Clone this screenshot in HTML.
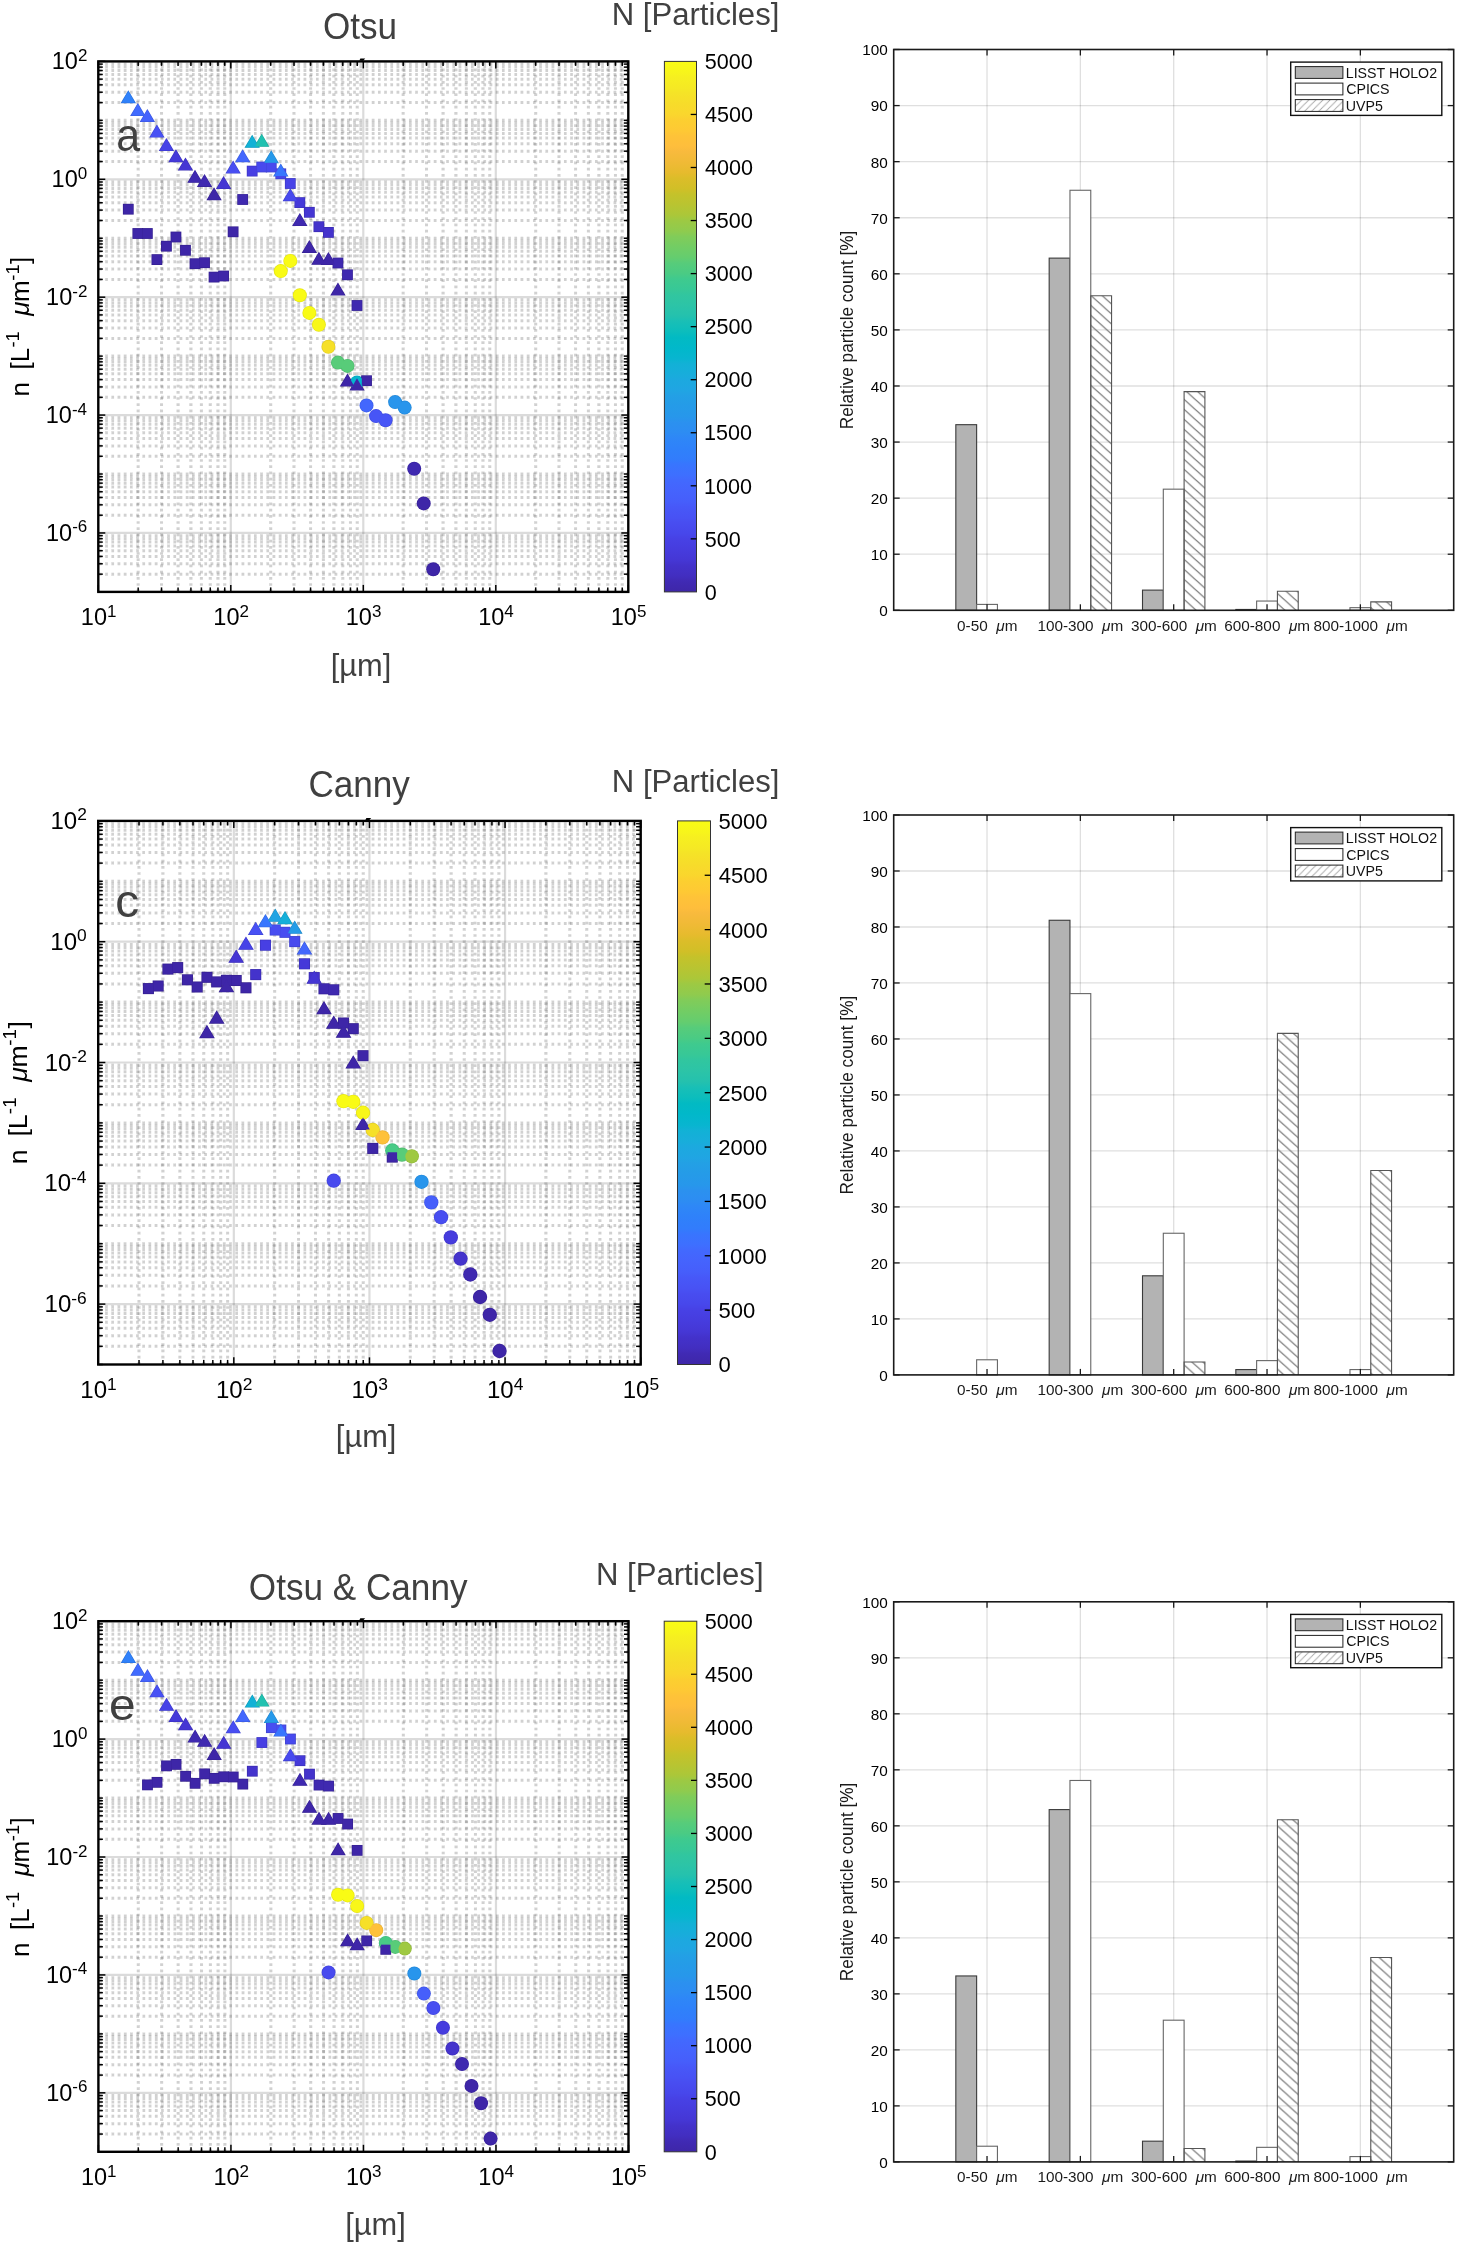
<!DOCTYPE html><html><head><meta charset="utf-8"><style>html,body{margin:0;padding:0;background:#fff}svg{display:block;will-change:transform}text{white-space:pre}</style></head><body>
<svg width="1458" height="2244" viewBox="0 0 1458 2244" font-family='"Liberation Sans", sans-serif'>
<rect width="1458" height="2244" fill="#fff"/>
<defs><filter id="gb" x="-1%" y="-1%" width="102%" height="102%"><feGaussianBlur stdDeviation="0.55"/></filter></defs>
<g stroke="#262626" stroke-opacity="0.21" stroke-width="3.0" fill="none" filter="url(#gb)">
<line x1="138.19" y1="591.9" x2="138.19" y2="61.4" stroke-dasharray="2.7 3.5" stroke-dashoffset="0.15"/>
<line x1="161.52" y1="591.9" x2="161.52" y2="61.4" stroke-dasharray="2.7 3.5" stroke-dashoffset="0.15"/>
<line x1="178.07" y1="591.9" x2="178.07" y2="61.4" stroke-dasharray="2.7 3.5" stroke-dashoffset="0.15"/>
<line x1="190.91" y1="591.9" x2="190.91" y2="61.4" stroke-dasharray="2.7 3.5" stroke-dashoffset="0.15"/>
<line x1="201.41" y1="591.9" x2="201.41" y2="61.4" stroke-dasharray="2.7 3.5" stroke-dashoffset="0.15"/>
<line x1="210.28" y1="591.9" x2="210.28" y2="61.4" stroke-dasharray="2.7 3.5" stroke-dashoffset="0.15"/>
<line x1="217.96" y1="591.9" x2="217.96" y2="61.4" stroke-dasharray="2.7 3.5" stroke-dashoffset="0.15"/>
<line x1="224.74" y1="591.9" x2="224.74" y2="61.4" stroke-dasharray="2.7 3.5" stroke-dashoffset="0.15"/>
<line x1="270.69" y1="591.9" x2="270.69" y2="61.4" stroke-dasharray="2.7 3.5" stroke-dashoffset="0.15"/>
<line x1="294.02" y1="591.9" x2="294.02" y2="61.4" stroke-dasharray="2.7 3.5" stroke-dashoffset="0.15"/>
<line x1="310.57" y1="591.9" x2="310.57" y2="61.4" stroke-dasharray="2.7 3.5" stroke-dashoffset="0.15"/>
<line x1="323.41" y1="591.9" x2="323.41" y2="61.4" stroke-dasharray="2.7 3.5" stroke-dashoffset="0.15"/>
<line x1="333.91" y1="591.9" x2="333.91" y2="61.4" stroke-dasharray="2.7 3.5" stroke-dashoffset="0.15"/>
<line x1="342.78" y1="591.9" x2="342.78" y2="61.4" stroke-dasharray="2.7 3.5" stroke-dashoffset="0.15"/>
<line x1="350.46" y1="591.9" x2="350.46" y2="61.4" stroke-dasharray="2.7 3.5" stroke-dashoffset="0.15"/>
<line x1="357.24" y1="591.9" x2="357.24" y2="61.4" stroke-dasharray="2.7 3.5" stroke-dashoffset="0.15"/>
<line x1="403.19" y1="591.9" x2="403.19" y2="61.4" stroke-dasharray="2.7 3.5" stroke-dashoffset="0.15"/>
<line x1="426.52" y1="591.9" x2="426.52" y2="61.4" stroke-dasharray="2.7 3.5" stroke-dashoffset="0.15"/>
<line x1="443.07" y1="591.9" x2="443.07" y2="61.4" stroke-dasharray="2.7 3.5" stroke-dashoffset="0.15"/>
<line x1="455.91" y1="591.9" x2="455.91" y2="61.4" stroke-dasharray="2.7 3.5" stroke-dashoffset="0.15"/>
<line x1="466.41" y1="591.9" x2="466.41" y2="61.4" stroke-dasharray="2.7 3.5" stroke-dashoffset="0.15"/>
<line x1="475.28" y1="591.9" x2="475.28" y2="61.4" stroke-dasharray="2.7 3.5" stroke-dashoffset="0.15"/>
<line x1="482.96" y1="591.9" x2="482.96" y2="61.4" stroke-dasharray="2.7 3.5" stroke-dashoffset="0.15"/>
<line x1="489.74" y1="591.9" x2="489.74" y2="61.4" stroke-dasharray="2.7 3.5" stroke-dashoffset="0.15"/>
<line x1="535.69" y1="591.9" x2="535.69" y2="61.4" stroke-dasharray="2.7 3.5" stroke-dashoffset="0.15"/>
<line x1="559.02" y1="591.9" x2="559.02" y2="61.4" stroke-dasharray="2.7 3.5" stroke-dashoffset="0.15"/>
<line x1="575.57" y1="591.9" x2="575.57" y2="61.4" stroke-dasharray="2.7 3.5" stroke-dashoffset="0.15"/>
<line x1="588.41" y1="591.9" x2="588.41" y2="61.4" stroke-dasharray="2.7 3.5" stroke-dashoffset="0.15"/>
<line x1="598.91" y1="591.9" x2="598.91" y2="61.4" stroke-dasharray="2.7 3.5" stroke-dashoffset="0.15"/>
<line x1="607.78" y1="591.9" x2="607.78" y2="61.4" stroke-dasharray="2.7 3.5" stroke-dashoffset="0.15"/>
<line x1="615.46" y1="591.9" x2="615.46" y2="61.4" stroke-dasharray="2.7 3.5" stroke-dashoffset="0.15"/>
<line x1="622.24" y1="591.9" x2="622.24" y2="61.4" stroke-dasharray="2.7 3.5" stroke-dashoffset="0.15"/>
<line x1="98.3" y1="574.16" x2="628.3" y2="574.16" stroke-dasharray="2.7 3.5" stroke-dashoffset="-0.68"/>
<line x1="98.3" y1="563.78" x2="628.3" y2="563.78" stroke-dasharray="2.7 3.5" stroke-dashoffset="-0.68"/>
<line x1="98.3" y1="556.41" x2="628.3" y2="556.41" stroke-dasharray="2.7 3.5" stroke-dashoffset="-0.68"/>
<line x1="98.3" y1="550.7" x2="628.3" y2="550.7" stroke-dasharray="2.7 3.5" stroke-dashoffset="-0.68"/>
<line x1="98.3" y1="546.03" x2="628.3" y2="546.03" stroke-dasharray="2.7 3.5" stroke-dashoffset="-0.68"/>
<line x1="98.3" y1="542.09" x2="628.3" y2="542.09" stroke-dasharray="2.7 3.5" stroke-dashoffset="-0.68"/>
<line x1="98.3" y1="538.67" x2="628.3" y2="538.67" stroke-dasharray="2.7 3.5" stroke-dashoffset="-0.68"/>
<line x1="98.3" y1="535.65" x2="628.3" y2="535.65" stroke-dasharray="2.7 3.5" stroke-dashoffset="-0.68"/>
<line x1="98.3" y1="515.21" x2="628.3" y2="515.21" stroke-dasharray="2.7 3.5" stroke-dashoffset="-0.68"/>
<line x1="98.3" y1="504.83" x2="628.3" y2="504.83" stroke-dasharray="2.7 3.5" stroke-dashoffset="-0.68"/>
<line x1="98.3" y1="497.47" x2="628.3" y2="497.47" stroke-dasharray="2.7 3.5" stroke-dashoffset="-0.68"/>
<line x1="98.3" y1="491.76" x2="628.3" y2="491.76" stroke-dasharray="2.7 3.5" stroke-dashoffset="-0.68"/>
<line x1="98.3" y1="487.09" x2="628.3" y2="487.09" stroke-dasharray="2.7 3.5" stroke-dashoffset="-0.68"/>
<line x1="98.3" y1="483.14" x2="628.3" y2="483.14" stroke-dasharray="2.7 3.5" stroke-dashoffset="-0.68"/>
<line x1="98.3" y1="479.72" x2="628.3" y2="479.72" stroke-dasharray="2.7 3.5" stroke-dashoffset="-0.68"/>
<line x1="98.3" y1="476.71" x2="628.3" y2="476.71" stroke-dasharray="2.7 3.5" stroke-dashoffset="-0.68"/>
<line x1="98.3" y1="474.01" x2="628.3" y2="474.01" stroke-dasharray="2.7 3.5" stroke-dashoffset="-0.68"/>
<line x1="98.3" y1="456.27" x2="628.3" y2="456.27" stroke-dasharray="2.7 3.5" stroke-dashoffset="-0.68"/>
<line x1="98.3" y1="445.89" x2="628.3" y2="445.89" stroke-dasharray="2.7 3.5" stroke-dashoffset="-0.68"/>
<line x1="98.3" y1="438.52" x2="628.3" y2="438.52" stroke-dasharray="2.7 3.5" stroke-dashoffset="-0.68"/>
<line x1="98.3" y1="432.81" x2="628.3" y2="432.81" stroke-dasharray="2.7 3.5" stroke-dashoffset="-0.68"/>
<line x1="98.3" y1="428.14" x2="628.3" y2="428.14" stroke-dasharray="2.7 3.5" stroke-dashoffset="-0.68"/>
<line x1="98.3" y1="424.2" x2="628.3" y2="424.2" stroke-dasharray="2.7 3.5" stroke-dashoffset="-0.68"/>
<line x1="98.3" y1="420.78" x2="628.3" y2="420.78" stroke-dasharray="2.7 3.5" stroke-dashoffset="-0.68"/>
<line x1="98.3" y1="417.76" x2="628.3" y2="417.76" stroke-dasharray="2.7 3.5" stroke-dashoffset="-0.68"/>
<line x1="98.3" y1="397.32" x2="628.3" y2="397.32" stroke-dasharray="2.7 3.5" stroke-dashoffset="-0.68"/>
<line x1="98.3" y1="386.94" x2="628.3" y2="386.94" stroke-dasharray="2.7 3.5" stroke-dashoffset="-0.68"/>
<line x1="98.3" y1="379.58" x2="628.3" y2="379.58" stroke-dasharray="2.7 3.5" stroke-dashoffset="-0.68"/>
<line x1="98.3" y1="373.87" x2="628.3" y2="373.87" stroke-dasharray="2.7 3.5" stroke-dashoffset="-0.68"/>
<line x1="98.3" y1="369.2" x2="628.3" y2="369.2" stroke-dasharray="2.7 3.5" stroke-dashoffset="-0.68"/>
<line x1="98.3" y1="365.25" x2="628.3" y2="365.25" stroke-dasharray="2.7 3.5" stroke-dashoffset="-0.68"/>
<line x1="98.3" y1="361.83" x2="628.3" y2="361.83" stroke-dasharray="2.7 3.5" stroke-dashoffset="-0.68"/>
<line x1="98.3" y1="358.82" x2="628.3" y2="358.82" stroke-dasharray="2.7 3.5" stroke-dashoffset="-0.68"/>
<line x1="98.3" y1="356.12" x2="628.3" y2="356.12" stroke-dasharray="2.7 3.5" stroke-dashoffset="-0.68"/>
<line x1="98.3" y1="338.38" x2="628.3" y2="338.38" stroke-dasharray="2.7 3.5" stroke-dashoffset="-0.68"/>
<line x1="98.3" y1="328" x2="628.3" y2="328" stroke-dasharray="2.7 3.5" stroke-dashoffset="-0.68"/>
<line x1="98.3" y1="320.63" x2="628.3" y2="320.63" stroke-dasharray="2.7 3.5" stroke-dashoffset="-0.68"/>
<line x1="98.3" y1="314.92" x2="628.3" y2="314.92" stroke-dasharray="2.7 3.5" stroke-dashoffset="-0.68"/>
<line x1="98.3" y1="310.25" x2="628.3" y2="310.25" stroke-dasharray="2.7 3.5" stroke-dashoffset="-0.68"/>
<line x1="98.3" y1="306.31" x2="628.3" y2="306.31" stroke-dasharray="2.7 3.5" stroke-dashoffset="-0.68"/>
<line x1="98.3" y1="302.89" x2="628.3" y2="302.89" stroke-dasharray="2.7 3.5" stroke-dashoffset="-0.68"/>
<line x1="98.3" y1="299.87" x2="628.3" y2="299.87" stroke-dasharray="2.7 3.5" stroke-dashoffset="-0.68"/>
<line x1="98.3" y1="279.43" x2="628.3" y2="279.43" stroke-dasharray="2.7 3.5" stroke-dashoffset="-0.68"/>
<line x1="98.3" y1="269.05" x2="628.3" y2="269.05" stroke-dasharray="2.7 3.5" stroke-dashoffset="-0.68"/>
<line x1="98.3" y1="261.69" x2="628.3" y2="261.69" stroke-dasharray="2.7 3.5" stroke-dashoffset="-0.68"/>
<line x1="98.3" y1="255.98" x2="628.3" y2="255.98" stroke-dasharray="2.7 3.5" stroke-dashoffset="-0.68"/>
<line x1="98.3" y1="251.31" x2="628.3" y2="251.31" stroke-dasharray="2.7 3.5" stroke-dashoffset="-0.68"/>
<line x1="98.3" y1="247.36" x2="628.3" y2="247.36" stroke-dasharray="2.7 3.5" stroke-dashoffset="-0.68"/>
<line x1="98.3" y1="243.95" x2="628.3" y2="243.95" stroke-dasharray="2.7 3.5" stroke-dashoffset="-0.68"/>
<line x1="98.3" y1="240.93" x2="628.3" y2="240.93" stroke-dasharray="2.7 3.5" stroke-dashoffset="-0.68"/>
<line x1="98.3" y1="238.23" x2="628.3" y2="238.23" stroke-dasharray="2.7 3.5" stroke-dashoffset="-0.68"/>
<line x1="98.3" y1="220.49" x2="628.3" y2="220.49" stroke-dasharray="2.7 3.5" stroke-dashoffset="-0.68"/>
<line x1="98.3" y1="210.11" x2="628.3" y2="210.11" stroke-dasharray="2.7 3.5" stroke-dashoffset="-0.68"/>
<line x1="98.3" y1="202.75" x2="628.3" y2="202.75" stroke-dasharray="2.7 3.5" stroke-dashoffset="-0.68"/>
<line x1="98.3" y1="197.03" x2="628.3" y2="197.03" stroke-dasharray="2.7 3.5" stroke-dashoffset="-0.68"/>
<line x1="98.3" y1="192.37" x2="628.3" y2="192.37" stroke-dasharray="2.7 3.5" stroke-dashoffset="-0.68"/>
<line x1="98.3" y1="188.42" x2="628.3" y2="188.42" stroke-dasharray="2.7 3.5" stroke-dashoffset="-0.68"/>
<line x1="98.3" y1="185" x2="628.3" y2="185" stroke-dasharray="2.7 3.5" stroke-dashoffset="-0.68"/>
<line x1="98.3" y1="181.99" x2="628.3" y2="181.99" stroke-dasharray="2.7 3.5" stroke-dashoffset="-0.68"/>
<line x1="98.3" y1="161.54" x2="628.3" y2="161.54" stroke-dasharray="2.7 3.5" stroke-dashoffset="-0.68"/>
<line x1="98.3" y1="151.17" x2="628.3" y2="151.17" stroke-dasharray="2.7 3.5" stroke-dashoffset="-0.68"/>
<line x1="98.3" y1="143.8" x2="628.3" y2="143.8" stroke-dasharray="2.7 3.5" stroke-dashoffset="-0.68"/>
<line x1="98.3" y1="138.09" x2="628.3" y2="138.09" stroke-dasharray="2.7 3.5" stroke-dashoffset="-0.68"/>
<line x1="98.3" y1="133.42" x2="628.3" y2="133.42" stroke-dasharray="2.7 3.5" stroke-dashoffset="-0.68"/>
<line x1="98.3" y1="129.48" x2="628.3" y2="129.48" stroke-dasharray="2.7 3.5" stroke-dashoffset="-0.68"/>
<line x1="98.3" y1="126.06" x2="628.3" y2="126.06" stroke-dasharray="2.7 3.5" stroke-dashoffset="-0.68"/>
<line x1="98.3" y1="123.04" x2="628.3" y2="123.04" stroke-dasharray="2.7 3.5" stroke-dashoffset="-0.68"/>
<line x1="98.3" y1="120.34" x2="628.3" y2="120.34" stroke-dasharray="2.7 3.5" stroke-dashoffset="-0.68"/>
<line x1="98.3" y1="102.6" x2="628.3" y2="102.6" stroke-dasharray="2.7 3.5" stroke-dashoffset="-0.68"/>
<line x1="98.3" y1="92.22" x2="628.3" y2="92.22" stroke-dasharray="2.7 3.5" stroke-dashoffset="-0.68"/>
<line x1="98.3" y1="84.86" x2="628.3" y2="84.86" stroke-dasharray="2.7 3.5" stroke-dashoffset="-0.68"/>
<line x1="98.3" y1="79.14" x2="628.3" y2="79.14" stroke-dasharray="2.7 3.5" stroke-dashoffset="-0.68"/>
<line x1="98.3" y1="74.48" x2="628.3" y2="74.48" stroke-dasharray="2.7 3.5" stroke-dashoffset="-0.68"/>
<line x1="98.3" y1="70.53" x2="628.3" y2="70.53" stroke-dasharray="2.7 3.5" stroke-dashoffset="-0.68"/>
<line x1="98.3" y1="67.11" x2="628.3" y2="67.11" stroke-dasharray="2.7 3.5" stroke-dashoffset="-0.68"/>
<line x1="98.3" y1="64.1" x2="628.3" y2="64.1" stroke-dasharray="2.7 3.5" stroke-dashoffset="-0.68"/>
</g>
<g stroke="#262626" stroke-opacity="0.165" stroke-width="2.2" fill="none">
<line x1="230.8" y1="61.4" x2="230.8" y2="591.9"/>
<line x1="363.3" y1="61.4" x2="363.3" y2="591.9"/>
<line x1="495.8" y1="61.4" x2="495.8" y2="591.9"/>
<line x1="98.3" y1="532.96" x2="628.3" y2="532.96"/>
<line x1="98.3" y1="415.07" x2="628.3" y2="415.07"/>
<line x1="98.3" y1="297.18" x2="628.3" y2="297.18"/>
<line x1="98.3" y1="179.29" x2="628.3" y2="179.29"/>
</g>
<circle cx="280.77" cy="271.1" r="7" fill="#e5e613"/>
<circle cx="290.3" cy="260.9" r="7" fill="#e5e613"/>
<circle cx="299.83" cy="295.3" r="7" fill="#e5e613"/>
<circle cx="309.36" cy="312.9" r="7" fill="#e5e613"/>
<circle cx="318.89" cy="324.8" r="7" fill="#e4e317"/>
<circle cx="328.42" cy="346.7" r="7" fill="#e2ce24"/>
<circle cx="337.94" cy="362.6" r="7" fill="#50bb6f"/>
<circle cx="347.47" cy="365.9" r="7" fill="#50bb6f"/>
<circle cx="357" cy="382.5" r="7" fill="#04a7bd"/>
<circle cx="366.53" cy="405.4" r="7" fill="#3d5ee8"/>
<circle cx="376.06" cy="416.1" r="7" fill="#414ee2"/>
<circle cx="385.59" cy="420.2" r="7" fill="#414ee2"/>
<circle cx="395.12" cy="402.1" r="7" fill="#2489d9"/>
<circle cx="404.65" cy="407.6" r="7" fill="#2489d9"/>
<circle cx="414.18" cy="468.8" r="7" fill="#3925a1"/>
<circle cx="423.71" cy="503.4" r="7" fill="#39229a"/>
<circle cx="433.24" cy="569.2" r="7" fill="#39229a"/>
<rect x="122.9" y="203.8" width="10.8" height="10.8" fill="#352090"/>
<rect x="132.43" y="228.1" width="10.8" height="10.8" fill="#352090"/>
<rect x="141.96" y="228.1" width="10.8" height="10.8" fill="#352090"/>
<rect x="151.49" y="254.2" width="10.8" height="10.8" fill="#352090"/>
<rect x="161.02" y="240.8" width="10.8" height="10.8" fill="#352090"/>
<rect x="170.54" y="231.6" width="10.8" height="10.8" fill="#352090"/>
<rect x="180.07" y="244.9" width="10.8" height="10.8" fill="#352090"/>
<rect x="189.6" y="258.3" width="10.8" height="10.8" fill="#352090"/>
<rect x="199.13" y="257.3" width="10.8" height="10.8" fill="#352090"/>
<rect x="208.66" y="271.7" width="10.8" height="10.8" fill="#352090"/>
<rect x="218.19" y="270.6" width="10.8" height="10.8" fill="#352090"/>
<rect x="227.72" y="226.4" width="10.8" height="10.8" fill="#352090"/>
<rect x="237.25" y="194.1" width="10.8" height="10.8" fill="#362397"/>
<rect x="246.78" y="165.7" width="10.8" height="10.8" fill="#3d36c3"/>
<rect x="256.31" y="161.6" width="10.8" height="10.8" fill="#3d3fcc"/>
<rect x="265.84" y="161.6" width="10.8" height="10.8" fill="#3d3fcc"/>
<rect x="275.37" y="168.4" width="10.8" height="10.8" fill="#3d3dca"/>
<rect x="284.9" y="178.1" width="10.8" height="10.8" fill="#3d39c6"/>
<rect x="294.43" y="197.2" width="10.8" height="10.8" fill="#3b31ba"/>
<rect x="303.96" y="206.9" width="10.8" height="10.8" fill="#3b2eb5"/>
<rect x="313.49" y="221.3" width="10.8" height="10.8" fill="#3a2baf"/>
<rect x="323.02" y="227" width="10.8" height="10.8" fill="#3a2baf"/>
<rect x="332.54" y="257.6" width="10.8" height="10.8" fill="#362397"/>
<rect x="342.07" y="269.4" width="10.8" height="10.8" fill="#362397"/>
<rect x="351.6" y="300.1" width="10.8" height="10.8" fill="#362397"/>
<rect x="361.13" y="375.3" width="10.8" height="10.8" fill="#352090"/>
<path d="M128.3 90.3L136 103.3L120.6 103.3Z" fill="#286ed7"/>
<path d="M137.83 102.9L145.53 115.9L130.13 115.9Z" fill="#375cda"/>
<path d="M147.36 109.1L155.06 122.1L139.66 122.1Z" fill="#3b55d9"/>
<path d="M156.89 124.5L164.59 137.5L149.19 137.5Z" fill="#3d45d1"/>
<path d="M166.42 137.9L174.12 150.9L158.72 150.9Z" fill="#3d39c6"/>
<path d="M175.94 149.2L183.64 162.2L168.25 162.2Z" fill="#3b31ba"/>
<path d="M185.47 157.4L193.17 170.4L177.77 170.4Z" fill="#3b2eb5"/>
<path d="M195 169.8L202.7 182.8L187.3 182.8Z" fill="#362397"/>
<path d="M204.53 173.9L212.23 186.9L196.83 186.9Z" fill="#362397"/>
<path d="M214.06 187.2L221.76 200.2L206.36 200.2Z" fill="#352090"/>
<path d="M223.59 175.9L231.29 188.9L215.89 188.9Z" fill="#3b2eb5"/>
<path d="M233.12 160.5L240.82 173.5L225.42 173.5Z" fill="#3d43cf"/>
<path d="M242.65 149.2L250.35 162.2L234.95 162.2Z" fill="#3958d9"/>
<path d="M252.18 134.8L259.88 147.8L244.48 147.8Z" fill="#0e98b8"/>
<path d="M261.71 133.7L269.41 146.7L254.01 146.7Z" fill="#1ca597"/>
<path d="M271.24 150.2L278.94 163.2L263.54 163.2Z" fill="#2083c9"/>
<path d="M280.77 163.6L288.47 176.6L273.07 176.6Z" fill="#3065da"/>
<path d="M290.3 188.3L298 201.3L282.6 201.3Z" fill="#3d3fcc"/>
<path d="M299.83 213L307.53 226L292.13 226Z" fill="#362397"/>
<path d="M309.36 239.9L317.06 252.9L301.66 252.9Z" fill="#352090"/>
<path d="M318.89 251.8L326.59 264.8L311.19 264.8Z" fill="#352090"/>
<path d="M328.42 251.9L336.12 264.9L320.72 264.9Z" fill="#352090"/>
<path d="M337.94 282.4L345.64 295.4L330.24 295.4Z" fill="#352090"/>
<path d="M347.47 373.4L355.17 386.4L339.77 386.4Z" fill="#352090"/>
<path d="M357 377.5L364.7 390.5L349.3 390.5Z" fill="#352090"/>
<circle cx="280.77" cy="271.1" r="6.3" fill="#f9fb15"/>
<circle cx="290.3" cy="260.9" r="6.3" fill="#f9fb15"/>
<circle cx="299.83" cy="295.3" r="6.3" fill="#f9fb15"/>
<circle cx="309.36" cy="312.9" r="6.3" fill="#f9fb15"/>
<circle cx="318.89" cy="324.8" r="6.3" fill="#f8f719"/>
<circle cx="328.42" cy="346.7" r="6.3" fill="#f6e028"/>
<circle cx="337.94" cy="362.6" r="6.3" fill="#58cc79"/>
<circle cx="347.47" cy="365.9" r="6.3" fill="#58cc79"/>
<circle cx="357" cy="382.5" r="6.3" fill="#05b6ce"/>
<circle cx="366.53" cy="405.4" r="6.3" fill="#4367fd"/>
<circle cx="376.06" cy="416.1" r="6.3" fill="#4755f6"/>
<circle cx="385.59" cy="420.2" r="6.3" fill="#4755f6"/>
<circle cx="395.12" cy="402.1" r="6.3" fill="#2895ec"/>
<circle cx="404.65" cy="407.6" r="6.3" fill="#2895ec"/>
<circle cx="414.18" cy="468.8" r="6.3" fill="#3f29b0"/>
<circle cx="423.71" cy="503.4" r="6.3" fill="#3e26a8"/>
<circle cx="433.24" cy="569.2" r="6.3" fill="#3e26a8"/>
<rect x="123.6" y="204.5" width="9.4" height="9.4" fill="#3e26a8"/>
<rect x="133.13" y="228.8" width="9.4" height="9.4" fill="#3e26a8"/>
<rect x="142.66" y="228.8" width="9.4" height="9.4" fill="#3e26a8"/>
<rect x="152.19" y="254.9" width="9.4" height="9.4" fill="#3e26a8"/>
<rect x="161.72" y="241.5" width="9.4" height="9.4" fill="#3e26a8"/>
<rect x="171.25" y="232.3" width="9.4" height="9.4" fill="#3e26a8"/>
<rect x="180.77" y="245.6" width="9.4" height="9.4" fill="#3e26a8"/>
<rect x="190.3" y="259" width="9.4" height="9.4" fill="#3e26a8"/>
<rect x="199.83" y="258" width="9.4" height="9.4" fill="#3e26a8"/>
<rect x="209.36" y="272.4" width="9.4" height="9.4" fill="#3e26a8"/>
<rect x="218.89" y="271.3" width="9.4" height="9.4" fill="#3e26a8"/>
<rect x="228.42" y="227.1" width="9.4" height="9.4" fill="#3e26a8"/>
<rect x="237.95" y="194.8" width="9.4" height="9.4" fill="#3f29b0"/>
<rect x="247.48" y="166.4" width="9.4" height="9.4" fill="#473fe3"/>
<rect x="257.01" y="162.3" width="9.4" height="9.4" fill="#484aee"/>
<rect x="266.54" y="162.3" width="9.4" height="9.4" fill="#484aee"/>
<rect x="276.07" y="169.1" width="9.4" height="9.4" fill="#4747eb"/>
<rect x="285.6" y="178.8" width="9.4" height="9.4" fill="#4743e7"/>
<rect x="295.13" y="197.9" width="9.4" height="9.4" fill="#4539d9"/>
<rect x="304.66" y="207.6" width="9.4" height="9.4" fill="#4536d3"/>
<rect x="314.19" y="222" width="9.4" height="9.4" fill="#4433cc"/>
<rect x="323.72" y="227.7" width="9.4" height="9.4" fill="#4433cc"/>
<rect x="333.24" y="258.3" width="9.4" height="9.4" fill="#3f29b0"/>
<rect x="342.77" y="270.1" width="9.4" height="9.4" fill="#3f29b0"/>
<rect x="352.3" y="300.8" width="9.4" height="9.4" fill="#3f29b0"/>
<rect x="361.83" y="376" width="9.4" height="9.4" fill="#3e26a8"/>
<path d="M128.3 91.03L134.95 102.78L121.65 102.78Z" fill="#2f81fa"/>
<path d="M137.83 103.64L144.48 115.38L131.18 115.38Z" fill="#416bfe"/>
<path d="M147.36 109.83L154.01 121.58L140.71 121.58Z" fill="#4563fd"/>
<path d="M156.89 125.23L163.54 136.97L150.24 136.97Z" fill="#4851f4"/>
<path d="M166.42 138.63L173.07 150.38L159.77 150.38Z" fill="#4743e7"/>
<path d="M175.94 149.93L182.59 161.67L169.29 161.67Z" fill="#4539d9"/>
<path d="M185.47 158.13L192.12 169.88L178.82 169.88Z" fill="#4536d3"/>
<path d="M195 170.53L201.65 182.28L188.35 182.28Z" fill="#3f29b0"/>
<path d="M204.53 174.63L211.18 186.37L197.88 186.37Z" fill="#3f29b0"/>
<path d="M214.06 187.93L220.71 199.67L207.41 199.67Z" fill="#3e26a8"/>
<path d="M223.59 176.63L230.24 188.38L216.94 188.38Z" fill="#4536d3"/>
<path d="M233.12 161.23L239.77 172.97L226.47 172.97Z" fill="#484ef1"/>
<path d="M242.65 149.93L249.3 161.67L236 161.67Z" fill="#4367fd"/>
<path d="M252.18 135.53L258.83 147.28L245.53 147.28Z" fill="#11b1d6"/>
<path d="M261.71 134.43L268.36 146.17L255.06 146.17Z" fill="#21c1b0"/>
<path d="M271.24 150.93L277.89 162.67L264.59 162.67Z" fill="#2699ea"/>
<path d="M280.77 164.33L287.42 176.07L274.12 176.07Z" fill="#3876fe"/>
<path d="M290.3 189.03L296.95 200.78L283.65 200.78Z" fill="#484aee"/>
<path d="M299.83 213.73L306.48 225.47L293.18 225.47Z" fill="#3f29b0"/>
<path d="M309.36 240.63L316.01 252.38L302.71 252.38Z" fill="#3e26a8"/>
<path d="M318.89 252.53L325.54 264.28L312.24 264.28Z" fill="#3e26a8"/>
<path d="M328.42 252.63L335.07 264.38L321.77 264.38Z" fill="#3e26a8"/>
<path d="M337.94 283.13L344.59 294.88L331.29 294.88Z" fill="#3e26a8"/>
<path d="M347.47 374.13L354.12 385.88L340.82 385.88Z" fill="#3e26a8"/>
<path d="M357 378.24L363.65 389.98L350.35 389.98Z" fill="#3e26a8"/>
<g stroke="#000" stroke-width="1.5" fill="none">
<line x1="98.3" y1="591.9" x2="98.3" y2="584.9"/>
<line x1="98.3" y1="61.4" x2="98.3" y2="68.4"/>
<line x1="138.19" y1="591.9" x2="138.19" y2="587.4"/>
<line x1="138.19" y1="61.4" x2="138.19" y2="65.9"/>
<line x1="161.52" y1="591.9" x2="161.52" y2="587.4"/>
<line x1="161.52" y1="61.4" x2="161.52" y2="65.9"/>
<line x1="178.07" y1="591.9" x2="178.07" y2="587.4"/>
<line x1="178.07" y1="61.4" x2="178.07" y2="65.9"/>
<line x1="190.91" y1="591.9" x2="190.91" y2="587.4"/>
<line x1="190.91" y1="61.4" x2="190.91" y2="65.9"/>
<line x1="201.41" y1="591.9" x2="201.41" y2="587.4"/>
<line x1="201.41" y1="61.4" x2="201.41" y2="65.9"/>
<line x1="210.28" y1="591.9" x2="210.28" y2="587.4"/>
<line x1="210.28" y1="61.4" x2="210.28" y2="65.9"/>
<line x1="217.96" y1="591.9" x2="217.96" y2="587.4"/>
<line x1="217.96" y1="61.4" x2="217.96" y2="65.9"/>
<line x1="224.74" y1="591.9" x2="224.74" y2="587.4"/>
<line x1="224.74" y1="61.4" x2="224.74" y2="65.9"/>
<line x1="230.8" y1="591.9" x2="230.8" y2="584.9"/>
<line x1="230.8" y1="61.4" x2="230.8" y2="68.4"/>
<line x1="270.69" y1="591.9" x2="270.69" y2="587.4"/>
<line x1="270.69" y1="61.4" x2="270.69" y2="65.9"/>
<line x1="294.02" y1="591.9" x2="294.02" y2="587.4"/>
<line x1="294.02" y1="61.4" x2="294.02" y2="65.9"/>
<line x1="310.57" y1="591.9" x2="310.57" y2="587.4"/>
<line x1="310.57" y1="61.4" x2="310.57" y2="65.9"/>
<line x1="323.41" y1="591.9" x2="323.41" y2="587.4"/>
<line x1="323.41" y1="61.4" x2="323.41" y2="65.9"/>
<line x1="333.91" y1="591.9" x2="333.91" y2="587.4"/>
<line x1="333.91" y1="61.4" x2="333.91" y2="65.9"/>
<line x1="342.78" y1="591.9" x2="342.78" y2="587.4"/>
<line x1="342.78" y1="61.4" x2="342.78" y2="65.9"/>
<line x1="350.46" y1="591.9" x2="350.46" y2="587.4"/>
<line x1="350.46" y1="61.4" x2="350.46" y2="65.9"/>
<line x1="357.24" y1="591.9" x2="357.24" y2="587.4"/>
<line x1="357.24" y1="61.4" x2="357.24" y2="65.9"/>
<line x1="363.3" y1="591.9" x2="363.3" y2="584.9"/>
<line x1="363.3" y1="61.4" x2="363.3" y2="68.4"/>
<line x1="403.19" y1="591.9" x2="403.19" y2="587.4"/>
<line x1="403.19" y1="61.4" x2="403.19" y2="65.9"/>
<line x1="426.52" y1="591.9" x2="426.52" y2="587.4"/>
<line x1="426.52" y1="61.4" x2="426.52" y2="65.9"/>
<line x1="443.07" y1="591.9" x2="443.07" y2="587.4"/>
<line x1="443.07" y1="61.4" x2="443.07" y2="65.9"/>
<line x1="455.91" y1="591.9" x2="455.91" y2="587.4"/>
<line x1="455.91" y1="61.4" x2="455.91" y2="65.9"/>
<line x1="466.41" y1="591.9" x2="466.41" y2="587.4"/>
<line x1="466.41" y1="61.4" x2="466.41" y2="65.9"/>
<line x1="475.28" y1="591.9" x2="475.28" y2="587.4"/>
<line x1="475.28" y1="61.4" x2="475.28" y2="65.9"/>
<line x1="482.96" y1="591.9" x2="482.96" y2="587.4"/>
<line x1="482.96" y1="61.4" x2="482.96" y2="65.9"/>
<line x1="489.74" y1="591.9" x2="489.74" y2="587.4"/>
<line x1="489.74" y1="61.4" x2="489.74" y2="65.9"/>
<line x1="495.8" y1="591.9" x2="495.8" y2="584.9"/>
<line x1="495.8" y1="61.4" x2="495.8" y2="68.4"/>
<line x1="535.69" y1="591.9" x2="535.69" y2="587.4"/>
<line x1="535.69" y1="61.4" x2="535.69" y2="65.9"/>
<line x1="559.02" y1="591.9" x2="559.02" y2="587.4"/>
<line x1="559.02" y1="61.4" x2="559.02" y2="65.9"/>
<line x1="575.57" y1="591.9" x2="575.57" y2="587.4"/>
<line x1="575.57" y1="61.4" x2="575.57" y2="65.9"/>
<line x1="588.41" y1="591.9" x2="588.41" y2="587.4"/>
<line x1="588.41" y1="61.4" x2="588.41" y2="65.9"/>
<line x1="598.91" y1="591.9" x2="598.91" y2="587.4"/>
<line x1="598.91" y1="61.4" x2="598.91" y2="65.9"/>
<line x1="607.78" y1="591.9" x2="607.78" y2="587.4"/>
<line x1="607.78" y1="61.4" x2="607.78" y2="65.9"/>
<line x1="615.46" y1="591.9" x2="615.46" y2="587.4"/>
<line x1="615.46" y1="61.4" x2="615.46" y2="65.9"/>
<line x1="622.24" y1="591.9" x2="622.24" y2="587.4"/>
<line x1="622.24" y1="61.4" x2="622.24" y2="65.9"/>
<line x1="628.3" y1="591.9" x2="628.3" y2="584.9"/>
<line x1="628.3" y1="61.4" x2="628.3" y2="68.4"/>
<line x1="98.3" y1="591.9" x2="102.8" y2="591.9"/>
<line x1="628.3" y1="591.9" x2="623.8" y2="591.9"/>
<line x1="98.3" y1="574.16" x2="102.8" y2="574.16"/>
<line x1="628.3" y1="574.16" x2="623.8" y2="574.16"/>
<line x1="98.3" y1="563.78" x2="102.8" y2="563.78"/>
<line x1="628.3" y1="563.78" x2="623.8" y2="563.78"/>
<line x1="98.3" y1="556.41" x2="102.8" y2="556.41"/>
<line x1="628.3" y1="556.41" x2="623.8" y2="556.41"/>
<line x1="98.3" y1="550.7" x2="102.8" y2="550.7"/>
<line x1="628.3" y1="550.7" x2="623.8" y2="550.7"/>
<line x1="98.3" y1="546.03" x2="102.8" y2="546.03"/>
<line x1="628.3" y1="546.03" x2="623.8" y2="546.03"/>
<line x1="98.3" y1="542.09" x2="102.8" y2="542.09"/>
<line x1="628.3" y1="542.09" x2="623.8" y2="542.09"/>
<line x1="98.3" y1="538.67" x2="102.8" y2="538.67"/>
<line x1="628.3" y1="538.67" x2="623.8" y2="538.67"/>
<line x1="98.3" y1="535.65" x2="102.8" y2="535.65"/>
<line x1="628.3" y1="535.65" x2="623.8" y2="535.65"/>
<line x1="98.3" y1="532.96" x2="105.3" y2="532.96"/>
<line x1="628.3" y1="532.96" x2="621.3" y2="532.96"/>
<line x1="98.3" y1="515.21" x2="102.8" y2="515.21"/>
<line x1="628.3" y1="515.21" x2="623.8" y2="515.21"/>
<line x1="98.3" y1="504.83" x2="102.8" y2="504.83"/>
<line x1="628.3" y1="504.83" x2="623.8" y2="504.83"/>
<line x1="98.3" y1="497.47" x2="102.8" y2="497.47"/>
<line x1="628.3" y1="497.47" x2="623.8" y2="497.47"/>
<line x1="98.3" y1="491.76" x2="102.8" y2="491.76"/>
<line x1="628.3" y1="491.76" x2="623.8" y2="491.76"/>
<line x1="98.3" y1="487.09" x2="102.8" y2="487.09"/>
<line x1="628.3" y1="487.09" x2="623.8" y2="487.09"/>
<line x1="98.3" y1="483.14" x2="102.8" y2="483.14"/>
<line x1="628.3" y1="483.14" x2="623.8" y2="483.14"/>
<line x1="98.3" y1="479.72" x2="102.8" y2="479.72"/>
<line x1="628.3" y1="479.72" x2="623.8" y2="479.72"/>
<line x1="98.3" y1="476.71" x2="102.8" y2="476.71"/>
<line x1="628.3" y1="476.71" x2="623.8" y2="476.71"/>
<line x1="98.3" y1="474.01" x2="102.8" y2="474.01"/>
<line x1="628.3" y1="474.01" x2="623.8" y2="474.01"/>
<line x1="98.3" y1="456.27" x2="102.8" y2="456.27"/>
<line x1="628.3" y1="456.27" x2="623.8" y2="456.27"/>
<line x1="98.3" y1="445.89" x2="102.8" y2="445.89"/>
<line x1="628.3" y1="445.89" x2="623.8" y2="445.89"/>
<line x1="98.3" y1="438.52" x2="102.8" y2="438.52"/>
<line x1="628.3" y1="438.52" x2="623.8" y2="438.52"/>
<line x1="98.3" y1="432.81" x2="102.8" y2="432.81"/>
<line x1="628.3" y1="432.81" x2="623.8" y2="432.81"/>
<line x1="98.3" y1="428.14" x2="102.8" y2="428.14"/>
<line x1="628.3" y1="428.14" x2="623.8" y2="428.14"/>
<line x1="98.3" y1="424.2" x2="102.8" y2="424.2"/>
<line x1="628.3" y1="424.2" x2="623.8" y2="424.2"/>
<line x1="98.3" y1="420.78" x2="102.8" y2="420.78"/>
<line x1="628.3" y1="420.78" x2="623.8" y2="420.78"/>
<line x1="98.3" y1="417.76" x2="102.8" y2="417.76"/>
<line x1="628.3" y1="417.76" x2="623.8" y2="417.76"/>
<line x1="98.3" y1="415.07" x2="105.3" y2="415.07"/>
<line x1="628.3" y1="415.07" x2="621.3" y2="415.07"/>
<line x1="98.3" y1="397.32" x2="102.8" y2="397.32"/>
<line x1="628.3" y1="397.32" x2="623.8" y2="397.32"/>
<line x1="98.3" y1="386.94" x2="102.8" y2="386.94"/>
<line x1="628.3" y1="386.94" x2="623.8" y2="386.94"/>
<line x1="98.3" y1="379.58" x2="102.8" y2="379.58"/>
<line x1="628.3" y1="379.58" x2="623.8" y2="379.58"/>
<line x1="98.3" y1="373.87" x2="102.8" y2="373.87"/>
<line x1="628.3" y1="373.87" x2="623.8" y2="373.87"/>
<line x1="98.3" y1="369.2" x2="102.8" y2="369.2"/>
<line x1="628.3" y1="369.2" x2="623.8" y2="369.2"/>
<line x1="98.3" y1="365.25" x2="102.8" y2="365.25"/>
<line x1="628.3" y1="365.25" x2="623.8" y2="365.25"/>
<line x1="98.3" y1="361.83" x2="102.8" y2="361.83"/>
<line x1="628.3" y1="361.83" x2="623.8" y2="361.83"/>
<line x1="98.3" y1="358.82" x2="102.8" y2="358.82"/>
<line x1="628.3" y1="358.82" x2="623.8" y2="358.82"/>
<line x1="98.3" y1="356.12" x2="102.8" y2="356.12"/>
<line x1="628.3" y1="356.12" x2="623.8" y2="356.12"/>
<line x1="98.3" y1="338.38" x2="102.8" y2="338.38"/>
<line x1="628.3" y1="338.38" x2="623.8" y2="338.38"/>
<line x1="98.3" y1="328" x2="102.8" y2="328"/>
<line x1="628.3" y1="328" x2="623.8" y2="328"/>
<line x1="98.3" y1="320.63" x2="102.8" y2="320.63"/>
<line x1="628.3" y1="320.63" x2="623.8" y2="320.63"/>
<line x1="98.3" y1="314.92" x2="102.8" y2="314.92"/>
<line x1="628.3" y1="314.92" x2="623.8" y2="314.92"/>
<line x1="98.3" y1="310.25" x2="102.8" y2="310.25"/>
<line x1="628.3" y1="310.25" x2="623.8" y2="310.25"/>
<line x1="98.3" y1="306.31" x2="102.8" y2="306.31"/>
<line x1="628.3" y1="306.31" x2="623.8" y2="306.31"/>
<line x1="98.3" y1="302.89" x2="102.8" y2="302.89"/>
<line x1="628.3" y1="302.89" x2="623.8" y2="302.89"/>
<line x1="98.3" y1="299.87" x2="102.8" y2="299.87"/>
<line x1="628.3" y1="299.87" x2="623.8" y2="299.87"/>
<line x1="98.3" y1="297.18" x2="105.3" y2="297.18"/>
<line x1="628.3" y1="297.18" x2="621.3" y2="297.18"/>
<line x1="98.3" y1="279.43" x2="102.8" y2="279.43"/>
<line x1="628.3" y1="279.43" x2="623.8" y2="279.43"/>
<line x1="98.3" y1="269.05" x2="102.8" y2="269.05"/>
<line x1="628.3" y1="269.05" x2="623.8" y2="269.05"/>
<line x1="98.3" y1="261.69" x2="102.8" y2="261.69"/>
<line x1="628.3" y1="261.69" x2="623.8" y2="261.69"/>
<line x1="98.3" y1="255.98" x2="102.8" y2="255.98"/>
<line x1="628.3" y1="255.98" x2="623.8" y2="255.98"/>
<line x1="98.3" y1="251.31" x2="102.8" y2="251.31"/>
<line x1="628.3" y1="251.31" x2="623.8" y2="251.31"/>
<line x1="98.3" y1="247.36" x2="102.8" y2="247.36"/>
<line x1="628.3" y1="247.36" x2="623.8" y2="247.36"/>
<line x1="98.3" y1="243.95" x2="102.8" y2="243.95"/>
<line x1="628.3" y1="243.95" x2="623.8" y2="243.95"/>
<line x1="98.3" y1="240.93" x2="102.8" y2="240.93"/>
<line x1="628.3" y1="240.93" x2="623.8" y2="240.93"/>
<line x1="98.3" y1="238.23" x2="102.8" y2="238.23"/>
<line x1="628.3" y1="238.23" x2="623.8" y2="238.23"/>
<line x1="98.3" y1="220.49" x2="102.8" y2="220.49"/>
<line x1="628.3" y1="220.49" x2="623.8" y2="220.49"/>
<line x1="98.3" y1="210.11" x2="102.8" y2="210.11"/>
<line x1="628.3" y1="210.11" x2="623.8" y2="210.11"/>
<line x1="98.3" y1="202.75" x2="102.8" y2="202.75"/>
<line x1="628.3" y1="202.75" x2="623.8" y2="202.75"/>
<line x1="98.3" y1="197.03" x2="102.8" y2="197.03"/>
<line x1="628.3" y1="197.03" x2="623.8" y2="197.03"/>
<line x1="98.3" y1="192.37" x2="102.8" y2="192.37"/>
<line x1="628.3" y1="192.37" x2="623.8" y2="192.37"/>
<line x1="98.3" y1="188.42" x2="102.8" y2="188.42"/>
<line x1="628.3" y1="188.42" x2="623.8" y2="188.42"/>
<line x1="98.3" y1="185" x2="102.8" y2="185"/>
<line x1="628.3" y1="185" x2="623.8" y2="185"/>
<line x1="98.3" y1="181.99" x2="102.8" y2="181.99"/>
<line x1="628.3" y1="181.99" x2="623.8" y2="181.99"/>
<line x1="98.3" y1="179.29" x2="105.3" y2="179.29"/>
<line x1="628.3" y1="179.29" x2="621.3" y2="179.29"/>
<line x1="98.3" y1="161.54" x2="102.8" y2="161.54"/>
<line x1="628.3" y1="161.54" x2="623.8" y2="161.54"/>
<line x1="98.3" y1="151.17" x2="102.8" y2="151.17"/>
<line x1="628.3" y1="151.17" x2="623.8" y2="151.17"/>
<line x1="98.3" y1="143.8" x2="102.8" y2="143.8"/>
<line x1="628.3" y1="143.8" x2="623.8" y2="143.8"/>
<line x1="98.3" y1="138.09" x2="102.8" y2="138.09"/>
<line x1="628.3" y1="138.09" x2="623.8" y2="138.09"/>
<line x1="98.3" y1="133.42" x2="102.8" y2="133.42"/>
<line x1="628.3" y1="133.42" x2="623.8" y2="133.42"/>
<line x1="98.3" y1="129.48" x2="102.8" y2="129.48"/>
<line x1="628.3" y1="129.48" x2="623.8" y2="129.48"/>
<line x1="98.3" y1="126.06" x2="102.8" y2="126.06"/>
<line x1="628.3" y1="126.06" x2="623.8" y2="126.06"/>
<line x1="98.3" y1="123.04" x2="102.8" y2="123.04"/>
<line x1="628.3" y1="123.04" x2="623.8" y2="123.04"/>
<line x1="98.3" y1="120.34" x2="102.8" y2="120.34"/>
<line x1="628.3" y1="120.34" x2="623.8" y2="120.34"/>
<line x1="98.3" y1="102.6" x2="102.8" y2="102.6"/>
<line x1="628.3" y1="102.6" x2="623.8" y2="102.6"/>
<line x1="98.3" y1="92.22" x2="102.8" y2="92.22"/>
<line x1="628.3" y1="92.22" x2="623.8" y2="92.22"/>
<line x1="98.3" y1="84.86" x2="102.8" y2="84.86"/>
<line x1="628.3" y1="84.86" x2="623.8" y2="84.86"/>
<line x1="98.3" y1="79.14" x2="102.8" y2="79.14"/>
<line x1="628.3" y1="79.14" x2="623.8" y2="79.14"/>
<line x1="98.3" y1="74.48" x2="102.8" y2="74.48"/>
<line x1="628.3" y1="74.48" x2="623.8" y2="74.48"/>
<line x1="98.3" y1="70.53" x2="102.8" y2="70.53"/>
<line x1="628.3" y1="70.53" x2="623.8" y2="70.53"/>
<line x1="98.3" y1="67.11" x2="102.8" y2="67.11"/>
<line x1="628.3" y1="67.11" x2="623.8" y2="67.11"/>
<line x1="98.3" y1="64.1" x2="102.8" y2="64.1"/>
<line x1="628.3" y1="64.1" x2="623.8" y2="64.1"/>
<line x1="98.3" y1="61.4" x2="105.3" y2="61.4"/>
<line x1="628.3" y1="61.4" x2="621.3" y2="61.4"/>
</g>
<rect x="98.3" y="61.4" width="530" height="530.5" fill="none" stroke="#000" stroke-width="2.4"/>
<path d="M359.4 60.4L360.4 58.5L365.2 58.4L363.2 60.8Z" fill="#000"/>
<g font-family='"Liberation Sans", sans-serif' fill="#000">
<text x="80.82" y="624.9" font-size="23.5">10<tspan font-size="17" dy="-8.2">1</tspan></text>
<text x="213.34" y="624.9" font-size="23.5">10<tspan font-size="17" dy="-8.2">2</tspan></text>
<text x="345.78" y="624.9" font-size="23.5">10<tspan font-size="17" dy="-8.2">3</tspan></text>
<text x="478.16" y="624.9" font-size="23.5">10<tspan font-size="17" dy="-8.2">4</tspan></text>
<text x="610.77" y="624.9" font-size="23.5">10<tspan font-size="17" dy="-8.2">5</tspan></text>
<text x="45.99" y="540.96" font-size="23.5">10<tspan font-size="17" dy="-8.5">-6</tspan></text>
<text x="45.74" y="423.07" font-size="23.5">10<tspan font-size="17" dy="-8.5">-4</tspan></text>
<text x="46.1" y="305.18" font-size="23.5">10<tspan font-size="17" dy="-8.5">-2</tspan></text>
<text x="51.57" y="187.29" font-size="23.5">10<tspan font-size="17" dy="-8.5">0</tspan></text>
<text x="51.76" y="69.4" font-size="23.5">10<tspan font-size="17" dy="-8.5">2</tspan></text>
<text transform="translate(322.94 38.7) scale(0.96 1)" font-size="36.6" fill="#404040">Otsu</text>
<text transform="translate(116.18 151.4) scale(0.92 1)" font-size="46.7" fill="#404040">a</text>
<text transform="translate(28.7 396.43) rotate(-90)" font-size="26" fill="#000">n</text>
<text transform="translate(28.7 369.45) rotate(-90)" font-size="26" fill="#000">[L</text>
<text transform="translate(18.5 347.52) rotate(-90)" font-size="18.4" fill="#000">-1</text>
<text transform="translate(28.7 315.75) rotate(-90)" font-size="26" fill="#000" font-style="italic">μ</text>
<text transform="translate(28.7 302.03) rotate(-90)" font-size="26" fill="#000">m</text>
<text transform="translate(18.5 280.72) rotate(-90)" font-size="18.4" fill="#000">-1</text>
<text transform="translate(28.7 263.9) rotate(-90)" font-size="26" fill="#000">]</text>
<text transform="translate(330.74 675.7)" font-size="30.8" fill="#404040">[µm]</text>
</g>
<defs><linearGradient id="pg61" x1="0" y1="1" x2="0" y2="0">
<stop offset="0" stop-color="#3e26a8"/>
<stop offset="0.02" stop-color="#402ab4"/>
<stop offset="0.03" stop-color="#422ec0"/>
<stop offset="0.05" stop-color="#4332cb"/>
<stop offset="0.06" stop-color="#4537d5"/>
<stop offset="0.08" stop-color="#463cde"/>
<stop offset="0.1" stop-color="#4741e5"/>
<stop offset="0.11" stop-color="#4747eb"/>
<stop offset="0.13" stop-color="#484df0"/>
<stop offset="0.14" stop-color="#4852f4"/>
<stop offset="0.16" stop-color="#4758f8"/>
<stop offset="0.17" stop-color="#465efb"/>
<stop offset="0.19" stop-color="#4563fd"/>
<stop offset="0.21" stop-color="#4269fe"/>
<stop offset="0.22" stop-color="#3e6fff"/>
<stop offset="0.24" stop-color="#3875fe"/>
<stop offset="0.25" stop-color="#327cfc"/>
<stop offset="0.27" stop-color="#2f81fa"/>
<stop offset="0.29" stop-color="#2e87f7"/>
<stop offset="0.3" stop-color="#2d8cf3"/>
<stop offset="0.32" stop-color="#2b91ef"/>
<stop offset="0.33" stop-color="#2797eb"/>
<stop offset="0.35" stop-color="#259be8"/>
<stop offset="0.37" stop-color="#23a0e5"/>
<stop offset="0.38" stop-color="#20a5e3"/>
<stop offset="0.4" stop-color="#1ca9df"/>
<stop offset="0.41" stop-color="#18addb"/>
<stop offset="0.43" stop-color="#12b1d6"/>
<stop offset="0.44" stop-color="#08b5d0"/>
<stop offset="0.46" stop-color="#01b8ca"/>
<stop offset="0.48" stop-color="#02bac3"/>
<stop offset="0.49" stop-color="#0bbdbd"/>
<stop offset="0.51" stop-color="#19bfb6"/>
<stop offset="0.52" stop-color="#24c1ae"/>
<stop offset="0.54" stop-color="#2cc4a7"/>
<stop offset="0.56" stop-color="#31c69f"/>
<stop offset="0.57" stop-color="#37c897"/>
<stop offset="0.59" stop-color="#3fca8e"/>
<stop offset="0.6" stop-color="#4acb84"/>
<stop offset="0.62" stop-color="#57cc7a"/>
<stop offset="0.63" stop-color="#64cd6f"/>
<stop offset="0.65" stop-color="#72cd64"/>
<stop offset="0.67" stop-color="#81cc59"/>
<stop offset="0.68" stop-color="#8fcb4e"/>
<stop offset="0.7" stop-color="#9dc943"/>
<stop offset="0.71" stop-color="#abc739"/>
<stop offset="0.73" stop-color="#b9c431"/>
<stop offset="0.75" stop-color="#c5c22a"/>
<stop offset="0.76" stop-color="#d1bf27"/>
<stop offset="0.78" stop-color="#dcbd29"/>
<stop offset="0.79" stop-color="#e6bb2d"/>
<stop offset="0.81" stop-color="#f0ba36"/>
<stop offset="0.83" stop-color="#f8ba3d"/>
<stop offset="0.84" stop-color="#febe3c"/>
<stop offset="0.86" stop-color="#fec338"/>
<stop offset="0.87" stop-color="#fec934"/>
<stop offset="0.89" stop-color="#fccf30"/>
<stop offset="0.9" stop-color="#fad62d"/>
<stop offset="0.92" stop-color="#f7dc2a"/>
<stop offset="0.94" stop-color="#f5e327"/>
<stop offset="0.95" stop-color="#f5e924"/>
<stop offset="0.97" stop-color="#f6ef20"/>
<stop offset="0.98" stop-color="#f7f51b"/>
<stop offset="1" stop-color="#f9fb15"/>
</linearGradient></defs>
<rect x="664.4" y="61.4" width="32.1" height="530.5" fill="url(#pg61)" stroke="#333" stroke-width="1"/>
<g stroke="#000" stroke-width="1.3">
<line x1="690.7" y1="538.85" x2="696.5" y2="538.85"/>
<line x1="690.7" y1="485.8" x2="696.5" y2="485.8"/>
<line x1="690.7" y1="432.75" x2="696.5" y2="432.75"/>
<line x1="690.7" y1="379.7" x2="696.5" y2="379.7"/>
<line x1="690.7" y1="326.65" x2="696.5" y2="326.65"/>
<line x1="690.7" y1="273.6" x2="696.5" y2="273.6"/>
<line x1="690.7" y1="220.55" x2="696.5" y2="220.55"/>
<line x1="690.7" y1="167.5" x2="696.5" y2="167.5"/>
<line x1="690.7" y1="114.45" x2="696.5" y2="114.45"/>
</g>
<g font-family='"Liberation Sans", sans-serif'>
<text transform="translate(704.76 599.6) scale(0.98 1)" font-size="22" fill="#000">0</text>
<text transform="translate(704.74 546.55) scale(0.98 1)" font-size="22" fill="#000">500</text>
<text transform="translate(703.96 493.5) scale(0.98 1)" font-size="22" fill="#000">1000</text>
<text transform="translate(703.96 440.45) scale(0.98 1)" font-size="22" fill="#000">1500</text>
<text transform="translate(704.52 387.4) scale(0.98 1)" font-size="22" fill="#000">2000</text>
<text transform="translate(704.52 334.35) scale(0.98 1)" font-size="22" fill="#000">2500</text>
<text transform="translate(704.78 281.3) scale(0.98 1)" font-size="22" fill="#000">3000</text>
<text transform="translate(704.78 228.25) scale(0.98 1)" font-size="22" fill="#000">3500</text>
<text transform="translate(705.11 175.2) scale(0.98 1)" font-size="22" fill="#000">4000</text>
<text transform="translate(705.11 122.15) scale(0.98 1)" font-size="22" fill="#000">4500</text>
<text transform="translate(704.74 69.1) scale(0.98 1)" font-size="22" fill="#000">5000</text>
<text transform="translate(611.75 24.5) scale(1.01 1)" font-size="30.8" fill="#404040">N [Particles]</text>
</g>
<g stroke="#262626" stroke-opacity="0.21" stroke-width="3.0" fill="none" filter="url(#gb)">
<line x1="139.03" y1="1364.5" x2="139.03" y2="820.9" stroke-dasharray="2.7 3.5" stroke-dashoffset="0.15"/>
<line x1="162.91" y1="1364.5" x2="162.91" y2="820.9" stroke-dasharray="2.7 3.5" stroke-dashoffset="0.15"/>
<line x1="179.85" y1="1364.5" x2="179.85" y2="820.9" stroke-dasharray="2.7 3.5" stroke-dashoffset="0.15"/>
<line x1="193" y1="1364.5" x2="193" y2="820.9" stroke-dasharray="2.7 3.5" stroke-dashoffset="0.15"/>
<line x1="203.74" y1="1364.5" x2="203.74" y2="820.9" stroke-dasharray="2.7 3.5" stroke-dashoffset="0.15"/>
<line x1="212.82" y1="1364.5" x2="212.82" y2="820.9" stroke-dasharray="2.7 3.5" stroke-dashoffset="0.15"/>
<line x1="220.68" y1="1364.5" x2="220.68" y2="820.9" stroke-dasharray="2.7 3.5" stroke-dashoffset="0.15"/>
<line x1="227.62" y1="1364.5" x2="227.62" y2="820.9" stroke-dasharray="2.7 3.5" stroke-dashoffset="0.15"/>
<line x1="274.65" y1="1364.5" x2="274.65" y2="820.9" stroke-dasharray="2.7 3.5" stroke-dashoffset="0.15"/>
<line x1="298.53" y1="1364.5" x2="298.53" y2="820.9" stroke-dasharray="2.7 3.5" stroke-dashoffset="0.15"/>
<line x1="315.48" y1="1364.5" x2="315.48" y2="820.9" stroke-dasharray="2.7 3.5" stroke-dashoffset="0.15"/>
<line x1="328.62" y1="1364.5" x2="328.62" y2="820.9" stroke-dasharray="2.7 3.5" stroke-dashoffset="0.15"/>
<line x1="339.36" y1="1364.5" x2="339.36" y2="820.9" stroke-dasharray="2.7 3.5" stroke-dashoffset="0.15"/>
<line x1="348.44" y1="1364.5" x2="348.44" y2="820.9" stroke-dasharray="2.7 3.5" stroke-dashoffset="0.15"/>
<line x1="356.31" y1="1364.5" x2="356.31" y2="820.9" stroke-dasharray="2.7 3.5" stroke-dashoffset="0.15"/>
<line x1="363.24" y1="1364.5" x2="363.24" y2="820.9" stroke-dasharray="2.7 3.5" stroke-dashoffset="0.15"/>
<line x1="410.28" y1="1364.5" x2="410.28" y2="820.9" stroke-dasharray="2.7 3.5" stroke-dashoffset="0.15"/>
<line x1="434.16" y1="1364.5" x2="434.16" y2="820.9" stroke-dasharray="2.7 3.5" stroke-dashoffset="0.15"/>
<line x1="451.1" y1="1364.5" x2="451.1" y2="820.9" stroke-dasharray="2.7 3.5" stroke-dashoffset="0.15"/>
<line x1="464.25" y1="1364.5" x2="464.25" y2="820.9" stroke-dasharray="2.7 3.5" stroke-dashoffset="0.15"/>
<line x1="474.99" y1="1364.5" x2="474.99" y2="820.9" stroke-dasharray="2.7 3.5" stroke-dashoffset="0.15"/>
<line x1="484.07" y1="1364.5" x2="484.07" y2="820.9" stroke-dasharray="2.7 3.5" stroke-dashoffset="0.15"/>
<line x1="491.93" y1="1364.5" x2="491.93" y2="820.9" stroke-dasharray="2.7 3.5" stroke-dashoffset="0.15"/>
<line x1="498.87" y1="1364.5" x2="498.87" y2="820.9" stroke-dasharray="2.7 3.5" stroke-dashoffset="0.15"/>
<line x1="545.9" y1="1364.5" x2="545.9" y2="820.9" stroke-dasharray="2.7 3.5" stroke-dashoffset="0.15"/>
<line x1="569.78" y1="1364.5" x2="569.78" y2="820.9" stroke-dasharray="2.7 3.5" stroke-dashoffset="0.15"/>
<line x1="586.73" y1="1364.5" x2="586.73" y2="820.9" stroke-dasharray="2.7 3.5" stroke-dashoffset="0.15"/>
<line x1="599.87" y1="1364.5" x2="599.87" y2="820.9" stroke-dasharray="2.7 3.5" stroke-dashoffset="0.15"/>
<line x1="610.61" y1="1364.5" x2="610.61" y2="820.9" stroke-dasharray="2.7 3.5" stroke-dashoffset="0.15"/>
<line x1="619.69" y1="1364.5" x2="619.69" y2="820.9" stroke-dasharray="2.7 3.5" stroke-dashoffset="0.15"/>
<line x1="627.56" y1="1364.5" x2="627.56" y2="820.9" stroke-dasharray="2.7 3.5" stroke-dashoffset="0.15"/>
<line x1="634.49" y1="1364.5" x2="634.49" y2="820.9" stroke-dasharray="2.7 3.5" stroke-dashoffset="0.15"/>
<line x1="98.2" y1="1346.32" x2="640.7" y2="1346.32" stroke-dasharray="2.7 3.5" stroke-dashoffset="-0.68"/>
<line x1="98.2" y1="1335.68" x2="640.7" y2="1335.68" stroke-dasharray="2.7 3.5" stroke-dashoffset="-0.68"/>
<line x1="98.2" y1="1328.14" x2="640.7" y2="1328.14" stroke-dasharray="2.7 3.5" stroke-dashoffset="-0.68"/>
<line x1="98.2" y1="1322.28" x2="640.7" y2="1322.28" stroke-dasharray="2.7 3.5" stroke-dashoffset="-0.68"/>
<line x1="98.2" y1="1317.5" x2="640.7" y2="1317.5" stroke-dasharray="2.7 3.5" stroke-dashoffset="-0.68"/>
<line x1="98.2" y1="1313.46" x2="640.7" y2="1313.46" stroke-dasharray="2.7 3.5" stroke-dashoffset="-0.68"/>
<line x1="98.2" y1="1309.95" x2="640.7" y2="1309.95" stroke-dasharray="2.7 3.5" stroke-dashoffset="-0.68"/>
<line x1="98.2" y1="1306.86" x2="640.7" y2="1306.86" stroke-dasharray="2.7 3.5" stroke-dashoffset="-0.68"/>
<line x1="98.2" y1="1285.92" x2="640.7" y2="1285.92" stroke-dasharray="2.7 3.5" stroke-dashoffset="-0.68"/>
<line x1="98.2" y1="1275.28" x2="640.7" y2="1275.28" stroke-dasharray="2.7 3.5" stroke-dashoffset="-0.68"/>
<line x1="98.2" y1="1267.74" x2="640.7" y2="1267.74" stroke-dasharray="2.7 3.5" stroke-dashoffset="-0.68"/>
<line x1="98.2" y1="1261.88" x2="640.7" y2="1261.88" stroke-dasharray="2.7 3.5" stroke-dashoffset="-0.68"/>
<line x1="98.2" y1="1257.1" x2="640.7" y2="1257.1" stroke-dasharray="2.7 3.5" stroke-dashoffset="-0.68"/>
<line x1="98.2" y1="1253.06" x2="640.7" y2="1253.06" stroke-dasharray="2.7 3.5" stroke-dashoffset="-0.68"/>
<line x1="98.2" y1="1249.55" x2="640.7" y2="1249.55" stroke-dasharray="2.7 3.5" stroke-dashoffset="-0.68"/>
<line x1="98.2" y1="1246.46" x2="640.7" y2="1246.46" stroke-dasharray="2.7 3.5" stroke-dashoffset="-0.68"/>
<line x1="98.2" y1="1243.7" x2="640.7" y2="1243.7" stroke-dasharray="2.7 3.5" stroke-dashoffset="-0.68"/>
<line x1="98.2" y1="1225.52" x2="640.7" y2="1225.52" stroke-dasharray="2.7 3.5" stroke-dashoffset="-0.68"/>
<line x1="98.2" y1="1214.88" x2="640.7" y2="1214.88" stroke-dasharray="2.7 3.5" stroke-dashoffset="-0.68"/>
<line x1="98.2" y1="1207.34" x2="640.7" y2="1207.34" stroke-dasharray="2.7 3.5" stroke-dashoffset="-0.68"/>
<line x1="98.2" y1="1201.48" x2="640.7" y2="1201.48" stroke-dasharray="2.7 3.5" stroke-dashoffset="-0.68"/>
<line x1="98.2" y1="1196.7" x2="640.7" y2="1196.7" stroke-dasharray="2.7 3.5" stroke-dashoffset="-0.68"/>
<line x1="98.2" y1="1192.66" x2="640.7" y2="1192.66" stroke-dasharray="2.7 3.5" stroke-dashoffset="-0.68"/>
<line x1="98.2" y1="1189.15" x2="640.7" y2="1189.15" stroke-dasharray="2.7 3.5" stroke-dashoffset="-0.68"/>
<line x1="98.2" y1="1186.06" x2="640.7" y2="1186.06" stroke-dasharray="2.7 3.5" stroke-dashoffset="-0.68"/>
<line x1="98.2" y1="1165.12" x2="640.7" y2="1165.12" stroke-dasharray="2.7 3.5" stroke-dashoffset="-0.68"/>
<line x1="98.2" y1="1154.48" x2="640.7" y2="1154.48" stroke-dasharray="2.7 3.5" stroke-dashoffset="-0.68"/>
<line x1="98.2" y1="1146.94" x2="640.7" y2="1146.94" stroke-dasharray="2.7 3.5" stroke-dashoffset="-0.68"/>
<line x1="98.2" y1="1141.08" x2="640.7" y2="1141.08" stroke-dasharray="2.7 3.5" stroke-dashoffset="-0.68"/>
<line x1="98.2" y1="1136.3" x2="640.7" y2="1136.3" stroke-dasharray="2.7 3.5" stroke-dashoffset="-0.68"/>
<line x1="98.2" y1="1132.26" x2="640.7" y2="1132.26" stroke-dasharray="2.7 3.5" stroke-dashoffset="-0.68"/>
<line x1="98.2" y1="1128.75" x2="640.7" y2="1128.75" stroke-dasharray="2.7 3.5" stroke-dashoffset="-0.68"/>
<line x1="98.2" y1="1125.66" x2="640.7" y2="1125.66" stroke-dasharray="2.7 3.5" stroke-dashoffset="-0.68"/>
<line x1="98.2" y1="1122.9" x2="640.7" y2="1122.9" stroke-dasharray="2.7 3.5" stroke-dashoffset="-0.68"/>
<line x1="98.2" y1="1104.72" x2="640.7" y2="1104.72" stroke-dasharray="2.7 3.5" stroke-dashoffset="-0.68"/>
<line x1="98.2" y1="1094.08" x2="640.7" y2="1094.08" stroke-dasharray="2.7 3.5" stroke-dashoffset="-0.68"/>
<line x1="98.2" y1="1086.54" x2="640.7" y2="1086.54" stroke-dasharray="2.7 3.5" stroke-dashoffset="-0.68"/>
<line x1="98.2" y1="1080.68" x2="640.7" y2="1080.68" stroke-dasharray="2.7 3.5" stroke-dashoffset="-0.68"/>
<line x1="98.2" y1="1075.9" x2="640.7" y2="1075.9" stroke-dasharray="2.7 3.5" stroke-dashoffset="-0.68"/>
<line x1="98.2" y1="1071.86" x2="640.7" y2="1071.86" stroke-dasharray="2.7 3.5" stroke-dashoffset="-0.68"/>
<line x1="98.2" y1="1068.35" x2="640.7" y2="1068.35" stroke-dasharray="2.7 3.5" stroke-dashoffset="-0.68"/>
<line x1="98.2" y1="1065.26" x2="640.7" y2="1065.26" stroke-dasharray="2.7 3.5" stroke-dashoffset="-0.68"/>
<line x1="98.2" y1="1044.32" x2="640.7" y2="1044.32" stroke-dasharray="2.7 3.5" stroke-dashoffset="-0.68"/>
<line x1="98.2" y1="1033.68" x2="640.7" y2="1033.68" stroke-dasharray="2.7 3.5" stroke-dashoffset="-0.68"/>
<line x1="98.2" y1="1026.14" x2="640.7" y2="1026.14" stroke-dasharray="2.7 3.5" stroke-dashoffset="-0.68"/>
<line x1="98.2" y1="1020.28" x2="640.7" y2="1020.28" stroke-dasharray="2.7 3.5" stroke-dashoffset="-0.68"/>
<line x1="98.2" y1="1015.5" x2="640.7" y2="1015.5" stroke-dasharray="2.7 3.5" stroke-dashoffset="-0.68"/>
<line x1="98.2" y1="1011.46" x2="640.7" y2="1011.46" stroke-dasharray="2.7 3.5" stroke-dashoffset="-0.68"/>
<line x1="98.2" y1="1007.95" x2="640.7" y2="1007.95" stroke-dasharray="2.7 3.5" stroke-dashoffset="-0.68"/>
<line x1="98.2" y1="1004.86" x2="640.7" y2="1004.86" stroke-dasharray="2.7 3.5" stroke-dashoffset="-0.68"/>
<line x1="98.2" y1="1002.1" x2="640.7" y2="1002.1" stroke-dasharray="2.7 3.5" stroke-dashoffset="-0.68"/>
<line x1="98.2" y1="983.92" x2="640.7" y2="983.92" stroke-dasharray="2.7 3.5" stroke-dashoffset="-0.68"/>
<line x1="98.2" y1="973.28" x2="640.7" y2="973.28" stroke-dasharray="2.7 3.5" stroke-dashoffset="-0.68"/>
<line x1="98.2" y1="965.74" x2="640.7" y2="965.74" stroke-dasharray="2.7 3.5" stroke-dashoffset="-0.68"/>
<line x1="98.2" y1="959.88" x2="640.7" y2="959.88" stroke-dasharray="2.7 3.5" stroke-dashoffset="-0.68"/>
<line x1="98.2" y1="955.1" x2="640.7" y2="955.1" stroke-dasharray="2.7 3.5" stroke-dashoffset="-0.68"/>
<line x1="98.2" y1="951.06" x2="640.7" y2="951.06" stroke-dasharray="2.7 3.5" stroke-dashoffset="-0.68"/>
<line x1="98.2" y1="947.55" x2="640.7" y2="947.55" stroke-dasharray="2.7 3.5" stroke-dashoffset="-0.68"/>
<line x1="98.2" y1="944.46" x2="640.7" y2="944.46" stroke-dasharray="2.7 3.5" stroke-dashoffset="-0.68"/>
<line x1="98.2" y1="923.52" x2="640.7" y2="923.52" stroke-dasharray="2.7 3.5" stroke-dashoffset="-0.68"/>
<line x1="98.2" y1="912.88" x2="640.7" y2="912.88" stroke-dasharray="2.7 3.5" stroke-dashoffset="-0.68"/>
<line x1="98.2" y1="905.34" x2="640.7" y2="905.34" stroke-dasharray="2.7 3.5" stroke-dashoffset="-0.68"/>
<line x1="98.2" y1="899.48" x2="640.7" y2="899.48" stroke-dasharray="2.7 3.5" stroke-dashoffset="-0.68"/>
<line x1="98.2" y1="894.7" x2="640.7" y2="894.7" stroke-dasharray="2.7 3.5" stroke-dashoffset="-0.68"/>
<line x1="98.2" y1="890.66" x2="640.7" y2="890.66" stroke-dasharray="2.7 3.5" stroke-dashoffset="-0.68"/>
<line x1="98.2" y1="887.15" x2="640.7" y2="887.15" stroke-dasharray="2.7 3.5" stroke-dashoffset="-0.68"/>
<line x1="98.2" y1="884.06" x2="640.7" y2="884.06" stroke-dasharray="2.7 3.5" stroke-dashoffset="-0.68"/>
<line x1="98.2" y1="881.3" x2="640.7" y2="881.3" stroke-dasharray="2.7 3.5" stroke-dashoffset="-0.68"/>
<line x1="98.2" y1="863.12" x2="640.7" y2="863.12" stroke-dasharray="2.7 3.5" stroke-dashoffset="-0.68"/>
<line x1="98.2" y1="852.48" x2="640.7" y2="852.48" stroke-dasharray="2.7 3.5" stroke-dashoffset="-0.68"/>
<line x1="98.2" y1="844.94" x2="640.7" y2="844.94" stroke-dasharray="2.7 3.5" stroke-dashoffset="-0.68"/>
<line x1="98.2" y1="839.08" x2="640.7" y2="839.08" stroke-dasharray="2.7 3.5" stroke-dashoffset="-0.68"/>
<line x1="98.2" y1="834.3" x2="640.7" y2="834.3" stroke-dasharray="2.7 3.5" stroke-dashoffset="-0.68"/>
<line x1="98.2" y1="830.26" x2="640.7" y2="830.26" stroke-dasharray="2.7 3.5" stroke-dashoffset="-0.68"/>
<line x1="98.2" y1="826.75" x2="640.7" y2="826.75" stroke-dasharray="2.7 3.5" stroke-dashoffset="-0.68"/>
<line x1="98.2" y1="823.66" x2="640.7" y2="823.66" stroke-dasharray="2.7 3.5" stroke-dashoffset="-0.68"/>
</g>
<g stroke="#262626" stroke-opacity="0.165" stroke-width="2.2" fill="none">
<line x1="233.82" y1="820.9" x2="233.82" y2="1364.5"/>
<line x1="369.45" y1="820.9" x2="369.45" y2="1364.5"/>
<line x1="505.07" y1="820.9" x2="505.07" y2="1364.5"/>
<line x1="98.2" y1="1304.1" x2="640.7" y2="1304.1"/>
<line x1="98.2" y1="1183.3" x2="640.7" y2="1183.3"/>
<line x1="98.2" y1="1062.5" x2="640.7" y2="1062.5"/>
<line x1="98.2" y1="941.7" x2="640.7" y2="941.7"/>
</g>
<circle cx="333.74" cy="1180.7" r="7.16" fill="#4244da"/>
<circle cx="343.5" cy="1101.2" r="7.16" fill="#e5e613"/>
<circle cx="353.25" cy="1101.8" r="7.16" fill="#e5e613"/>
<circle cx="363.01" cy="1112.7" r="7.16" fill="#e4e317"/>
<circle cx="372.76" cy="1130" r="7.16" fill="#e2ce24"/>
<circle cx="382.51" cy="1137.4" r="7.16" fill="#e9b135"/>
<circle cx="392.27" cy="1150.5" r="7.16" fill="#42ba7b"/>
<circle cx="402.02" cy="1154.6" r="7.16" fill="#50bb6f"/>
<circle cx="411.78" cy="1156.3" r="7.16" fill="#92b83c"/>
<circle cx="421.53" cy="1181.8" r="7.16" fill="#2489d9"/>
<circle cx="431.28" cy="1202.4" r="7.16" fill="#4057e6"/>
<circle cx="441.04" cy="1217.2" r="7.16" fill="#4247dd"/>
<circle cx="450.79" cy="1237.4" r="7.16" fill="#4037cc"/>
<circle cx="460.55" cy="1258.7" r="7.16" fill="#3e2ebb"/>
<circle cx="470.3" cy="1274.5" r="7.16" fill="#3925a1"/>
<circle cx="480.05" cy="1297" r="7.16" fill="#39229a"/>
<circle cx="489.81" cy="1314.8" r="7.16" fill="#39229a"/>
<circle cx="499.56" cy="1351" r="7.16" fill="#39229a"/>
<rect x="142.89" y="983.08" width="11.05" height="11.05" fill="#352090"/>
<rect x="152.64" y="980.48" width="11.05" height="11.05" fill="#352090"/>
<rect x="162.4" y="963.58" width="11.05" height="11.05" fill="#352090"/>
<rect x="172.15" y="962.08" width="11.05" height="11.05" fill="#352090"/>
<rect x="181.91" y="974.28" width="11.05" height="11.05" fill="#352090"/>
<rect x="191.66" y="981.48" width="11.05" height="11.05" fill="#352090"/>
<rect x="201.41" y="971.78" width="11.05" height="11.05" fill="#352090"/>
<rect x="211.17" y="976.38" width="11.05" height="11.05" fill="#352090"/>
<rect x="220.92" y="974.78" width="11.05" height="11.05" fill="#352090"/>
<rect x="230.68" y="974.98" width="11.05" height="11.05" fill="#352090"/>
<rect x="240.43" y="982.28" width="11.05" height="11.05" fill="#352090"/>
<rect x="250.19" y="969.08" width="11.05" height="11.05" fill="#3a2baf"/>
<rect x="259.94" y="939.68" width="11.05" height="11.05" fill="#3d36c3"/>
<rect x="269.69" y="924.48" width="11.05" height="11.05" fill="#3d43cf"/>
<rect x="279.45" y="926.78" width="11.05" height="11.05" fill="#3d43cf"/>
<rect x="289.2" y="936.08" width="11.05" height="11.05" fill="#3d3fcc"/>
<rect x="298.96" y="958.28" width="11.05" height="11.05" fill="#3b31ba"/>
<rect x="308.71" y="972.08" width="11.05" height="11.05" fill="#3a2baf"/>
<rect x="318.46" y="983.28" width="11.05" height="11.05" fill="#362397"/>
<rect x="328.22" y="984.28" width="11.05" height="11.05" fill="#362397"/>
<rect x="337.97" y="1017.48" width="11.05" height="11.05" fill="#352090"/>
<rect x="347.73" y="1023.18" width="11.05" height="11.05" fill="#352090"/>
<rect x="357.48" y="1050.18" width="11.05" height="11.05" fill="#352090"/>
<rect x="367.24" y="1142.88" width="11.05" height="11.05" fill="#352090"/>
<rect x="386.74" y="1151.58" width="11.05" height="11.05" fill="#352090"/>
<path d="M206.94 1024.85L214.82 1038.15L199.06 1038.15Z" fill="#352090"/>
<path d="M216.69 1010.35L224.57 1023.65L208.82 1023.65Z" fill="#352090"/>
<path d="M226.45 978.95L234.32 992.25L218.57 992.25Z" fill="#352090"/>
<path d="M236.2 949.55L244.08 962.85L228.32 962.85Z" fill="#3b2eb5"/>
<path d="M245.96 936.55L253.83 949.85L238.08 949.85Z" fill="#3d39c6"/>
<path d="M255.71 921.75L263.59 935.05L247.83 935.05Z" fill="#3d45d1"/>
<path d="M265.46 913.95L273.34 927.25L257.59 927.25Z" fill="#3065da"/>
<path d="M275.22 908.45L283.09 921.75L267.34 921.75Z" fill="#1b8dc3"/>
<path d="M284.97 910.95L292.85 924.25L277.09 924.25Z" fill="#1296ba"/>
<path d="M294.73 920.55L302.6 933.85L286.85 933.85Z" fill="#1f86c6"/>
<path d="M304.48 941.15L312.36 954.45L296.6 954.45Z" fill="#3958d9"/>
<path d="M314.23 970.45L322.11 983.75L306.36 983.75Z" fill="#3b2eb5"/>
<path d="M323.99 1000.95L331.87 1014.25L316.11 1014.25Z" fill="#352090"/>
<path d="M333.74 1015.45L341.62 1028.75L325.87 1028.75Z" fill="#352090"/>
<path d="M343.5 1024.55L351.37 1037.85L335.62 1037.85Z" fill="#352090"/>
<path d="M353.25 1055.15L361.13 1068.45L345.37 1068.45Z" fill="#352090"/>
<path d="M363.01 1116.75L370.88 1130.05L355.13 1130.05Z" fill="#352090"/>
<circle cx="333.74" cy="1180.7" r="6.46" fill="#484aee"/>
<circle cx="343.5" cy="1101.2" r="6.46" fill="#f9fb15"/>
<circle cx="353.25" cy="1101.8" r="6.46" fill="#f9fb15"/>
<circle cx="363.01" cy="1112.7" r="6.46" fill="#f8f719"/>
<circle cx="372.76" cy="1130" r="6.46" fill="#f6e028"/>
<circle cx="382.51" cy="1137.4" r="6.46" fill="#fec13a"/>
<circle cx="392.27" cy="1150.5" r="6.46" fill="#48cb86"/>
<circle cx="402.02" cy="1154.6" r="6.46" fill="#58cc79"/>
<circle cx="411.78" cy="1156.3" r="6.46" fill="#9fc942"/>
<circle cx="421.53" cy="1181.8" r="6.46" fill="#2895ec"/>
<circle cx="431.28" cy="1202.4" r="6.46" fill="#465ffb"/>
<circle cx="441.04" cy="1217.2" r="6.46" fill="#484ef1"/>
<circle cx="450.79" cy="1237.4" r="6.46" fill="#463cde"/>
<circle cx="460.55" cy="1258.7" r="6.46" fill="#4433cc"/>
<circle cx="470.3" cy="1274.5" r="6.46" fill="#3f29b0"/>
<circle cx="480.05" cy="1297" r="6.46" fill="#3e26a8"/>
<circle cx="489.81" cy="1314.8" r="6.46" fill="#3e26a8"/>
<circle cx="499.56" cy="1351" r="6.46" fill="#3e26a8"/>
<rect x="143.59" y="983.78" width="9.65" height="9.65" fill="#3e26a8"/>
<rect x="153.34" y="981.18" width="9.65" height="9.65" fill="#3e26a8"/>
<rect x="163.1" y="964.28" width="9.65" height="9.65" fill="#3e26a8"/>
<rect x="172.85" y="962.78" width="9.65" height="9.65" fill="#3e26a8"/>
<rect x="182.61" y="974.98" width="9.65" height="9.65" fill="#3e26a8"/>
<rect x="192.36" y="982.18" width="9.65" height="9.65" fill="#3e26a8"/>
<rect x="202.11" y="972.48" width="9.65" height="9.65" fill="#3e26a8"/>
<rect x="211.87" y="977.08" width="9.65" height="9.65" fill="#3e26a8"/>
<rect x="221.62" y="975.48" width="9.65" height="9.65" fill="#3e26a8"/>
<rect x="231.38" y="975.68" width="9.65" height="9.65" fill="#3e26a8"/>
<rect x="241.13" y="982.98" width="9.65" height="9.65" fill="#3e26a8"/>
<rect x="250.89" y="969.78" width="9.65" height="9.65" fill="#4433cc"/>
<rect x="260.64" y="940.38" width="9.65" height="9.65" fill="#473fe3"/>
<rect x="270.39" y="925.18" width="9.65" height="9.65" fill="#484ef1"/>
<rect x="280.15" y="927.48" width="9.65" height="9.65" fill="#484ef1"/>
<rect x="289.9" y="936.78" width="9.65" height="9.65" fill="#484aee"/>
<rect x="299.66" y="958.98" width="9.65" height="9.65" fill="#4539d9"/>
<rect x="309.41" y="972.78" width="9.65" height="9.65" fill="#4433cc"/>
<rect x="319.16" y="983.98" width="9.65" height="9.65" fill="#3f29b0"/>
<rect x="328.92" y="984.98" width="9.65" height="9.65" fill="#3f29b0"/>
<rect x="338.67" y="1018.18" width="9.65" height="9.65" fill="#3e26a8"/>
<rect x="348.43" y="1023.88" width="9.65" height="9.65" fill="#3e26a8"/>
<rect x="358.18" y="1050.88" width="9.65" height="9.65" fill="#3e26a8"/>
<rect x="367.94" y="1143.58" width="9.65" height="9.65" fill="#3e26a8"/>
<rect x="387.44" y="1152.28" width="9.65" height="9.65" fill="#3e26a8"/>
<path d="M206.94 1025.59L213.77 1037.62L200.11 1037.62Z" fill="#3e26a8"/>
<path d="M216.69 1011.09L223.52 1023.12L209.87 1023.12Z" fill="#3e26a8"/>
<path d="M226.45 979.69L233.27 991.72L219.62 991.72Z" fill="#3e26a8"/>
<path d="M236.2 950.29L243.03 962.32L229.37 962.32Z" fill="#4536d3"/>
<path d="M245.96 937.29L252.78 949.32L239.13 949.32Z" fill="#4743e7"/>
<path d="M255.71 922.49L262.54 934.52L248.88 934.52Z" fill="#4851f4"/>
<path d="M265.46 914.69L272.29 926.72L258.64 926.72Z" fill="#3876fe"/>
<path d="M275.22 909.19L282.04 921.22L268.39 921.22Z" fill="#20a4e3"/>
<path d="M284.97 911.69L291.8 923.72L278.14 923.72Z" fill="#15afd9"/>
<path d="M294.73 921.29L301.55 933.32L287.9 933.32Z" fill="#259ce7"/>
<path d="M304.48 941.89L311.31 953.92L297.65 953.92Z" fill="#4367fd"/>
<path d="M314.23 971.19L321.06 983.22L307.41 983.22Z" fill="#4536d3"/>
<path d="M323.99 1001.69L330.82 1013.72L317.16 1013.72Z" fill="#3e26a8"/>
<path d="M333.74 1016.19L340.57 1028.22L326.92 1028.22Z" fill="#3e26a8"/>
<path d="M343.5 1025.29L350.32 1037.32L336.67 1037.32Z" fill="#3e26a8"/>
<path d="M353.25 1055.89L360.08 1067.92L346.42 1067.92Z" fill="#3e26a8"/>
<path d="M363.01 1117.49L369.83 1129.52L356.18 1129.52Z" fill="#3e26a8"/>
<g stroke="#000" stroke-width="1.5" fill="none">
<line x1="98.2" y1="1364.5" x2="98.2" y2="1357.34"/>
<line x1="98.2" y1="820.9" x2="98.2" y2="828.06"/>
<line x1="139.03" y1="1364.5" x2="139.03" y2="1359.9"/>
<line x1="139.03" y1="820.9" x2="139.03" y2="825.5"/>
<line x1="162.91" y1="1364.5" x2="162.91" y2="1359.9"/>
<line x1="162.91" y1="820.9" x2="162.91" y2="825.5"/>
<line x1="179.85" y1="1364.5" x2="179.85" y2="1359.9"/>
<line x1="179.85" y1="820.9" x2="179.85" y2="825.5"/>
<line x1="193" y1="1364.5" x2="193" y2="1359.9"/>
<line x1="193" y1="820.9" x2="193" y2="825.5"/>
<line x1="203.74" y1="1364.5" x2="203.74" y2="1359.9"/>
<line x1="203.74" y1="820.9" x2="203.74" y2="825.5"/>
<line x1="212.82" y1="1364.5" x2="212.82" y2="1359.9"/>
<line x1="212.82" y1="820.9" x2="212.82" y2="825.5"/>
<line x1="220.68" y1="1364.5" x2="220.68" y2="1359.9"/>
<line x1="220.68" y1="820.9" x2="220.68" y2="825.5"/>
<line x1="227.62" y1="1364.5" x2="227.62" y2="1359.9"/>
<line x1="227.62" y1="820.9" x2="227.62" y2="825.5"/>
<line x1="233.82" y1="1364.5" x2="233.82" y2="1357.34"/>
<line x1="233.82" y1="820.9" x2="233.82" y2="828.06"/>
<line x1="274.65" y1="1364.5" x2="274.65" y2="1359.9"/>
<line x1="274.65" y1="820.9" x2="274.65" y2="825.5"/>
<line x1="298.53" y1="1364.5" x2="298.53" y2="1359.9"/>
<line x1="298.53" y1="820.9" x2="298.53" y2="825.5"/>
<line x1="315.48" y1="1364.5" x2="315.48" y2="1359.9"/>
<line x1="315.48" y1="820.9" x2="315.48" y2="825.5"/>
<line x1="328.62" y1="1364.5" x2="328.62" y2="1359.9"/>
<line x1="328.62" y1="820.9" x2="328.62" y2="825.5"/>
<line x1="339.36" y1="1364.5" x2="339.36" y2="1359.9"/>
<line x1="339.36" y1="820.9" x2="339.36" y2="825.5"/>
<line x1="348.44" y1="1364.5" x2="348.44" y2="1359.9"/>
<line x1="348.44" y1="820.9" x2="348.44" y2="825.5"/>
<line x1="356.31" y1="1364.5" x2="356.31" y2="1359.9"/>
<line x1="356.31" y1="820.9" x2="356.31" y2="825.5"/>
<line x1="363.24" y1="1364.5" x2="363.24" y2="1359.9"/>
<line x1="363.24" y1="820.9" x2="363.24" y2="825.5"/>
<line x1="369.45" y1="1364.5" x2="369.45" y2="1357.34"/>
<line x1="369.45" y1="820.9" x2="369.45" y2="828.06"/>
<line x1="410.28" y1="1364.5" x2="410.28" y2="1359.9"/>
<line x1="410.28" y1="820.9" x2="410.28" y2="825.5"/>
<line x1="434.16" y1="1364.5" x2="434.16" y2="1359.9"/>
<line x1="434.16" y1="820.9" x2="434.16" y2="825.5"/>
<line x1="451.1" y1="1364.5" x2="451.1" y2="1359.9"/>
<line x1="451.1" y1="820.9" x2="451.1" y2="825.5"/>
<line x1="464.25" y1="1364.5" x2="464.25" y2="1359.9"/>
<line x1="464.25" y1="820.9" x2="464.25" y2="825.5"/>
<line x1="474.99" y1="1364.5" x2="474.99" y2="1359.9"/>
<line x1="474.99" y1="820.9" x2="474.99" y2="825.5"/>
<line x1="484.07" y1="1364.5" x2="484.07" y2="1359.9"/>
<line x1="484.07" y1="820.9" x2="484.07" y2="825.5"/>
<line x1="491.93" y1="1364.5" x2="491.93" y2="1359.9"/>
<line x1="491.93" y1="820.9" x2="491.93" y2="825.5"/>
<line x1="498.87" y1="1364.5" x2="498.87" y2="1359.9"/>
<line x1="498.87" y1="820.9" x2="498.87" y2="825.5"/>
<line x1="505.07" y1="1364.5" x2="505.07" y2="1357.34"/>
<line x1="505.07" y1="820.9" x2="505.07" y2="828.06"/>
<line x1="545.9" y1="1364.5" x2="545.9" y2="1359.9"/>
<line x1="545.9" y1="820.9" x2="545.9" y2="825.5"/>
<line x1="569.78" y1="1364.5" x2="569.78" y2="1359.9"/>
<line x1="569.78" y1="820.9" x2="569.78" y2="825.5"/>
<line x1="586.73" y1="1364.5" x2="586.73" y2="1359.9"/>
<line x1="586.73" y1="820.9" x2="586.73" y2="825.5"/>
<line x1="599.87" y1="1364.5" x2="599.87" y2="1359.9"/>
<line x1="599.87" y1="820.9" x2="599.87" y2="825.5"/>
<line x1="610.61" y1="1364.5" x2="610.61" y2="1359.9"/>
<line x1="610.61" y1="820.9" x2="610.61" y2="825.5"/>
<line x1="619.69" y1="1364.5" x2="619.69" y2="1359.9"/>
<line x1="619.69" y1="820.9" x2="619.69" y2="825.5"/>
<line x1="627.56" y1="1364.5" x2="627.56" y2="1359.9"/>
<line x1="627.56" y1="820.9" x2="627.56" y2="825.5"/>
<line x1="634.49" y1="1364.5" x2="634.49" y2="1359.9"/>
<line x1="634.49" y1="820.9" x2="634.49" y2="825.5"/>
<line x1="640.7" y1="1364.5" x2="640.7" y2="1357.34"/>
<line x1="640.7" y1="820.9" x2="640.7" y2="828.06"/>
<line x1="98.2" y1="1364.5" x2="102.8" y2="1364.5"/>
<line x1="640.7" y1="1364.5" x2="636.1" y2="1364.5"/>
<line x1="98.2" y1="1346.32" x2="102.8" y2="1346.32"/>
<line x1="640.7" y1="1346.32" x2="636.1" y2="1346.32"/>
<line x1="98.2" y1="1335.68" x2="102.8" y2="1335.68"/>
<line x1="640.7" y1="1335.68" x2="636.1" y2="1335.68"/>
<line x1="98.2" y1="1328.14" x2="102.8" y2="1328.14"/>
<line x1="640.7" y1="1328.14" x2="636.1" y2="1328.14"/>
<line x1="98.2" y1="1322.28" x2="102.8" y2="1322.28"/>
<line x1="640.7" y1="1322.28" x2="636.1" y2="1322.28"/>
<line x1="98.2" y1="1317.5" x2="102.8" y2="1317.5"/>
<line x1="640.7" y1="1317.5" x2="636.1" y2="1317.5"/>
<line x1="98.2" y1="1313.46" x2="102.8" y2="1313.46"/>
<line x1="640.7" y1="1313.46" x2="636.1" y2="1313.46"/>
<line x1="98.2" y1="1309.95" x2="102.8" y2="1309.95"/>
<line x1="640.7" y1="1309.95" x2="636.1" y2="1309.95"/>
<line x1="98.2" y1="1306.86" x2="102.8" y2="1306.86"/>
<line x1="640.7" y1="1306.86" x2="636.1" y2="1306.86"/>
<line x1="98.2" y1="1304.1" x2="105.36" y2="1304.1"/>
<line x1="640.7" y1="1304.1" x2="633.54" y2="1304.1"/>
<line x1="98.2" y1="1285.92" x2="102.8" y2="1285.92"/>
<line x1="640.7" y1="1285.92" x2="636.1" y2="1285.92"/>
<line x1="98.2" y1="1275.28" x2="102.8" y2="1275.28"/>
<line x1="640.7" y1="1275.28" x2="636.1" y2="1275.28"/>
<line x1="98.2" y1="1267.74" x2="102.8" y2="1267.74"/>
<line x1="640.7" y1="1267.74" x2="636.1" y2="1267.74"/>
<line x1="98.2" y1="1261.88" x2="102.8" y2="1261.88"/>
<line x1="640.7" y1="1261.88" x2="636.1" y2="1261.88"/>
<line x1="98.2" y1="1257.1" x2="102.8" y2="1257.1"/>
<line x1="640.7" y1="1257.1" x2="636.1" y2="1257.1"/>
<line x1="98.2" y1="1253.06" x2="102.8" y2="1253.06"/>
<line x1="640.7" y1="1253.06" x2="636.1" y2="1253.06"/>
<line x1="98.2" y1="1249.55" x2="102.8" y2="1249.55"/>
<line x1="640.7" y1="1249.55" x2="636.1" y2="1249.55"/>
<line x1="98.2" y1="1246.46" x2="102.8" y2="1246.46"/>
<line x1="640.7" y1="1246.46" x2="636.1" y2="1246.46"/>
<line x1="98.2" y1="1243.7" x2="102.8" y2="1243.7"/>
<line x1="640.7" y1="1243.7" x2="636.1" y2="1243.7"/>
<line x1="98.2" y1="1225.52" x2="102.8" y2="1225.52"/>
<line x1="640.7" y1="1225.52" x2="636.1" y2="1225.52"/>
<line x1="98.2" y1="1214.88" x2="102.8" y2="1214.88"/>
<line x1="640.7" y1="1214.88" x2="636.1" y2="1214.88"/>
<line x1="98.2" y1="1207.34" x2="102.8" y2="1207.34"/>
<line x1="640.7" y1="1207.34" x2="636.1" y2="1207.34"/>
<line x1="98.2" y1="1201.48" x2="102.8" y2="1201.48"/>
<line x1="640.7" y1="1201.48" x2="636.1" y2="1201.48"/>
<line x1="98.2" y1="1196.7" x2="102.8" y2="1196.7"/>
<line x1="640.7" y1="1196.7" x2="636.1" y2="1196.7"/>
<line x1="98.2" y1="1192.66" x2="102.8" y2="1192.66"/>
<line x1="640.7" y1="1192.66" x2="636.1" y2="1192.66"/>
<line x1="98.2" y1="1189.15" x2="102.8" y2="1189.15"/>
<line x1="640.7" y1="1189.15" x2="636.1" y2="1189.15"/>
<line x1="98.2" y1="1186.06" x2="102.8" y2="1186.06"/>
<line x1="640.7" y1="1186.06" x2="636.1" y2="1186.06"/>
<line x1="98.2" y1="1183.3" x2="105.36" y2="1183.3"/>
<line x1="640.7" y1="1183.3" x2="633.54" y2="1183.3"/>
<line x1="98.2" y1="1165.12" x2="102.8" y2="1165.12"/>
<line x1="640.7" y1="1165.12" x2="636.1" y2="1165.12"/>
<line x1="98.2" y1="1154.48" x2="102.8" y2="1154.48"/>
<line x1="640.7" y1="1154.48" x2="636.1" y2="1154.48"/>
<line x1="98.2" y1="1146.94" x2="102.8" y2="1146.94"/>
<line x1="640.7" y1="1146.94" x2="636.1" y2="1146.94"/>
<line x1="98.2" y1="1141.08" x2="102.8" y2="1141.08"/>
<line x1="640.7" y1="1141.08" x2="636.1" y2="1141.08"/>
<line x1="98.2" y1="1136.3" x2="102.8" y2="1136.3"/>
<line x1="640.7" y1="1136.3" x2="636.1" y2="1136.3"/>
<line x1="98.2" y1="1132.26" x2="102.8" y2="1132.26"/>
<line x1="640.7" y1="1132.26" x2="636.1" y2="1132.26"/>
<line x1="98.2" y1="1128.75" x2="102.8" y2="1128.75"/>
<line x1="640.7" y1="1128.75" x2="636.1" y2="1128.75"/>
<line x1="98.2" y1="1125.66" x2="102.8" y2="1125.66"/>
<line x1="640.7" y1="1125.66" x2="636.1" y2="1125.66"/>
<line x1="98.2" y1="1122.9" x2="102.8" y2="1122.9"/>
<line x1="640.7" y1="1122.9" x2="636.1" y2="1122.9"/>
<line x1="98.2" y1="1104.72" x2="102.8" y2="1104.72"/>
<line x1="640.7" y1="1104.72" x2="636.1" y2="1104.72"/>
<line x1="98.2" y1="1094.08" x2="102.8" y2="1094.08"/>
<line x1="640.7" y1="1094.08" x2="636.1" y2="1094.08"/>
<line x1="98.2" y1="1086.54" x2="102.8" y2="1086.54"/>
<line x1="640.7" y1="1086.54" x2="636.1" y2="1086.54"/>
<line x1="98.2" y1="1080.68" x2="102.8" y2="1080.68"/>
<line x1="640.7" y1="1080.68" x2="636.1" y2="1080.68"/>
<line x1="98.2" y1="1075.9" x2="102.8" y2="1075.9"/>
<line x1="640.7" y1="1075.9" x2="636.1" y2="1075.9"/>
<line x1="98.2" y1="1071.86" x2="102.8" y2="1071.86"/>
<line x1="640.7" y1="1071.86" x2="636.1" y2="1071.86"/>
<line x1="98.2" y1="1068.35" x2="102.8" y2="1068.35"/>
<line x1="640.7" y1="1068.35" x2="636.1" y2="1068.35"/>
<line x1="98.2" y1="1065.26" x2="102.8" y2="1065.26"/>
<line x1="640.7" y1="1065.26" x2="636.1" y2="1065.26"/>
<line x1="98.2" y1="1062.5" x2="105.36" y2="1062.5"/>
<line x1="640.7" y1="1062.5" x2="633.54" y2="1062.5"/>
<line x1="98.2" y1="1044.32" x2="102.8" y2="1044.32"/>
<line x1="640.7" y1="1044.32" x2="636.1" y2="1044.32"/>
<line x1="98.2" y1="1033.68" x2="102.8" y2="1033.68"/>
<line x1="640.7" y1="1033.68" x2="636.1" y2="1033.68"/>
<line x1="98.2" y1="1026.14" x2="102.8" y2="1026.14"/>
<line x1="640.7" y1="1026.14" x2="636.1" y2="1026.14"/>
<line x1="98.2" y1="1020.28" x2="102.8" y2="1020.28"/>
<line x1="640.7" y1="1020.28" x2="636.1" y2="1020.28"/>
<line x1="98.2" y1="1015.5" x2="102.8" y2="1015.5"/>
<line x1="640.7" y1="1015.5" x2="636.1" y2="1015.5"/>
<line x1="98.2" y1="1011.46" x2="102.8" y2="1011.46"/>
<line x1="640.7" y1="1011.46" x2="636.1" y2="1011.46"/>
<line x1="98.2" y1="1007.95" x2="102.8" y2="1007.95"/>
<line x1="640.7" y1="1007.95" x2="636.1" y2="1007.95"/>
<line x1="98.2" y1="1004.86" x2="102.8" y2="1004.86"/>
<line x1="640.7" y1="1004.86" x2="636.1" y2="1004.86"/>
<line x1="98.2" y1="1002.1" x2="102.8" y2="1002.1"/>
<line x1="640.7" y1="1002.1" x2="636.1" y2="1002.1"/>
<line x1="98.2" y1="983.92" x2="102.8" y2="983.92"/>
<line x1="640.7" y1="983.92" x2="636.1" y2="983.92"/>
<line x1="98.2" y1="973.28" x2="102.8" y2="973.28"/>
<line x1="640.7" y1="973.28" x2="636.1" y2="973.28"/>
<line x1="98.2" y1="965.74" x2="102.8" y2="965.74"/>
<line x1="640.7" y1="965.74" x2="636.1" y2="965.74"/>
<line x1="98.2" y1="959.88" x2="102.8" y2="959.88"/>
<line x1="640.7" y1="959.88" x2="636.1" y2="959.88"/>
<line x1="98.2" y1="955.1" x2="102.8" y2="955.1"/>
<line x1="640.7" y1="955.1" x2="636.1" y2="955.1"/>
<line x1="98.2" y1="951.06" x2="102.8" y2="951.06"/>
<line x1="640.7" y1="951.06" x2="636.1" y2="951.06"/>
<line x1="98.2" y1="947.55" x2="102.8" y2="947.55"/>
<line x1="640.7" y1="947.55" x2="636.1" y2="947.55"/>
<line x1="98.2" y1="944.46" x2="102.8" y2="944.46"/>
<line x1="640.7" y1="944.46" x2="636.1" y2="944.46"/>
<line x1="98.2" y1="941.7" x2="105.36" y2="941.7"/>
<line x1="640.7" y1="941.7" x2="633.54" y2="941.7"/>
<line x1="98.2" y1="923.52" x2="102.8" y2="923.52"/>
<line x1="640.7" y1="923.52" x2="636.1" y2="923.52"/>
<line x1="98.2" y1="912.88" x2="102.8" y2="912.88"/>
<line x1="640.7" y1="912.88" x2="636.1" y2="912.88"/>
<line x1="98.2" y1="905.34" x2="102.8" y2="905.34"/>
<line x1="640.7" y1="905.34" x2="636.1" y2="905.34"/>
<line x1="98.2" y1="899.48" x2="102.8" y2="899.48"/>
<line x1="640.7" y1="899.48" x2="636.1" y2="899.48"/>
<line x1="98.2" y1="894.7" x2="102.8" y2="894.7"/>
<line x1="640.7" y1="894.7" x2="636.1" y2="894.7"/>
<line x1="98.2" y1="890.66" x2="102.8" y2="890.66"/>
<line x1="640.7" y1="890.66" x2="636.1" y2="890.66"/>
<line x1="98.2" y1="887.15" x2="102.8" y2="887.15"/>
<line x1="640.7" y1="887.15" x2="636.1" y2="887.15"/>
<line x1="98.2" y1="884.06" x2="102.8" y2="884.06"/>
<line x1="640.7" y1="884.06" x2="636.1" y2="884.06"/>
<line x1="98.2" y1="881.3" x2="102.8" y2="881.3"/>
<line x1="640.7" y1="881.3" x2="636.1" y2="881.3"/>
<line x1="98.2" y1="863.12" x2="102.8" y2="863.12"/>
<line x1="640.7" y1="863.12" x2="636.1" y2="863.12"/>
<line x1="98.2" y1="852.48" x2="102.8" y2="852.48"/>
<line x1="640.7" y1="852.48" x2="636.1" y2="852.48"/>
<line x1="98.2" y1="844.94" x2="102.8" y2="844.94"/>
<line x1="640.7" y1="844.94" x2="636.1" y2="844.94"/>
<line x1="98.2" y1="839.08" x2="102.8" y2="839.08"/>
<line x1="640.7" y1="839.08" x2="636.1" y2="839.08"/>
<line x1="98.2" y1="834.3" x2="102.8" y2="834.3"/>
<line x1="640.7" y1="834.3" x2="636.1" y2="834.3"/>
<line x1="98.2" y1="830.26" x2="102.8" y2="830.26"/>
<line x1="640.7" y1="830.26" x2="636.1" y2="830.26"/>
<line x1="98.2" y1="826.75" x2="102.8" y2="826.75"/>
<line x1="640.7" y1="826.75" x2="636.1" y2="826.75"/>
<line x1="98.2" y1="823.66" x2="102.8" y2="823.66"/>
<line x1="640.7" y1="823.66" x2="636.1" y2="823.66"/>
<line x1="98.2" y1="820.9" x2="105.36" y2="820.9"/>
<line x1="640.7" y1="820.9" x2="633.54" y2="820.9"/>
</g>
<rect x="98.2" y="820.9" width="542.5" height="543.6" fill="none" stroke="#000" stroke-width="2.4"/>
<path d="M365.4 819.9L366.4 818L371.2 817.9L369.2 820.3Z" fill="#000"/>
<g font-family='"Liberation Sans", sans-serif' fill="#000">
<text x="80.3" y="1398.26" font-size="24.04">10<tspan font-size="17.39" dy="-8.39">1</tspan></text>
<text x="215.94" y="1398.26" font-size="24.04">10<tspan font-size="17.39" dy="-8.39">2</tspan></text>
<text x="351.51" y="1398.26" font-size="24.04">10<tspan font-size="17.39" dy="-8.39">3</tspan></text>
<text x="487.01" y="1398.26" font-size="24.04">10<tspan font-size="17.39" dy="-8.39">4</tspan></text>
<text x="622.74" y="1398.26" font-size="24.04">10<tspan font-size="17.39" dy="-8.39">5</tspan></text>
<text x="44.56" y="1312.28" font-size="24.04">10<tspan font-size="17.39" dy="-8.7">-6</tspan></text>
<text x="44.31" y="1191.48" font-size="24.04">10<tspan font-size="17.39" dy="-8.7">-4</tspan></text>
<text x="44.67" y="1070.68" font-size="24.04">10<tspan font-size="17.39" dy="-8.7">-2</tspan></text>
<text x="50.27" y="949.88" font-size="24.04">10<tspan font-size="17.39" dy="-8.7">0</tspan></text>
<text x="50.46" y="829.08" font-size="24.04">10<tspan font-size="17.39" dy="-8.7">2</tspan></text>
<text transform="translate(308.39 797) scale(0.96 1)" font-size="36.6" fill="#404040">Canny</text>
<text transform="translate(115.17 917) scale(1.04 1)" font-size="46" fill="#404040">c</text>
<text transform="translate(26.5 1164.17) rotate(-90)" font-size="26.6" fill="#000">n</text>
<text transform="translate(26.5 1136.57) rotate(-90)" font-size="26.6" fill="#000">[L</text>
<text transform="translate(16.07 1114.13) rotate(-90)" font-size="18.82" fill="#000">-1</text>
<text transform="translate(26.5 1081.64) rotate(-90)" font-size="26.6" fill="#000" font-style="italic">μ</text>
<text transform="translate(26.5 1067.6) rotate(-90)" font-size="26.6" fill="#000">m</text>
<text transform="translate(16.07 1045.8) rotate(-90)" font-size="18.82" fill="#000">-1</text>
<text transform="translate(26.5 1028.59) rotate(-90)" font-size="26.6" fill="#000">]</text>
<text transform="translate(335.84 1446.8)" font-size="30.8" fill="#404040">[µm]</text>
</g>
<defs><linearGradient id="pg820" x1="0" y1="1" x2="0" y2="0">
<stop offset="0" stop-color="#3e26a8"/>
<stop offset="0.02" stop-color="#402ab4"/>
<stop offset="0.03" stop-color="#422ec0"/>
<stop offset="0.05" stop-color="#4332cb"/>
<stop offset="0.06" stop-color="#4537d5"/>
<stop offset="0.08" stop-color="#463cde"/>
<stop offset="0.1" stop-color="#4741e5"/>
<stop offset="0.11" stop-color="#4747eb"/>
<stop offset="0.13" stop-color="#484df0"/>
<stop offset="0.14" stop-color="#4852f4"/>
<stop offset="0.16" stop-color="#4758f8"/>
<stop offset="0.17" stop-color="#465efb"/>
<stop offset="0.19" stop-color="#4563fd"/>
<stop offset="0.21" stop-color="#4269fe"/>
<stop offset="0.22" stop-color="#3e6fff"/>
<stop offset="0.24" stop-color="#3875fe"/>
<stop offset="0.25" stop-color="#327cfc"/>
<stop offset="0.27" stop-color="#2f81fa"/>
<stop offset="0.29" stop-color="#2e87f7"/>
<stop offset="0.3" stop-color="#2d8cf3"/>
<stop offset="0.32" stop-color="#2b91ef"/>
<stop offset="0.33" stop-color="#2797eb"/>
<stop offset="0.35" stop-color="#259be8"/>
<stop offset="0.37" stop-color="#23a0e5"/>
<stop offset="0.38" stop-color="#20a5e3"/>
<stop offset="0.4" stop-color="#1ca9df"/>
<stop offset="0.41" stop-color="#18addb"/>
<stop offset="0.43" stop-color="#12b1d6"/>
<stop offset="0.44" stop-color="#08b5d0"/>
<stop offset="0.46" stop-color="#01b8ca"/>
<stop offset="0.48" stop-color="#02bac3"/>
<stop offset="0.49" stop-color="#0bbdbd"/>
<stop offset="0.51" stop-color="#19bfb6"/>
<stop offset="0.52" stop-color="#24c1ae"/>
<stop offset="0.54" stop-color="#2cc4a7"/>
<stop offset="0.56" stop-color="#31c69f"/>
<stop offset="0.57" stop-color="#37c897"/>
<stop offset="0.59" stop-color="#3fca8e"/>
<stop offset="0.6" stop-color="#4acb84"/>
<stop offset="0.62" stop-color="#57cc7a"/>
<stop offset="0.63" stop-color="#64cd6f"/>
<stop offset="0.65" stop-color="#72cd64"/>
<stop offset="0.67" stop-color="#81cc59"/>
<stop offset="0.68" stop-color="#8fcb4e"/>
<stop offset="0.7" stop-color="#9dc943"/>
<stop offset="0.71" stop-color="#abc739"/>
<stop offset="0.73" stop-color="#b9c431"/>
<stop offset="0.75" stop-color="#c5c22a"/>
<stop offset="0.76" stop-color="#d1bf27"/>
<stop offset="0.78" stop-color="#dcbd29"/>
<stop offset="0.79" stop-color="#e6bb2d"/>
<stop offset="0.81" stop-color="#f0ba36"/>
<stop offset="0.83" stop-color="#f8ba3d"/>
<stop offset="0.84" stop-color="#febe3c"/>
<stop offset="0.86" stop-color="#fec338"/>
<stop offset="0.87" stop-color="#fec934"/>
<stop offset="0.89" stop-color="#fccf30"/>
<stop offset="0.9" stop-color="#fad62d"/>
<stop offset="0.92" stop-color="#f7dc2a"/>
<stop offset="0.94" stop-color="#f5e327"/>
<stop offset="0.95" stop-color="#f5e924"/>
<stop offset="0.97" stop-color="#f6ef20"/>
<stop offset="0.98" stop-color="#f7f51b"/>
<stop offset="1" stop-color="#f9fb15"/>
</linearGradient></defs>
<rect x="677.5" y="820.9" width="33" height="543.6" fill="url(#pg820)" stroke="#333" stroke-width="1"/>
<g stroke="#000" stroke-width="1.3">
<line x1="704.7" y1="1310.14" x2="710.5" y2="1310.14"/>
<line x1="704.7" y1="1255.78" x2="710.5" y2="1255.78"/>
<line x1="704.7" y1="1201.42" x2="710.5" y2="1201.42"/>
<line x1="704.7" y1="1147.06" x2="710.5" y2="1147.06"/>
<line x1="704.7" y1="1092.7" x2="710.5" y2="1092.7"/>
<line x1="704.7" y1="1038.34" x2="710.5" y2="1038.34"/>
<line x1="704.7" y1="983.98" x2="710.5" y2="983.98"/>
<line x1="704.7" y1="929.62" x2="710.5" y2="929.62"/>
<line x1="704.7" y1="875.26" x2="710.5" y2="875.26"/>
</g>
<g font-family='"Liberation Sans", sans-serif'>
<text transform="translate(718.44 1372.38) scale(0.98 1)" font-size="22.51" fill="#000">0</text>
<text transform="translate(718.42 1318.02) scale(0.98 1)" font-size="22.51" fill="#000">500</text>
<text transform="translate(717.62 1263.66) scale(0.98 1)" font-size="22.51" fill="#000">1000</text>
<text transform="translate(717.62 1209.3) scale(0.98 1)" font-size="22.51" fill="#000">1500</text>
<text transform="translate(718.19 1154.94) scale(0.98 1)" font-size="22.51" fill="#000">2000</text>
<text transform="translate(718.19 1100.58) scale(0.98 1)" font-size="22.51" fill="#000">2500</text>
<text transform="translate(718.46 1046.22) scale(0.98 1)" font-size="22.51" fill="#000">3000</text>
<text transform="translate(718.46 991.86) scale(0.98 1)" font-size="22.51" fill="#000">3500</text>
<text transform="translate(718.79 937.5) scale(0.98 1)" font-size="22.51" fill="#000">4000</text>
<text transform="translate(718.79 883.14) scale(0.98 1)" font-size="22.51" fill="#000">4500</text>
<text transform="translate(718.42 828.78) scale(0.98 1)" font-size="22.51" fill="#000">5000</text>
<text transform="translate(611.85 791.5) scale(1.01 1)" font-size="30.8" fill="#404040">N [Particles]</text>
</g>
<g stroke="#262626" stroke-opacity="0.21" stroke-width="3.0" fill="none" filter="url(#gb)">
<line x1="138.29" y1="2151.8" x2="138.29" y2="1621.2" stroke-dasharray="2.7 3.5" stroke-dashoffset="0.15"/>
<line x1="161.63" y1="2151.8" x2="161.63" y2="1621.2" stroke-dasharray="2.7 3.5" stroke-dashoffset="0.15"/>
<line x1="178.19" y1="2151.8" x2="178.19" y2="1621.2" stroke-dasharray="2.7 3.5" stroke-dashoffset="0.15"/>
<line x1="191.03" y1="2151.8" x2="191.03" y2="1621.2" stroke-dasharray="2.7 3.5" stroke-dashoffset="0.15"/>
<line x1="201.52" y1="2151.8" x2="201.52" y2="1621.2" stroke-dasharray="2.7 3.5" stroke-dashoffset="0.15"/>
<line x1="210.4" y1="2151.8" x2="210.4" y2="1621.2" stroke-dasharray="2.7 3.5" stroke-dashoffset="0.15"/>
<line x1="218.08" y1="2151.8" x2="218.08" y2="1621.2" stroke-dasharray="2.7 3.5" stroke-dashoffset="0.15"/>
<line x1="224.86" y1="2151.8" x2="224.86" y2="1621.2" stroke-dasharray="2.7 3.5" stroke-dashoffset="0.15"/>
<line x1="270.82" y1="2151.8" x2="270.82" y2="1621.2" stroke-dasharray="2.7 3.5" stroke-dashoffset="0.15"/>
<line x1="294.16" y1="2151.8" x2="294.16" y2="1621.2" stroke-dasharray="2.7 3.5" stroke-dashoffset="0.15"/>
<line x1="310.71" y1="2151.8" x2="310.71" y2="1621.2" stroke-dasharray="2.7 3.5" stroke-dashoffset="0.15"/>
<line x1="323.56" y1="2151.8" x2="323.56" y2="1621.2" stroke-dasharray="2.7 3.5" stroke-dashoffset="0.15"/>
<line x1="334.05" y1="2151.8" x2="334.05" y2="1621.2" stroke-dasharray="2.7 3.5" stroke-dashoffset="0.15"/>
<line x1="342.92" y1="2151.8" x2="342.92" y2="1621.2" stroke-dasharray="2.7 3.5" stroke-dashoffset="0.15"/>
<line x1="350.61" y1="2151.8" x2="350.61" y2="1621.2" stroke-dasharray="2.7 3.5" stroke-dashoffset="0.15"/>
<line x1="357.39" y1="2151.8" x2="357.39" y2="1621.2" stroke-dasharray="2.7 3.5" stroke-dashoffset="0.15"/>
<line x1="403.34" y1="2151.8" x2="403.34" y2="1621.2" stroke-dasharray="2.7 3.5" stroke-dashoffset="0.15"/>
<line x1="426.68" y1="2151.8" x2="426.68" y2="1621.2" stroke-dasharray="2.7 3.5" stroke-dashoffset="0.15"/>
<line x1="443.24" y1="2151.8" x2="443.24" y2="1621.2" stroke-dasharray="2.7 3.5" stroke-dashoffset="0.15"/>
<line x1="456.08" y1="2151.8" x2="456.08" y2="1621.2" stroke-dasharray="2.7 3.5" stroke-dashoffset="0.15"/>
<line x1="466.57" y1="2151.8" x2="466.57" y2="1621.2" stroke-dasharray="2.7 3.5" stroke-dashoffset="0.15"/>
<line x1="475.45" y1="2151.8" x2="475.45" y2="1621.2" stroke-dasharray="2.7 3.5" stroke-dashoffset="0.15"/>
<line x1="483.13" y1="2151.8" x2="483.13" y2="1621.2" stroke-dasharray="2.7 3.5" stroke-dashoffset="0.15"/>
<line x1="489.91" y1="2151.8" x2="489.91" y2="1621.2" stroke-dasharray="2.7 3.5" stroke-dashoffset="0.15"/>
<line x1="535.87" y1="2151.8" x2="535.87" y2="1621.2" stroke-dasharray="2.7 3.5" stroke-dashoffset="0.15"/>
<line x1="559.21" y1="2151.8" x2="559.21" y2="1621.2" stroke-dasharray="2.7 3.5" stroke-dashoffset="0.15"/>
<line x1="575.76" y1="2151.8" x2="575.76" y2="1621.2" stroke-dasharray="2.7 3.5" stroke-dashoffset="0.15"/>
<line x1="588.61" y1="2151.8" x2="588.61" y2="1621.2" stroke-dasharray="2.7 3.5" stroke-dashoffset="0.15"/>
<line x1="599.1" y1="2151.8" x2="599.1" y2="1621.2" stroke-dasharray="2.7 3.5" stroke-dashoffset="0.15"/>
<line x1="607.97" y1="2151.8" x2="607.97" y2="1621.2" stroke-dasharray="2.7 3.5" stroke-dashoffset="0.15"/>
<line x1="615.66" y1="2151.8" x2="615.66" y2="1621.2" stroke-dasharray="2.7 3.5" stroke-dashoffset="0.15"/>
<line x1="622.44" y1="2151.8" x2="622.44" y2="1621.2" stroke-dasharray="2.7 3.5" stroke-dashoffset="0.15"/>
<line x1="98.4" y1="2134.05" x2="628.5" y2="2134.05" stroke-dasharray="2.7 3.5" stroke-dashoffset="-0.68"/>
<line x1="98.4" y1="2123.67" x2="628.5" y2="2123.67" stroke-dasharray="2.7 3.5" stroke-dashoffset="-0.68"/>
<line x1="98.4" y1="2116.31" x2="628.5" y2="2116.31" stroke-dasharray="2.7 3.5" stroke-dashoffset="-0.68"/>
<line x1="98.4" y1="2110.59" x2="628.5" y2="2110.59" stroke-dasharray="2.7 3.5" stroke-dashoffset="-0.68"/>
<line x1="98.4" y1="2105.92" x2="628.5" y2="2105.92" stroke-dasharray="2.7 3.5" stroke-dashoffset="-0.68"/>
<line x1="98.4" y1="2101.98" x2="628.5" y2="2101.98" stroke-dasharray="2.7 3.5" stroke-dashoffset="-0.68"/>
<line x1="98.4" y1="2098.56" x2="628.5" y2="2098.56" stroke-dasharray="2.7 3.5" stroke-dashoffset="-0.68"/>
<line x1="98.4" y1="2095.54" x2="628.5" y2="2095.54" stroke-dasharray="2.7 3.5" stroke-dashoffset="-0.68"/>
<line x1="98.4" y1="2075.1" x2="628.5" y2="2075.1" stroke-dasharray="2.7 3.5" stroke-dashoffset="-0.68"/>
<line x1="98.4" y1="2064.72" x2="628.5" y2="2064.72" stroke-dasharray="2.7 3.5" stroke-dashoffset="-0.68"/>
<line x1="98.4" y1="2057.35" x2="628.5" y2="2057.35" stroke-dasharray="2.7 3.5" stroke-dashoffset="-0.68"/>
<line x1="98.4" y1="2051.64" x2="628.5" y2="2051.64" stroke-dasharray="2.7 3.5" stroke-dashoffset="-0.68"/>
<line x1="98.4" y1="2046.97" x2="628.5" y2="2046.97" stroke-dasharray="2.7 3.5" stroke-dashoffset="-0.68"/>
<line x1="98.4" y1="2043.02" x2="628.5" y2="2043.02" stroke-dasharray="2.7 3.5" stroke-dashoffset="-0.68"/>
<line x1="98.4" y1="2039.6" x2="628.5" y2="2039.6" stroke-dasharray="2.7 3.5" stroke-dashoffset="-0.68"/>
<line x1="98.4" y1="2036.59" x2="628.5" y2="2036.59" stroke-dasharray="2.7 3.5" stroke-dashoffset="-0.68"/>
<line x1="98.4" y1="2033.89" x2="628.5" y2="2033.89" stroke-dasharray="2.7 3.5" stroke-dashoffset="-0.68"/>
<line x1="98.4" y1="2016.14" x2="628.5" y2="2016.14" stroke-dasharray="2.7 3.5" stroke-dashoffset="-0.68"/>
<line x1="98.4" y1="2005.76" x2="628.5" y2="2005.76" stroke-dasharray="2.7 3.5" stroke-dashoffset="-0.68"/>
<line x1="98.4" y1="1998.39" x2="628.5" y2="1998.39" stroke-dasharray="2.7 3.5" stroke-dashoffset="-0.68"/>
<line x1="98.4" y1="1992.68" x2="628.5" y2="1992.68" stroke-dasharray="2.7 3.5" stroke-dashoffset="-0.68"/>
<line x1="98.4" y1="1988.01" x2="628.5" y2="1988.01" stroke-dasharray="2.7 3.5" stroke-dashoffset="-0.68"/>
<line x1="98.4" y1="1984.07" x2="628.5" y2="1984.07" stroke-dasharray="2.7 3.5" stroke-dashoffset="-0.68"/>
<line x1="98.4" y1="1980.65" x2="628.5" y2="1980.65" stroke-dasharray="2.7 3.5" stroke-dashoffset="-0.68"/>
<line x1="98.4" y1="1977.63" x2="628.5" y2="1977.63" stroke-dasharray="2.7 3.5" stroke-dashoffset="-0.68"/>
<line x1="98.4" y1="1957.19" x2="628.5" y2="1957.19" stroke-dasharray="2.7 3.5" stroke-dashoffset="-0.68"/>
<line x1="98.4" y1="1946.8" x2="628.5" y2="1946.8" stroke-dasharray="2.7 3.5" stroke-dashoffset="-0.68"/>
<line x1="98.4" y1="1939.44" x2="628.5" y2="1939.44" stroke-dasharray="2.7 3.5" stroke-dashoffset="-0.68"/>
<line x1="98.4" y1="1933.73" x2="628.5" y2="1933.73" stroke-dasharray="2.7 3.5" stroke-dashoffset="-0.68"/>
<line x1="98.4" y1="1929.06" x2="628.5" y2="1929.06" stroke-dasharray="2.7 3.5" stroke-dashoffset="-0.68"/>
<line x1="98.4" y1="1925.11" x2="628.5" y2="1925.11" stroke-dasharray="2.7 3.5" stroke-dashoffset="-0.68"/>
<line x1="98.4" y1="1921.69" x2="628.5" y2="1921.69" stroke-dasharray="2.7 3.5" stroke-dashoffset="-0.68"/>
<line x1="98.4" y1="1918.68" x2="628.5" y2="1918.68" stroke-dasharray="2.7 3.5" stroke-dashoffset="-0.68"/>
<line x1="98.4" y1="1915.98" x2="628.5" y2="1915.98" stroke-dasharray="2.7 3.5" stroke-dashoffset="-0.68"/>
<line x1="98.4" y1="1898.23" x2="628.5" y2="1898.23" stroke-dasharray="2.7 3.5" stroke-dashoffset="-0.68"/>
<line x1="98.4" y1="1887.85" x2="628.5" y2="1887.85" stroke-dasharray="2.7 3.5" stroke-dashoffset="-0.68"/>
<line x1="98.4" y1="1880.48" x2="628.5" y2="1880.48" stroke-dasharray="2.7 3.5" stroke-dashoffset="-0.68"/>
<line x1="98.4" y1="1874.77" x2="628.5" y2="1874.77" stroke-dasharray="2.7 3.5" stroke-dashoffset="-0.68"/>
<line x1="98.4" y1="1870.1" x2="628.5" y2="1870.1" stroke-dasharray="2.7 3.5" stroke-dashoffset="-0.68"/>
<line x1="98.4" y1="1866.15" x2="628.5" y2="1866.15" stroke-dasharray="2.7 3.5" stroke-dashoffset="-0.68"/>
<line x1="98.4" y1="1862.74" x2="628.5" y2="1862.74" stroke-dasharray="2.7 3.5" stroke-dashoffset="-0.68"/>
<line x1="98.4" y1="1859.72" x2="628.5" y2="1859.72" stroke-dasharray="2.7 3.5" stroke-dashoffset="-0.68"/>
<line x1="98.4" y1="1839.27" x2="628.5" y2="1839.27" stroke-dasharray="2.7 3.5" stroke-dashoffset="-0.68"/>
<line x1="98.4" y1="1828.89" x2="628.5" y2="1828.89" stroke-dasharray="2.7 3.5" stroke-dashoffset="-0.68"/>
<line x1="98.4" y1="1821.53" x2="628.5" y2="1821.53" stroke-dasharray="2.7 3.5" stroke-dashoffset="-0.68"/>
<line x1="98.4" y1="1815.81" x2="628.5" y2="1815.81" stroke-dasharray="2.7 3.5" stroke-dashoffset="-0.68"/>
<line x1="98.4" y1="1811.15" x2="628.5" y2="1811.15" stroke-dasharray="2.7 3.5" stroke-dashoffset="-0.68"/>
<line x1="98.4" y1="1807.2" x2="628.5" y2="1807.2" stroke-dasharray="2.7 3.5" stroke-dashoffset="-0.68"/>
<line x1="98.4" y1="1803.78" x2="628.5" y2="1803.78" stroke-dasharray="2.7 3.5" stroke-dashoffset="-0.68"/>
<line x1="98.4" y1="1800.76" x2="628.5" y2="1800.76" stroke-dasharray="2.7 3.5" stroke-dashoffset="-0.68"/>
<line x1="98.4" y1="1798.07" x2="628.5" y2="1798.07" stroke-dasharray="2.7 3.5" stroke-dashoffset="-0.68"/>
<line x1="98.4" y1="1780.32" x2="628.5" y2="1780.32" stroke-dasharray="2.7 3.5" stroke-dashoffset="-0.68"/>
<line x1="98.4" y1="1769.94" x2="628.5" y2="1769.94" stroke-dasharray="2.7 3.5" stroke-dashoffset="-0.68"/>
<line x1="98.4" y1="1762.57" x2="628.5" y2="1762.57" stroke-dasharray="2.7 3.5" stroke-dashoffset="-0.68"/>
<line x1="98.4" y1="1756.86" x2="628.5" y2="1756.86" stroke-dasharray="2.7 3.5" stroke-dashoffset="-0.68"/>
<line x1="98.4" y1="1752.19" x2="628.5" y2="1752.19" stroke-dasharray="2.7 3.5" stroke-dashoffset="-0.68"/>
<line x1="98.4" y1="1748.24" x2="628.5" y2="1748.24" stroke-dasharray="2.7 3.5" stroke-dashoffset="-0.68"/>
<line x1="98.4" y1="1744.82" x2="628.5" y2="1744.82" stroke-dasharray="2.7 3.5" stroke-dashoffset="-0.68"/>
<line x1="98.4" y1="1741.81" x2="628.5" y2="1741.81" stroke-dasharray="2.7 3.5" stroke-dashoffset="-0.68"/>
<line x1="98.4" y1="1721.36" x2="628.5" y2="1721.36" stroke-dasharray="2.7 3.5" stroke-dashoffset="-0.68"/>
<line x1="98.4" y1="1710.98" x2="628.5" y2="1710.98" stroke-dasharray="2.7 3.5" stroke-dashoffset="-0.68"/>
<line x1="98.4" y1="1703.62" x2="628.5" y2="1703.62" stroke-dasharray="2.7 3.5" stroke-dashoffset="-0.68"/>
<line x1="98.4" y1="1697.9" x2="628.5" y2="1697.9" stroke-dasharray="2.7 3.5" stroke-dashoffset="-0.68"/>
<line x1="98.4" y1="1693.23" x2="628.5" y2="1693.23" stroke-dasharray="2.7 3.5" stroke-dashoffset="-0.68"/>
<line x1="98.4" y1="1689.29" x2="628.5" y2="1689.29" stroke-dasharray="2.7 3.5" stroke-dashoffset="-0.68"/>
<line x1="98.4" y1="1685.87" x2="628.5" y2="1685.87" stroke-dasharray="2.7 3.5" stroke-dashoffset="-0.68"/>
<line x1="98.4" y1="1682.85" x2="628.5" y2="1682.85" stroke-dasharray="2.7 3.5" stroke-dashoffset="-0.68"/>
<line x1="98.4" y1="1680.16" x2="628.5" y2="1680.16" stroke-dasharray="2.7 3.5" stroke-dashoffset="-0.68"/>
<line x1="98.4" y1="1662.41" x2="628.5" y2="1662.41" stroke-dasharray="2.7 3.5" stroke-dashoffset="-0.68"/>
<line x1="98.4" y1="1652.03" x2="628.5" y2="1652.03" stroke-dasharray="2.7 3.5" stroke-dashoffset="-0.68"/>
<line x1="98.4" y1="1644.66" x2="628.5" y2="1644.66" stroke-dasharray="2.7 3.5" stroke-dashoffset="-0.68"/>
<line x1="98.4" y1="1638.95" x2="628.5" y2="1638.95" stroke-dasharray="2.7 3.5" stroke-dashoffset="-0.68"/>
<line x1="98.4" y1="1634.28" x2="628.5" y2="1634.28" stroke-dasharray="2.7 3.5" stroke-dashoffset="-0.68"/>
<line x1="98.4" y1="1630.33" x2="628.5" y2="1630.33" stroke-dasharray="2.7 3.5" stroke-dashoffset="-0.68"/>
<line x1="98.4" y1="1626.91" x2="628.5" y2="1626.91" stroke-dasharray="2.7 3.5" stroke-dashoffset="-0.68"/>
<line x1="98.4" y1="1623.9" x2="628.5" y2="1623.9" stroke-dasharray="2.7 3.5" stroke-dashoffset="-0.68"/>
</g>
<g stroke="#262626" stroke-opacity="0.165" stroke-width="2.2" fill="none">
<line x1="230.93" y1="1621.2" x2="230.93" y2="2151.8"/>
<line x1="363.45" y1="1621.2" x2="363.45" y2="2151.8"/>
<line x1="495.98" y1="1621.2" x2="495.98" y2="2151.8"/>
<line x1="98.4" y1="2092.84" x2="628.5" y2="2092.84"/>
<line x1="98.4" y1="1974.93" x2="628.5" y2="1974.93"/>
<line x1="98.4" y1="1857.02" x2="628.5" y2="1857.02"/>
<line x1="98.4" y1="1739.11" x2="628.5" y2="1739.11"/>
</g>
<circle cx="328.56" cy="1972.4" r="7" fill="#4244da"/>
<circle cx="338.09" cy="1894.8" r="7" fill="#e5e613"/>
<circle cx="347.62" cy="1895.38" r="7" fill="#e5e613"/>
<circle cx="357.15" cy="1906.02" r="7" fill="#e4e317"/>
<circle cx="366.68" cy="1922.91" r="7" fill="#e2ce24"/>
<circle cx="376.21" cy="1930.13" r="7" fill="#e9b135"/>
<circle cx="385.75" cy="1942.92" r="7" fill="#42ba7b"/>
<circle cx="395.28" cy="1946.92" r="7" fill="#50bb6f"/>
<circle cx="404.81" cy="1948.58" r="7" fill="#92b83c"/>
<circle cx="414.34" cy="1973.47" r="7" fill="#2489d9"/>
<circle cx="423.87" cy="1993.58" r="7" fill="#4057e6"/>
<circle cx="433.4" cy="2008.02" r="7" fill="#4247dd"/>
<circle cx="442.93" cy="2027.74" r="7" fill="#4037cc"/>
<circle cx="452.46" cy="2048.53" r="7" fill="#3e2ebb"/>
<circle cx="462" cy="2063.95" r="7" fill="#3925a1"/>
<circle cx="471.53" cy="2085.91" r="7" fill="#39229a"/>
<circle cx="481.06" cy="2103.29" r="7" fill="#39229a"/>
<circle cx="490.59" cy="2138.62" r="7" fill="#39229a"/>
<rect x="142.07" y="1779.49" width="10.8" height="10.8" fill="#352090"/>
<rect x="151.6" y="1776.95" width="10.8" height="10.8" fill="#352090"/>
<rect x="161.13" y="1760.46" width="10.8" height="10.8" fill="#352090"/>
<rect x="170.66" y="1758.99" width="10.8" height="10.8" fill="#352090"/>
<rect x="180.19" y="1770.9" width="10.8" height="10.8" fill="#352090"/>
<rect x="189.72" y="1777.93" width="10.8" height="10.8" fill="#352090"/>
<rect x="199.25" y="1768.46" width="10.8" height="10.8" fill="#352090"/>
<rect x="208.78" y="1772.95" width="10.8" height="10.8" fill="#352090"/>
<rect x="218.32" y="1771.39" width="10.8" height="10.8" fill="#352090"/>
<rect x="227.85" y="1771.58" width="10.8" height="10.8" fill="#352090"/>
<rect x="237.38" y="1778.71" width="10.8" height="10.8" fill="#352090"/>
<rect x="246.91" y="1765.82" width="10.8" height="10.8" fill="#3a2baf"/>
<rect x="256.44" y="1737.13" width="10.8" height="10.8" fill="#3d36c3"/>
<rect x="265.97" y="1722.29" width="10.8" height="10.8" fill="#3d43cf"/>
<rect x="275.5" y="1724.54" width="10.8" height="10.8" fill="#3d43cf"/>
<rect x="285.03" y="1733.61" width="10.8" height="10.8" fill="#3d3fcc"/>
<rect x="294.57" y="1755.28" width="10.8" height="10.8" fill="#3b31ba"/>
<rect x="304.1" y="1768.75" width="10.8" height="10.8" fill="#3a2baf"/>
<rect x="313.63" y="1779.68" width="10.8" height="10.8" fill="#362397"/>
<rect x="323.16" y="1780.66" width="10.8" height="10.8" fill="#362397"/>
<rect x="332.69" y="1813.07" width="10.8" height="10.8" fill="#352090"/>
<rect x="342.22" y="1818.63" width="10.8" height="10.8" fill="#352090"/>
<rect x="351.75" y="1844.98" width="10.8" height="10.8" fill="#352090"/>
<rect x="361.28" y="1935.47" width="10.8" height="10.8" fill="#352090"/>
<rect x="380.35" y="1943.96" width="10.8" height="10.8" fill="#352090"/>
<path d="M128.4 1650.11L136.1 1663.11L120.7 1663.11Z" fill="#286ed7"/>
<path d="M137.93 1662.71L145.63 1675.71L130.23 1675.71Z" fill="#375cda"/>
<path d="M147.47 1668.91L155.17 1681.91L139.77 1681.91Z" fill="#3b55d9"/>
<path d="M157 1684.31L164.7 1697.31L149.3 1697.31Z" fill="#3d45d1"/>
<path d="M166.53 1697.72L174.23 1710.72L158.83 1710.72Z" fill="#3d39c6"/>
<path d="M176.06 1709.02L183.76 1722.02L168.36 1722.02Z" fill="#3b31ba"/>
<path d="M185.59 1717.22L193.29 1730.22L177.89 1730.22Z" fill="#3b2eb5"/>
<path d="M195.12 1729.62L202.82 1742.62L187.42 1742.62Z" fill="#362397"/>
<path d="M204.65 1733.72L212.35 1746.72L196.95 1746.72Z" fill="#362397"/>
<path d="M214.18 1747.02L221.88 1760.02L206.48 1760.02Z" fill="#352090"/>
<path d="M223.72 1735.72L231.42 1748.72L216.02 1748.72Z" fill="#3b2eb5"/>
<path d="M233.25 1720.32L240.95 1733.32L225.55 1733.32Z" fill="#3d43cf"/>
<path d="M242.78 1709.02L250.48 1722.02L235.08 1722.02Z" fill="#3958d9"/>
<path d="M252.31 1694.62L260.01 1707.62L244.61 1707.62Z" fill="#0e98b8"/>
<path d="M261.84 1693.51L269.54 1706.51L254.14 1706.51Z" fill="#1ca597"/>
<path d="M271.37 1710.02L279.07 1723.02L263.67 1723.02Z" fill="#2083c9"/>
<path d="M280.9 1723.42L288.6 1736.42L273.2 1736.42Z" fill="#3065da"/>
<path d="M290.43 1748.13L298.13 1761.13L282.73 1761.13Z" fill="#3d3fcc"/>
<path d="M299.97 1772.83L307.67 1785.83L292.27 1785.83Z" fill="#362397"/>
<path d="M309.5 1799.73L317.2 1812.73L301.8 1812.73Z" fill="#352090"/>
<path d="M319.03 1811.64L326.73 1824.64L311.33 1824.64Z" fill="#352090"/>
<path d="M328.56 1811.74L336.26 1824.74L320.86 1824.74Z" fill="#352090"/>
<path d="M338.09 1842.24L345.79 1855.24L330.39 1855.24Z" fill="#352090"/>
<path d="M347.62 1933.26L355.32 1946.26L339.92 1946.26Z" fill="#352090"/>
<path d="M357.15 1937.36L364.85 1950.36L349.45 1950.36Z" fill="#352090"/>
<circle cx="328.56" cy="1972.4" r="6.3" fill="#484aee"/>
<circle cx="338.09" cy="1894.8" r="6.3" fill="#f9fb15"/>
<circle cx="347.62" cy="1895.38" r="6.3" fill="#f9fb15"/>
<circle cx="357.15" cy="1906.02" r="6.3" fill="#f8f719"/>
<circle cx="366.68" cy="1922.91" r="6.3" fill="#f6e028"/>
<circle cx="376.21" cy="1930.13" r="6.3" fill="#fec13a"/>
<circle cx="385.75" cy="1942.92" r="6.3" fill="#48cb86"/>
<circle cx="395.28" cy="1946.92" r="6.3" fill="#58cc79"/>
<circle cx="404.81" cy="1948.58" r="6.3" fill="#9fc942"/>
<circle cx="414.34" cy="1973.47" r="6.3" fill="#2895ec"/>
<circle cx="423.87" cy="1993.58" r="6.3" fill="#465ffb"/>
<circle cx="433.4" cy="2008.02" r="6.3" fill="#484ef1"/>
<circle cx="442.93" cy="2027.74" r="6.3" fill="#463cde"/>
<circle cx="452.46" cy="2048.53" r="6.3" fill="#4433cc"/>
<circle cx="462" cy="2063.95" r="6.3" fill="#3f29b0"/>
<circle cx="471.53" cy="2085.91" r="6.3" fill="#3e26a8"/>
<circle cx="481.06" cy="2103.29" r="6.3" fill="#3e26a8"/>
<circle cx="490.59" cy="2138.62" r="6.3" fill="#3e26a8"/>
<rect x="142.77" y="1780.19" width="9.4" height="9.4" fill="#3e26a8"/>
<rect x="152.3" y="1777.65" width="9.4" height="9.4" fill="#3e26a8"/>
<rect x="161.83" y="1761.16" width="9.4" height="9.4" fill="#3e26a8"/>
<rect x="171.36" y="1759.69" width="9.4" height="9.4" fill="#3e26a8"/>
<rect x="180.89" y="1771.6" width="9.4" height="9.4" fill="#3e26a8"/>
<rect x="190.42" y="1778.63" width="9.4" height="9.4" fill="#3e26a8"/>
<rect x="199.95" y="1769.16" width="9.4" height="9.4" fill="#3e26a8"/>
<rect x="209.48" y="1773.65" width="9.4" height="9.4" fill="#3e26a8"/>
<rect x="219.02" y="1772.09" width="9.4" height="9.4" fill="#3e26a8"/>
<rect x="228.55" y="1772.28" width="9.4" height="9.4" fill="#3e26a8"/>
<rect x="238.08" y="1779.41" width="9.4" height="9.4" fill="#3e26a8"/>
<rect x="247.61" y="1766.52" width="9.4" height="9.4" fill="#4433cc"/>
<rect x="257.14" y="1737.83" width="9.4" height="9.4" fill="#473fe3"/>
<rect x="266.67" y="1722.99" width="9.4" height="9.4" fill="#484ef1"/>
<rect x="276.2" y="1725.24" width="9.4" height="9.4" fill="#484ef1"/>
<rect x="285.73" y="1734.31" width="9.4" height="9.4" fill="#484aee"/>
<rect x="295.27" y="1755.98" width="9.4" height="9.4" fill="#4539d9"/>
<rect x="304.8" y="1769.45" width="9.4" height="9.4" fill="#4433cc"/>
<rect x="314.33" y="1780.38" width="9.4" height="9.4" fill="#3f29b0"/>
<rect x="323.86" y="1781.36" width="9.4" height="9.4" fill="#3f29b0"/>
<rect x="333.39" y="1813.77" width="9.4" height="9.4" fill="#3e26a8"/>
<rect x="342.92" y="1819.33" width="9.4" height="9.4" fill="#3e26a8"/>
<rect x="352.45" y="1845.68" width="9.4" height="9.4" fill="#3e26a8"/>
<rect x="361.98" y="1936.17" width="9.4" height="9.4" fill="#3e26a8"/>
<rect x="381.05" y="1944.66" width="9.4" height="9.4" fill="#3e26a8"/>
<path d="M128.4 1650.84L135.05 1662.58L121.75 1662.58Z" fill="#2f81fa"/>
<path d="M137.93 1663.44L144.58 1675.18L131.28 1675.18Z" fill="#416bfe"/>
<path d="M147.47 1669.65L154.12 1681.39L140.82 1681.39Z" fill="#4563fd"/>
<path d="M157 1685.05L163.65 1696.79L150.35 1696.79Z" fill="#4851f4"/>
<path d="M166.53 1698.45L173.18 1710.19L159.88 1710.19Z" fill="#4743e7"/>
<path d="M176.06 1709.75L182.71 1721.49L169.41 1721.49Z" fill="#4539d9"/>
<path d="M185.59 1717.95L192.24 1729.69L178.94 1729.69Z" fill="#4536d3"/>
<path d="M195.12 1730.36L201.77 1742.1L188.47 1742.1Z" fill="#3f29b0"/>
<path d="M204.65 1734.46L211.3 1746.2L198 1746.2Z" fill="#3f29b0"/>
<path d="M214.18 1747.76L220.83 1759.5L207.53 1759.5Z" fill="#3e26a8"/>
<path d="M223.72 1736.46L230.37 1748.2L217.07 1748.2Z" fill="#4536d3"/>
<path d="M233.25 1721.05L239.9 1732.79L226.6 1732.79Z" fill="#484ef1"/>
<path d="M242.78 1709.75L249.43 1721.49L236.13 1721.49Z" fill="#4367fd"/>
<path d="M252.31 1695.35L258.96 1707.09L245.66 1707.09Z" fill="#11b1d6"/>
<path d="M261.84 1694.25L268.49 1705.99L255.19 1705.99Z" fill="#21c1b0"/>
<path d="M271.37 1710.75L278.02 1722.49L264.72 1722.49Z" fill="#2699ea"/>
<path d="M280.9 1724.16L287.55 1735.9L274.25 1735.9Z" fill="#3876fe"/>
<path d="M290.43 1748.86L297.08 1760.6L283.78 1760.6Z" fill="#484aee"/>
<path d="M299.97 1773.56L306.62 1785.3L293.32 1785.3Z" fill="#3f29b0"/>
<path d="M309.5 1800.47L316.15 1812.21L302.85 1812.21Z" fill="#3e26a8"/>
<path d="M319.03 1812.37L325.68 1824.11L312.38 1824.11Z" fill="#3e26a8"/>
<path d="M328.56 1812.47L335.21 1824.21L321.91 1824.21Z" fill="#3e26a8"/>
<path d="M338.09 1842.98L344.74 1854.72L331.44 1854.72Z" fill="#3e26a8"/>
<path d="M347.62 1934L354.27 1945.74L340.97 1945.74Z" fill="#3e26a8"/>
<path d="M357.15 1938.1L363.8 1949.84L350.5 1949.84Z" fill="#3e26a8"/>
<g stroke="#000" stroke-width="1.5" fill="none">
<line x1="98.4" y1="2151.8" x2="98.4" y2="2144.8"/>
<line x1="98.4" y1="1621.2" x2="98.4" y2="1628.2"/>
<line x1="138.29" y1="2151.8" x2="138.29" y2="2147.3"/>
<line x1="138.29" y1="1621.2" x2="138.29" y2="1625.7"/>
<line x1="161.63" y1="2151.8" x2="161.63" y2="2147.3"/>
<line x1="161.63" y1="1621.2" x2="161.63" y2="1625.7"/>
<line x1="178.19" y1="2151.8" x2="178.19" y2="2147.3"/>
<line x1="178.19" y1="1621.2" x2="178.19" y2="1625.7"/>
<line x1="191.03" y1="2151.8" x2="191.03" y2="2147.3"/>
<line x1="191.03" y1="1621.2" x2="191.03" y2="1625.7"/>
<line x1="201.52" y1="2151.8" x2="201.52" y2="2147.3"/>
<line x1="201.52" y1="1621.2" x2="201.52" y2="1625.7"/>
<line x1="210.4" y1="2151.8" x2="210.4" y2="2147.3"/>
<line x1="210.4" y1="1621.2" x2="210.4" y2="1625.7"/>
<line x1="218.08" y1="2151.8" x2="218.08" y2="2147.3"/>
<line x1="218.08" y1="1621.2" x2="218.08" y2="1625.7"/>
<line x1="224.86" y1="2151.8" x2="224.86" y2="2147.3"/>
<line x1="224.86" y1="1621.2" x2="224.86" y2="1625.7"/>
<line x1="230.93" y1="2151.8" x2="230.93" y2="2144.8"/>
<line x1="230.93" y1="1621.2" x2="230.93" y2="1628.2"/>
<line x1="270.82" y1="2151.8" x2="270.82" y2="2147.3"/>
<line x1="270.82" y1="1621.2" x2="270.82" y2="1625.7"/>
<line x1="294.16" y1="2151.8" x2="294.16" y2="2147.3"/>
<line x1="294.16" y1="1621.2" x2="294.16" y2="1625.7"/>
<line x1="310.71" y1="2151.8" x2="310.71" y2="2147.3"/>
<line x1="310.71" y1="1621.2" x2="310.71" y2="1625.7"/>
<line x1="323.56" y1="2151.8" x2="323.56" y2="2147.3"/>
<line x1="323.56" y1="1621.2" x2="323.56" y2="1625.7"/>
<line x1="334.05" y1="2151.8" x2="334.05" y2="2147.3"/>
<line x1="334.05" y1="1621.2" x2="334.05" y2="1625.7"/>
<line x1="342.92" y1="2151.8" x2="342.92" y2="2147.3"/>
<line x1="342.92" y1="1621.2" x2="342.92" y2="1625.7"/>
<line x1="350.61" y1="2151.8" x2="350.61" y2="2147.3"/>
<line x1="350.61" y1="1621.2" x2="350.61" y2="1625.7"/>
<line x1="357.39" y1="2151.8" x2="357.39" y2="2147.3"/>
<line x1="357.39" y1="1621.2" x2="357.39" y2="1625.7"/>
<line x1="363.45" y1="2151.8" x2="363.45" y2="2144.8"/>
<line x1="363.45" y1="1621.2" x2="363.45" y2="1628.2"/>
<line x1="403.34" y1="2151.8" x2="403.34" y2="2147.3"/>
<line x1="403.34" y1="1621.2" x2="403.34" y2="1625.7"/>
<line x1="426.68" y1="2151.8" x2="426.68" y2="2147.3"/>
<line x1="426.68" y1="1621.2" x2="426.68" y2="1625.7"/>
<line x1="443.24" y1="2151.8" x2="443.24" y2="2147.3"/>
<line x1="443.24" y1="1621.2" x2="443.24" y2="1625.7"/>
<line x1="456.08" y1="2151.8" x2="456.08" y2="2147.3"/>
<line x1="456.08" y1="1621.2" x2="456.08" y2="1625.7"/>
<line x1="466.57" y1="2151.8" x2="466.57" y2="2147.3"/>
<line x1="466.57" y1="1621.2" x2="466.57" y2="1625.7"/>
<line x1="475.45" y1="2151.8" x2="475.45" y2="2147.3"/>
<line x1="475.45" y1="1621.2" x2="475.45" y2="1625.7"/>
<line x1="483.13" y1="2151.8" x2="483.13" y2="2147.3"/>
<line x1="483.13" y1="1621.2" x2="483.13" y2="1625.7"/>
<line x1="489.91" y1="2151.8" x2="489.91" y2="2147.3"/>
<line x1="489.91" y1="1621.2" x2="489.91" y2="1625.7"/>
<line x1="495.98" y1="2151.8" x2="495.98" y2="2144.8"/>
<line x1="495.98" y1="1621.2" x2="495.98" y2="1628.2"/>
<line x1="535.87" y1="2151.8" x2="535.87" y2="2147.3"/>
<line x1="535.87" y1="1621.2" x2="535.87" y2="1625.7"/>
<line x1="559.21" y1="2151.8" x2="559.21" y2="2147.3"/>
<line x1="559.21" y1="1621.2" x2="559.21" y2="1625.7"/>
<line x1="575.76" y1="2151.8" x2="575.76" y2="2147.3"/>
<line x1="575.76" y1="1621.2" x2="575.76" y2="1625.7"/>
<line x1="588.61" y1="2151.8" x2="588.61" y2="2147.3"/>
<line x1="588.61" y1="1621.2" x2="588.61" y2="1625.7"/>
<line x1="599.1" y1="2151.8" x2="599.1" y2="2147.3"/>
<line x1="599.1" y1="1621.2" x2="599.1" y2="1625.7"/>
<line x1="607.97" y1="2151.8" x2="607.97" y2="2147.3"/>
<line x1="607.97" y1="1621.2" x2="607.97" y2="1625.7"/>
<line x1="615.66" y1="2151.8" x2="615.66" y2="2147.3"/>
<line x1="615.66" y1="1621.2" x2="615.66" y2="1625.7"/>
<line x1="622.44" y1="2151.8" x2="622.44" y2="2147.3"/>
<line x1="622.44" y1="1621.2" x2="622.44" y2="1625.7"/>
<line x1="628.5" y1="2151.8" x2="628.5" y2="2144.8"/>
<line x1="628.5" y1="1621.2" x2="628.5" y2="1628.2"/>
<line x1="98.4" y1="2151.8" x2="102.9" y2="2151.8"/>
<line x1="628.5" y1="2151.8" x2="624" y2="2151.8"/>
<line x1="98.4" y1="2134.05" x2="102.9" y2="2134.05"/>
<line x1="628.5" y1="2134.05" x2="624" y2="2134.05"/>
<line x1="98.4" y1="2123.67" x2="102.9" y2="2123.67"/>
<line x1="628.5" y1="2123.67" x2="624" y2="2123.67"/>
<line x1="98.4" y1="2116.31" x2="102.9" y2="2116.31"/>
<line x1="628.5" y1="2116.31" x2="624" y2="2116.31"/>
<line x1="98.4" y1="2110.59" x2="102.9" y2="2110.59"/>
<line x1="628.5" y1="2110.59" x2="624" y2="2110.59"/>
<line x1="98.4" y1="2105.92" x2="102.9" y2="2105.92"/>
<line x1="628.5" y1="2105.92" x2="624" y2="2105.92"/>
<line x1="98.4" y1="2101.98" x2="102.9" y2="2101.98"/>
<line x1="628.5" y1="2101.98" x2="624" y2="2101.98"/>
<line x1="98.4" y1="2098.56" x2="102.9" y2="2098.56"/>
<line x1="628.5" y1="2098.56" x2="624" y2="2098.56"/>
<line x1="98.4" y1="2095.54" x2="102.9" y2="2095.54"/>
<line x1="628.5" y1="2095.54" x2="624" y2="2095.54"/>
<line x1="98.4" y1="2092.84" x2="105.4" y2="2092.84"/>
<line x1="628.5" y1="2092.84" x2="621.5" y2="2092.84"/>
<line x1="98.4" y1="2075.1" x2="102.9" y2="2075.1"/>
<line x1="628.5" y1="2075.1" x2="624" y2="2075.1"/>
<line x1="98.4" y1="2064.72" x2="102.9" y2="2064.72"/>
<line x1="628.5" y1="2064.72" x2="624" y2="2064.72"/>
<line x1="98.4" y1="2057.35" x2="102.9" y2="2057.35"/>
<line x1="628.5" y1="2057.35" x2="624" y2="2057.35"/>
<line x1="98.4" y1="2051.64" x2="102.9" y2="2051.64"/>
<line x1="628.5" y1="2051.64" x2="624" y2="2051.64"/>
<line x1="98.4" y1="2046.97" x2="102.9" y2="2046.97"/>
<line x1="628.5" y1="2046.97" x2="624" y2="2046.97"/>
<line x1="98.4" y1="2043.02" x2="102.9" y2="2043.02"/>
<line x1="628.5" y1="2043.02" x2="624" y2="2043.02"/>
<line x1="98.4" y1="2039.6" x2="102.9" y2="2039.6"/>
<line x1="628.5" y1="2039.6" x2="624" y2="2039.6"/>
<line x1="98.4" y1="2036.59" x2="102.9" y2="2036.59"/>
<line x1="628.5" y1="2036.59" x2="624" y2="2036.59"/>
<line x1="98.4" y1="2033.89" x2="102.9" y2="2033.89"/>
<line x1="628.5" y1="2033.89" x2="624" y2="2033.89"/>
<line x1="98.4" y1="2016.14" x2="102.9" y2="2016.14"/>
<line x1="628.5" y1="2016.14" x2="624" y2="2016.14"/>
<line x1="98.4" y1="2005.76" x2="102.9" y2="2005.76"/>
<line x1="628.5" y1="2005.76" x2="624" y2="2005.76"/>
<line x1="98.4" y1="1998.39" x2="102.9" y2="1998.39"/>
<line x1="628.5" y1="1998.39" x2="624" y2="1998.39"/>
<line x1="98.4" y1="1992.68" x2="102.9" y2="1992.68"/>
<line x1="628.5" y1="1992.68" x2="624" y2="1992.68"/>
<line x1="98.4" y1="1988.01" x2="102.9" y2="1988.01"/>
<line x1="628.5" y1="1988.01" x2="624" y2="1988.01"/>
<line x1="98.4" y1="1984.07" x2="102.9" y2="1984.07"/>
<line x1="628.5" y1="1984.07" x2="624" y2="1984.07"/>
<line x1="98.4" y1="1980.65" x2="102.9" y2="1980.65"/>
<line x1="628.5" y1="1980.65" x2="624" y2="1980.65"/>
<line x1="98.4" y1="1977.63" x2="102.9" y2="1977.63"/>
<line x1="628.5" y1="1977.63" x2="624" y2="1977.63"/>
<line x1="98.4" y1="1974.93" x2="105.4" y2="1974.93"/>
<line x1="628.5" y1="1974.93" x2="621.5" y2="1974.93"/>
<line x1="98.4" y1="1957.19" x2="102.9" y2="1957.19"/>
<line x1="628.5" y1="1957.19" x2="624" y2="1957.19"/>
<line x1="98.4" y1="1946.8" x2="102.9" y2="1946.8"/>
<line x1="628.5" y1="1946.8" x2="624" y2="1946.8"/>
<line x1="98.4" y1="1939.44" x2="102.9" y2="1939.44"/>
<line x1="628.5" y1="1939.44" x2="624" y2="1939.44"/>
<line x1="98.4" y1="1933.73" x2="102.9" y2="1933.73"/>
<line x1="628.5" y1="1933.73" x2="624" y2="1933.73"/>
<line x1="98.4" y1="1929.06" x2="102.9" y2="1929.06"/>
<line x1="628.5" y1="1929.06" x2="624" y2="1929.06"/>
<line x1="98.4" y1="1925.11" x2="102.9" y2="1925.11"/>
<line x1="628.5" y1="1925.11" x2="624" y2="1925.11"/>
<line x1="98.4" y1="1921.69" x2="102.9" y2="1921.69"/>
<line x1="628.5" y1="1921.69" x2="624" y2="1921.69"/>
<line x1="98.4" y1="1918.68" x2="102.9" y2="1918.68"/>
<line x1="628.5" y1="1918.68" x2="624" y2="1918.68"/>
<line x1="98.4" y1="1915.98" x2="102.9" y2="1915.98"/>
<line x1="628.5" y1="1915.98" x2="624" y2="1915.98"/>
<line x1="98.4" y1="1898.23" x2="102.9" y2="1898.23"/>
<line x1="628.5" y1="1898.23" x2="624" y2="1898.23"/>
<line x1="98.4" y1="1887.85" x2="102.9" y2="1887.85"/>
<line x1="628.5" y1="1887.85" x2="624" y2="1887.85"/>
<line x1="98.4" y1="1880.48" x2="102.9" y2="1880.48"/>
<line x1="628.5" y1="1880.48" x2="624" y2="1880.48"/>
<line x1="98.4" y1="1874.77" x2="102.9" y2="1874.77"/>
<line x1="628.5" y1="1874.77" x2="624" y2="1874.77"/>
<line x1="98.4" y1="1870.1" x2="102.9" y2="1870.1"/>
<line x1="628.5" y1="1870.1" x2="624" y2="1870.1"/>
<line x1="98.4" y1="1866.15" x2="102.9" y2="1866.15"/>
<line x1="628.5" y1="1866.15" x2="624" y2="1866.15"/>
<line x1="98.4" y1="1862.74" x2="102.9" y2="1862.74"/>
<line x1="628.5" y1="1862.74" x2="624" y2="1862.74"/>
<line x1="98.4" y1="1859.72" x2="102.9" y2="1859.72"/>
<line x1="628.5" y1="1859.72" x2="624" y2="1859.72"/>
<line x1="98.4" y1="1857.02" x2="105.4" y2="1857.02"/>
<line x1="628.5" y1="1857.02" x2="621.5" y2="1857.02"/>
<line x1="98.4" y1="1839.27" x2="102.9" y2="1839.27"/>
<line x1="628.5" y1="1839.27" x2="624" y2="1839.27"/>
<line x1="98.4" y1="1828.89" x2="102.9" y2="1828.89"/>
<line x1="628.5" y1="1828.89" x2="624" y2="1828.89"/>
<line x1="98.4" y1="1821.53" x2="102.9" y2="1821.53"/>
<line x1="628.5" y1="1821.53" x2="624" y2="1821.53"/>
<line x1="98.4" y1="1815.81" x2="102.9" y2="1815.81"/>
<line x1="628.5" y1="1815.81" x2="624" y2="1815.81"/>
<line x1="98.4" y1="1811.15" x2="102.9" y2="1811.15"/>
<line x1="628.5" y1="1811.15" x2="624" y2="1811.15"/>
<line x1="98.4" y1="1807.2" x2="102.9" y2="1807.2"/>
<line x1="628.5" y1="1807.2" x2="624" y2="1807.2"/>
<line x1="98.4" y1="1803.78" x2="102.9" y2="1803.78"/>
<line x1="628.5" y1="1803.78" x2="624" y2="1803.78"/>
<line x1="98.4" y1="1800.76" x2="102.9" y2="1800.76"/>
<line x1="628.5" y1="1800.76" x2="624" y2="1800.76"/>
<line x1="98.4" y1="1798.07" x2="102.9" y2="1798.07"/>
<line x1="628.5" y1="1798.07" x2="624" y2="1798.07"/>
<line x1="98.4" y1="1780.32" x2="102.9" y2="1780.32"/>
<line x1="628.5" y1="1780.32" x2="624" y2="1780.32"/>
<line x1="98.4" y1="1769.94" x2="102.9" y2="1769.94"/>
<line x1="628.5" y1="1769.94" x2="624" y2="1769.94"/>
<line x1="98.4" y1="1762.57" x2="102.9" y2="1762.57"/>
<line x1="628.5" y1="1762.57" x2="624" y2="1762.57"/>
<line x1="98.4" y1="1756.86" x2="102.9" y2="1756.86"/>
<line x1="628.5" y1="1756.86" x2="624" y2="1756.86"/>
<line x1="98.4" y1="1752.19" x2="102.9" y2="1752.19"/>
<line x1="628.5" y1="1752.19" x2="624" y2="1752.19"/>
<line x1="98.4" y1="1748.24" x2="102.9" y2="1748.24"/>
<line x1="628.5" y1="1748.24" x2="624" y2="1748.24"/>
<line x1="98.4" y1="1744.82" x2="102.9" y2="1744.82"/>
<line x1="628.5" y1="1744.82" x2="624" y2="1744.82"/>
<line x1="98.4" y1="1741.81" x2="102.9" y2="1741.81"/>
<line x1="628.5" y1="1741.81" x2="624" y2="1741.81"/>
<line x1="98.4" y1="1739.11" x2="105.4" y2="1739.11"/>
<line x1="628.5" y1="1739.11" x2="621.5" y2="1739.11"/>
<line x1="98.4" y1="1721.36" x2="102.9" y2="1721.36"/>
<line x1="628.5" y1="1721.36" x2="624" y2="1721.36"/>
<line x1="98.4" y1="1710.98" x2="102.9" y2="1710.98"/>
<line x1="628.5" y1="1710.98" x2="624" y2="1710.98"/>
<line x1="98.4" y1="1703.62" x2="102.9" y2="1703.62"/>
<line x1="628.5" y1="1703.62" x2="624" y2="1703.62"/>
<line x1="98.4" y1="1697.9" x2="102.9" y2="1697.9"/>
<line x1="628.5" y1="1697.9" x2="624" y2="1697.9"/>
<line x1="98.4" y1="1693.23" x2="102.9" y2="1693.23"/>
<line x1="628.5" y1="1693.23" x2="624" y2="1693.23"/>
<line x1="98.4" y1="1689.29" x2="102.9" y2="1689.29"/>
<line x1="628.5" y1="1689.29" x2="624" y2="1689.29"/>
<line x1="98.4" y1="1685.87" x2="102.9" y2="1685.87"/>
<line x1="628.5" y1="1685.87" x2="624" y2="1685.87"/>
<line x1="98.4" y1="1682.85" x2="102.9" y2="1682.85"/>
<line x1="628.5" y1="1682.85" x2="624" y2="1682.85"/>
<line x1="98.4" y1="1680.16" x2="102.9" y2="1680.16"/>
<line x1="628.5" y1="1680.16" x2="624" y2="1680.16"/>
<line x1="98.4" y1="1662.41" x2="102.9" y2="1662.41"/>
<line x1="628.5" y1="1662.41" x2="624" y2="1662.41"/>
<line x1="98.4" y1="1652.03" x2="102.9" y2="1652.03"/>
<line x1="628.5" y1="1652.03" x2="624" y2="1652.03"/>
<line x1="98.4" y1="1644.66" x2="102.9" y2="1644.66"/>
<line x1="628.5" y1="1644.66" x2="624" y2="1644.66"/>
<line x1="98.4" y1="1638.95" x2="102.9" y2="1638.95"/>
<line x1="628.5" y1="1638.95" x2="624" y2="1638.95"/>
<line x1="98.4" y1="1634.28" x2="102.9" y2="1634.28"/>
<line x1="628.5" y1="1634.28" x2="624" y2="1634.28"/>
<line x1="98.4" y1="1630.33" x2="102.9" y2="1630.33"/>
<line x1="628.5" y1="1630.33" x2="624" y2="1630.33"/>
<line x1="98.4" y1="1626.91" x2="102.9" y2="1626.91"/>
<line x1="628.5" y1="1626.91" x2="624" y2="1626.91"/>
<line x1="98.4" y1="1623.9" x2="102.9" y2="1623.9"/>
<line x1="628.5" y1="1623.9" x2="624" y2="1623.9"/>
<line x1="98.4" y1="1621.2" x2="105.4" y2="1621.2"/>
<line x1="628.5" y1="1621.2" x2="621.5" y2="1621.2"/>
</g>
<rect x="98.4" y="1621.2" width="530.1" height="530.6" fill="none" stroke="#000" stroke-width="2.4"/>
<path d="M359.3 1620.2L360.3 1618.3L365.1 1618.2L363.1 1620.6Z" fill="#000"/>
<g font-family='"Liberation Sans", sans-serif' fill="#000">
<text x="80.92" y="2184.8" font-size="23.5">10<tspan font-size="17" dy="-8.2">1</tspan></text>
<text x="213.46" y="2184.8" font-size="23.5">10<tspan font-size="17" dy="-8.2">2</tspan></text>
<text x="345.93" y="2184.8" font-size="23.5">10<tspan font-size="17" dy="-8.2">3</tspan></text>
<text x="478.33" y="2184.8" font-size="23.5">10<tspan font-size="17" dy="-8.2">4</tspan></text>
<text x="610.97" y="2184.8" font-size="23.5">10<tspan font-size="17" dy="-8.2">5</tspan></text>
<text x="46.19" y="2100.84" font-size="23.5">10<tspan font-size="17" dy="-8.5">-6</tspan></text>
<text x="45.94" y="1982.93" font-size="23.5">10<tspan font-size="17" dy="-8.5">-4</tspan></text>
<text x="46.3" y="1865.02" font-size="23.5">10<tspan font-size="17" dy="-8.5">-2</tspan></text>
<text x="51.77" y="1747.11" font-size="23.5">10<tspan font-size="17" dy="-8.5">0</tspan></text>
<text x="51.96" y="1629.2" font-size="23.5">10<tspan font-size="17" dy="-8.5">2</tspan></text>
<text transform="translate(248.87 1600) scale(0.96 1)" font-size="36.6" fill="#404040">Otsu &amp; Canny</text>
<text transform="translate(108.97 1720) scale(1.07 1)" font-size="44.7" fill="#404040">e</text>
<text transform="translate(28.7 1956.93) rotate(-90)" font-size="26" fill="#000">n</text>
<text transform="translate(28.7 1929.95) rotate(-90)" font-size="26" fill="#000">[L</text>
<text transform="translate(18.5 1908.02) rotate(-90)" font-size="18.4" fill="#000">-1</text>
<text transform="translate(28.7 1876.25) rotate(-90)" font-size="26" fill="#000" font-style="italic">μ</text>
<text transform="translate(28.7 1862.53) rotate(-90)" font-size="26" fill="#000">m</text>
<text transform="translate(18.5 1841.22) rotate(-90)" font-size="18.4" fill="#000">-1</text>
<text transform="translate(28.7 1824.4) rotate(-90)" font-size="26" fill="#000">]</text>
<text transform="translate(345.24 2235)" font-size="30.8" fill="#404040">[µm]</text>
</g>
<defs><linearGradient id="pg1621" x1="0" y1="1" x2="0" y2="0">
<stop offset="0" stop-color="#3e26a8"/>
<stop offset="0.02" stop-color="#402ab4"/>
<stop offset="0.03" stop-color="#422ec0"/>
<stop offset="0.05" stop-color="#4332cb"/>
<stop offset="0.06" stop-color="#4537d5"/>
<stop offset="0.08" stop-color="#463cde"/>
<stop offset="0.1" stop-color="#4741e5"/>
<stop offset="0.11" stop-color="#4747eb"/>
<stop offset="0.13" stop-color="#484df0"/>
<stop offset="0.14" stop-color="#4852f4"/>
<stop offset="0.16" stop-color="#4758f8"/>
<stop offset="0.17" stop-color="#465efb"/>
<stop offset="0.19" stop-color="#4563fd"/>
<stop offset="0.21" stop-color="#4269fe"/>
<stop offset="0.22" stop-color="#3e6fff"/>
<stop offset="0.24" stop-color="#3875fe"/>
<stop offset="0.25" stop-color="#327cfc"/>
<stop offset="0.27" stop-color="#2f81fa"/>
<stop offset="0.29" stop-color="#2e87f7"/>
<stop offset="0.3" stop-color="#2d8cf3"/>
<stop offset="0.32" stop-color="#2b91ef"/>
<stop offset="0.33" stop-color="#2797eb"/>
<stop offset="0.35" stop-color="#259be8"/>
<stop offset="0.37" stop-color="#23a0e5"/>
<stop offset="0.38" stop-color="#20a5e3"/>
<stop offset="0.4" stop-color="#1ca9df"/>
<stop offset="0.41" stop-color="#18addb"/>
<stop offset="0.43" stop-color="#12b1d6"/>
<stop offset="0.44" stop-color="#08b5d0"/>
<stop offset="0.46" stop-color="#01b8ca"/>
<stop offset="0.48" stop-color="#02bac3"/>
<stop offset="0.49" stop-color="#0bbdbd"/>
<stop offset="0.51" stop-color="#19bfb6"/>
<stop offset="0.52" stop-color="#24c1ae"/>
<stop offset="0.54" stop-color="#2cc4a7"/>
<stop offset="0.56" stop-color="#31c69f"/>
<stop offset="0.57" stop-color="#37c897"/>
<stop offset="0.59" stop-color="#3fca8e"/>
<stop offset="0.6" stop-color="#4acb84"/>
<stop offset="0.62" stop-color="#57cc7a"/>
<stop offset="0.63" stop-color="#64cd6f"/>
<stop offset="0.65" stop-color="#72cd64"/>
<stop offset="0.67" stop-color="#81cc59"/>
<stop offset="0.68" stop-color="#8fcb4e"/>
<stop offset="0.7" stop-color="#9dc943"/>
<stop offset="0.71" stop-color="#abc739"/>
<stop offset="0.73" stop-color="#b9c431"/>
<stop offset="0.75" stop-color="#c5c22a"/>
<stop offset="0.76" stop-color="#d1bf27"/>
<stop offset="0.78" stop-color="#dcbd29"/>
<stop offset="0.79" stop-color="#e6bb2d"/>
<stop offset="0.81" stop-color="#f0ba36"/>
<stop offset="0.83" stop-color="#f8ba3d"/>
<stop offset="0.84" stop-color="#febe3c"/>
<stop offset="0.86" stop-color="#fec338"/>
<stop offset="0.87" stop-color="#fec934"/>
<stop offset="0.89" stop-color="#fccf30"/>
<stop offset="0.9" stop-color="#fad62d"/>
<stop offset="0.92" stop-color="#f7dc2a"/>
<stop offset="0.94" stop-color="#f5e327"/>
<stop offset="0.95" stop-color="#f5e924"/>
<stop offset="0.97" stop-color="#f6ef20"/>
<stop offset="0.98" stop-color="#f7f51b"/>
<stop offset="1" stop-color="#f9fb15"/>
</linearGradient></defs>
<rect x="664.2" y="1621.2" width="32.6" height="530.6" fill="url(#pg1621)" stroke="#333" stroke-width="1"/>
<g stroke="#000" stroke-width="1.3">
<line x1="691" y1="2098.74" x2="696.8" y2="2098.74"/>
<line x1="691" y1="2045.68" x2="696.8" y2="2045.68"/>
<line x1="691" y1="1992.62" x2="696.8" y2="1992.62"/>
<line x1="691" y1="1939.56" x2="696.8" y2="1939.56"/>
<line x1="691" y1="1886.5" x2="696.8" y2="1886.5"/>
<line x1="691" y1="1833.44" x2="696.8" y2="1833.44"/>
<line x1="691" y1="1780.38" x2="696.8" y2="1780.38"/>
<line x1="691" y1="1727.32" x2="696.8" y2="1727.32"/>
<line x1="691" y1="1674.26" x2="696.8" y2="1674.26"/>
</g>
<g font-family='"Liberation Sans", sans-serif'>
<text transform="translate(704.76 2159.5) scale(0.98 1)" font-size="22" fill="#000">0</text>
<text transform="translate(704.74 2106.44) scale(0.98 1)" font-size="22" fill="#000">500</text>
<text transform="translate(703.96 2053.38) scale(0.98 1)" font-size="22" fill="#000">1000</text>
<text transform="translate(703.96 2000.32) scale(0.98 1)" font-size="22" fill="#000">1500</text>
<text transform="translate(704.52 1947.26) scale(0.98 1)" font-size="22" fill="#000">2000</text>
<text transform="translate(704.52 1894.2) scale(0.98 1)" font-size="22" fill="#000">2500</text>
<text transform="translate(704.78 1841.14) scale(0.98 1)" font-size="22" fill="#000">3000</text>
<text transform="translate(704.78 1788.08) scale(0.98 1)" font-size="22" fill="#000">3500</text>
<text transform="translate(705.11 1735.02) scale(0.98 1)" font-size="22" fill="#000">4000</text>
<text transform="translate(705.11 1681.96) scale(0.98 1)" font-size="22" fill="#000">4500</text>
<text transform="translate(704.74 1628.9) scale(0.98 1)" font-size="22" fill="#000">5000</text>
<text transform="translate(595.95 1585) scale(1.01 1)" font-size="30.8" fill="#404040">N [Particles]</text>
</g>
<defs><pattern id="h1" patternUnits="userSpaceOnUse" width="11.1" height="10" patternTransform="translate(1090.6 55.2)"><path d="M-1 -0.9L12.1 10.9M10.1 -0.9L12.1 0.9M-1 9.1L1 10.9" stroke="#6e6e6e" stroke-width="1.1" fill="none"/></pattern>
<pattern id="h1L" patternUnits="userSpaceOnUse" width="7.1" height="7.1" patternTransform="translate(1295.3 49.5)"><path d="M-1 8.1L8.1 -1M-1 1L1 -1M6.1 8.1L8.1 6.1" stroke="#a8a8a8" stroke-width="0.9" fill="none"/></pattern></defs>
<g stroke="#262626" stroke-opacity="0.15" stroke-width="1.3">
<line x1="987.03" y1="49.5" x2="987.03" y2="610.3"/>
<line x1="1080.37" y1="49.5" x2="1080.37" y2="610.3"/>
<line x1="1173.7" y1="49.5" x2="1173.7" y2="610.3"/>
<line x1="1267.03" y1="49.5" x2="1267.03" y2="610.3"/>
<line x1="1360.37" y1="49.5" x2="1360.37" y2="610.3"/>
<line x1="893.7" y1="554.22" x2="1453.7" y2="554.22"/>
<line x1="893.7" y1="498.14" x2="1453.7" y2="498.14"/>
<line x1="893.7" y1="442.06" x2="1453.7" y2="442.06"/>
<line x1="893.7" y1="385.98" x2="1453.7" y2="385.98"/>
<line x1="893.7" y1="329.9" x2="1453.7" y2="329.9"/>
<line x1="893.7" y1="273.82" x2="1453.7" y2="273.82"/>
<line x1="893.7" y1="217.74" x2="1453.7" y2="217.74"/>
<line x1="893.7" y1="161.66" x2="1453.7" y2="161.66"/>
<line x1="893.7" y1="105.58" x2="1453.7" y2="105.58"/>
</g>
<rect x="955.83" y="424.68" width="20.8" height="185.62" fill="#b3b3b3" stroke="#3a3a3a" stroke-width="1.1"/>
<rect x="976.63" y="604.41" width="20.8" height="5.89" fill="#fff" stroke="#666" stroke-width="1.1"/>
<rect x="1049.17" y="258.12" width="20.8" height="352.18" fill="#b3b3b3" stroke="#3a3a3a" stroke-width="1.1"/>
<rect x="1069.97" y="190.26" width="20.8" height="420.04" fill="#fff" stroke="#666" stroke-width="1.1"/>
<rect x="1090.77" y="295.69" width="20.8" height="314.61" fill="url(#h1)"/>
<path d="M1090.77 610.3V295.69H1111.57V610.3" fill="none" stroke="#555" stroke-width="1.1"/>
<rect x="1142.5" y="590.11" width="20.8" height="20.19" fill="#b3b3b3" stroke="#3a3a3a" stroke-width="1.1"/>
<rect x="1163.3" y="489.17" width="20.8" height="121.13" fill="#fff" stroke="#666" stroke-width="1.1"/>
<rect x="1184.1" y="391.59" width="20.8" height="218.71" fill="url(#h1)"/>
<path d="M1184.1 610.3V391.59H1204.9V610.3" fill="none" stroke="#555" stroke-width="1.1"/>
<rect x="1235.83" y="609.46" width="20.8" height="0.84" fill="#b3b3b3" stroke="#3a3a3a" stroke-width="1.1"/>
<rect x="1256.63" y="601.05" width="20.8" height="9.25" fill="#fff" stroke="#666" stroke-width="1.1"/>
<rect x="1277.43" y="591.23" width="20.8" height="19.07" fill="url(#h1)"/>
<path d="M1277.43 610.3V591.23H1298.23V610.3" fill="none" stroke="#555" stroke-width="1.1"/>
<rect x="1349.97" y="607.66" width="20.8" height="2.64" fill="#fff" stroke="#666" stroke-width="1.1"/>
<rect x="1370.77" y="601.89" width="20.8" height="8.41" fill="url(#h1)"/>
<path d="M1370.77 610.3V601.89H1391.57V610.3" fill="none" stroke="#555" stroke-width="1.1"/>
<g stroke="#1a1a1a" stroke-width="1.3">
<line x1="893.7" y1="610.3" x2="899.7" y2="610.3"/>
<line x1="1453.7" y1="610.3" x2="1447.7" y2="610.3"/>
<line x1="893.7" y1="554.22" x2="899.7" y2="554.22"/>
<line x1="1453.7" y1="554.22" x2="1447.7" y2="554.22"/>
<line x1="893.7" y1="498.14" x2="899.7" y2="498.14"/>
<line x1="1453.7" y1="498.14" x2="1447.7" y2="498.14"/>
<line x1="893.7" y1="442.06" x2="899.7" y2="442.06"/>
<line x1="1453.7" y1="442.06" x2="1447.7" y2="442.06"/>
<line x1="893.7" y1="385.98" x2="899.7" y2="385.98"/>
<line x1="1453.7" y1="385.98" x2="1447.7" y2="385.98"/>
<line x1="893.7" y1="329.9" x2="899.7" y2="329.9"/>
<line x1="1453.7" y1="329.9" x2="1447.7" y2="329.9"/>
<line x1="893.7" y1="273.82" x2="899.7" y2="273.82"/>
<line x1="1453.7" y1="273.82" x2="1447.7" y2="273.82"/>
<line x1="893.7" y1="217.74" x2="899.7" y2="217.74"/>
<line x1="1453.7" y1="217.74" x2="1447.7" y2="217.74"/>
<line x1="893.7" y1="161.66" x2="899.7" y2="161.66"/>
<line x1="1453.7" y1="161.66" x2="1447.7" y2="161.66"/>
<line x1="893.7" y1="105.58" x2="899.7" y2="105.58"/>
<line x1="1453.7" y1="105.58" x2="1447.7" y2="105.58"/>
<line x1="893.7" y1="49.5" x2="899.7" y2="49.5"/>
<line x1="1453.7" y1="49.5" x2="1447.7" y2="49.5"/>
<line x1="987.03" y1="610.3" x2="987.03" y2="604.3"/>
<line x1="987.03" y1="49.5" x2="987.03" y2="55.5"/>
<line x1="1080.37" y1="610.3" x2="1080.37" y2="604.3"/>
<line x1="1080.37" y1="49.5" x2="1080.37" y2="55.5"/>
<line x1="1173.7" y1="610.3" x2="1173.7" y2="604.3"/>
<line x1="1173.7" y1="49.5" x2="1173.7" y2="55.5"/>
<line x1="1267.03" y1="610.3" x2="1267.03" y2="604.3"/>
<line x1="1267.03" y1="49.5" x2="1267.03" y2="55.5"/>
<line x1="1360.37" y1="610.3" x2="1360.37" y2="604.3"/>
<line x1="1360.37" y1="49.5" x2="1360.37" y2="55.5"/>
</g>
<rect x="893.7" y="49.5" width="560" height="560.8" fill="none" stroke="#1a1a1a" stroke-width="1.6"/>
<g font-family='"Liberation Sans", sans-serif' fill="#1a1a1a">
<text transform="translate(879.29 616.2)" font-size="15.3" fill="#000">0</text>
<text transform="translate(870.78 560.12)" font-size="15.3" fill="#000">10</text>
<text transform="translate(870.78 504.04)" font-size="15.3" fill="#000">20</text>
<text transform="translate(870.78 447.96)" font-size="15.3" fill="#000">30</text>
<text transform="translate(870.78 391.88)" font-size="15.3" fill="#000">40</text>
<text transform="translate(870.78 335.8)" font-size="15.3" fill="#000">50</text>
<text transform="translate(870.78 279.72)" font-size="15.3" fill="#000">60</text>
<text transform="translate(870.78 223.64)" font-size="15.3" fill="#000">70</text>
<text transform="translate(870.78 167.56)" font-size="15.3" fill="#000">80</text>
<text transform="translate(870.78 111.48)" font-size="15.3" fill="#000">90</text>
<text transform="translate(862.27 55.4)" font-size="15.3" fill="#000">100</text>
<text x="957.11" y="630.7" font-size="15.3" style="white-space:pre">0-50  <tspan font-style="italic">&#956;</tspan>m</text>
<text x="1037.4" y="630.7" font-size="15.3" style="white-space:pre">100-300  <tspan font-style="italic">&#956;</tspan>m</text>
<text x="1131.02" y="630.7" font-size="15.3" style="white-space:pre">300-600  <tspan font-style="italic">&#956;</tspan>m</text>
<text x="1224.26" y="630.7" font-size="15.3" style="white-space:pre">600-800  <tspan font-style="italic">&#956;</tspan>m</text>
<text x="1313.39" y="630.7" font-size="15.3" style="white-space:pre">800-1000  <tspan font-style="italic">&#956;</tspan>m</text>
<text transform="translate(853 429.21) rotate(-90) scale(0.91 1)" font-size="18.9" fill="#1a1a1a">Relative particle count [%]</text>
<rect x="1290.7" y="62.1" width="151.1" height="53.3" fill="#fff" stroke="#111" stroke-width="1.4"/>
<rect x="1295.3" y="66.6" width="47.6" height="11.8" fill="#b3b3b3" stroke="#222" stroke-width="1"/>
<text transform="translate(1345.73 77.6) scale(0.96 1)" font-size="14.8" fill="#111">LISST HOLO2</text>
<rect x="1295.3" y="83.1" width="47.6" height="11.8" fill="#fff" stroke="#222" stroke-width="1"/>
<text transform="translate(1346.18 94.1) scale(0.96 1)" font-size="14.8" fill="#111">CPICS</text>
<rect x="1295.3" y="99.6" width="47.6" height="11.8" fill="url(#h1L)" stroke="#222" stroke-width="1"/>
<text transform="translate(1345.8 110.6) scale(0.96 1)" font-size="14.8" fill="#111">UVP5</text>
</g>
<defs><pattern id="h2" patternUnits="userSpaceOnUse" width="11.1" height="10" patternTransform="translate(1090.6 820.7)"><path d="M-1 -0.9L12.1 10.9M10.1 -0.9L12.1 0.9M-1 9.1L1 10.9" stroke="#6e6e6e" stroke-width="1.1" fill="none"/></pattern>
<pattern id="h2L" patternUnits="userSpaceOnUse" width="7.1" height="7.1" patternTransform="translate(1295.3 815)"><path d="M-1 8.1L8.1 -1M-1 1L1 -1M6.1 8.1L8.1 6.1" stroke="#a8a8a8" stroke-width="0.9" fill="none"/></pattern></defs>
<g stroke="#262626" stroke-opacity="0.15" stroke-width="1.3">
<line x1="987.03" y1="815" x2="987.03" y2="1374.9"/>
<line x1="1080.37" y1="815" x2="1080.37" y2="1374.9"/>
<line x1="1173.7" y1="815" x2="1173.7" y2="1374.9"/>
<line x1="1267.03" y1="815" x2="1267.03" y2="1374.9"/>
<line x1="1360.37" y1="815" x2="1360.37" y2="1374.9"/>
<line x1="893.7" y1="1318.91" x2="1453.7" y2="1318.91"/>
<line x1="893.7" y1="1262.92" x2="1453.7" y2="1262.92"/>
<line x1="893.7" y1="1206.93" x2="1453.7" y2="1206.93"/>
<line x1="893.7" y1="1150.94" x2="1453.7" y2="1150.94"/>
<line x1="893.7" y1="1094.95" x2="1453.7" y2="1094.95"/>
<line x1="893.7" y1="1038.96" x2="1453.7" y2="1038.96"/>
<line x1="893.7" y1="982.97" x2="1453.7" y2="982.97"/>
<line x1="893.7" y1="926.98" x2="1453.7" y2="926.98"/>
<line x1="893.7" y1="870.99" x2="1453.7" y2="870.99"/>
</g>
<rect x="976.63" y="1359.78" width="20.8" height="15.12" fill="#fff" stroke="#666" stroke-width="1.1"/>
<rect x="1049.17" y="920.26" width="20.8" height="454.64" fill="#b3b3b3" stroke="#3a3a3a" stroke-width="1.1"/>
<rect x="1069.97" y="993.61" width="20.8" height="381.29" fill="#fff" stroke="#666" stroke-width="1.1"/>
<rect x="1142.5" y="1275.8" width="20.8" height="99.1" fill="#b3b3b3" stroke="#3a3a3a" stroke-width="1.1"/>
<rect x="1163.3" y="1233.25" width="20.8" height="141.65" fill="#fff" stroke="#666" stroke-width="1.1"/>
<rect x="1184.1" y="1362.02" width="20.8" height="12.88" fill="url(#h2)"/>
<path d="M1184.1 1374.9V1362.02H1204.9V1374.9" fill="none" stroke="#555" stroke-width="1.1"/>
<rect x="1235.83" y="1369.58" width="20.8" height="5.32" fill="#b3b3b3" stroke="#3a3a3a" stroke-width="1.1"/>
<rect x="1256.63" y="1360.62" width="20.8" height="14.28" fill="#fff" stroke="#666" stroke-width="1.1"/>
<rect x="1277.43" y="1033.36" width="20.8" height="341.54" fill="url(#h2)"/>
<path d="M1277.43 1374.9V1033.36H1298.23V1374.9" fill="none" stroke="#555" stroke-width="1.1"/>
<rect x="1349.97" y="1369.58" width="20.8" height="5.32" fill="#fff" stroke="#666" stroke-width="1.1"/>
<rect x="1370.77" y="1170.54" width="20.8" height="204.36" fill="url(#h2)"/>
<path d="M1370.77 1374.9V1170.54H1391.57V1374.9" fill="none" stroke="#555" stroke-width="1.1"/>
<g stroke="#1a1a1a" stroke-width="1.3">
<line x1="893.7" y1="1374.9" x2="899.7" y2="1374.9"/>
<line x1="1453.7" y1="1374.9" x2="1447.7" y2="1374.9"/>
<line x1="893.7" y1="1318.91" x2="899.7" y2="1318.91"/>
<line x1="1453.7" y1="1318.91" x2="1447.7" y2="1318.91"/>
<line x1="893.7" y1="1262.92" x2="899.7" y2="1262.92"/>
<line x1="1453.7" y1="1262.92" x2="1447.7" y2="1262.92"/>
<line x1="893.7" y1="1206.93" x2="899.7" y2="1206.93"/>
<line x1="1453.7" y1="1206.93" x2="1447.7" y2="1206.93"/>
<line x1="893.7" y1="1150.94" x2="899.7" y2="1150.94"/>
<line x1="1453.7" y1="1150.94" x2="1447.7" y2="1150.94"/>
<line x1="893.7" y1="1094.95" x2="899.7" y2="1094.95"/>
<line x1="1453.7" y1="1094.95" x2="1447.7" y2="1094.95"/>
<line x1="893.7" y1="1038.96" x2="899.7" y2="1038.96"/>
<line x1="1453.7" y1="1038.96" x2="1447.7" y2="1038.96"/>
<line x1="893.7" y1="982.97" x2="899.7" y2="982.97"/>
<line x1="1453.7" y1="982.97" x2="1447.7" y2="982.97"/>
<line x1="893.7" y1="926.98" x2="899.7" y2="926.98"/>
<line x1="1453.7" y1="926.98" x2="1447.7" y2="926.98"/>
<line x1="893.7" y1="870.99" x2="899.7" y2="870.99"/>
<line x1="1453.7" y1="870.99" x2="1447.7" y2="870.99"/>
<line x1="893.7" y1="815" x2="899.7" y2="815"/>
<line x1="1453.7" y1="815" x2="1447.7" y2="815"/>
<line x1="987.03" y1="1374.9" x2="987.03" y2="1368.9"/>
<line x1="987.03" y1="815" x2="987.03" y2="821"/>
<line x1="1080.37" y1="1374.9" x2="1080.37" y2="1368.9"/>
<line x1="1080.37" y1="815" x2="1080.37" y2="821"/>
<line x1="1173.7" y1="1374.9" x2="1173.7" y2="1368.9"/>
<line x1="1173.7" y1="815" x2="1173.7" y2="821"/>
<line x1="1267.03" y1="1374.9" x2="1267.03" y2="1368.9"/>
<line x1="1267.03" y1="815" x2="1267.03" y2="821"/>
<line x1="1360.37" y1="1374.9" x2="1360.37" y2="1368.9"/>
<line x1="1360.37" y1="815" x2="1360.37" y2="821"/>
</g>
<rect x="893.7" y="815" width="560" height="559.9" fill="none" stroke="#1a1a1a" stroke-width="1.6"/>
<g font-family='"Liberation Sans", sans-serif' fill="#1a1a1a">
<text transform="translate(879.29 1380.8)" font-size="15.3" fill="#000">0</text>
<text transform="translate(870.78 1324.81)" font-size="15.3" fill="#000">10</text>
<text transform="translate(870.78 1268.82)" font-size="15.3" fill="#000">20</text>
<text transform="translate(870.78 1212.83)" font-size="15.3" fill="#000">30</text>
<text transform="translate(870.78 1156.84)" font-size="15.3" fill="#000">40</text>
<text transform="translate(870.78 1100.85)" font-size="15.3" fill="#000">50</text>
<text transform="translate(870.78 1044.86)" font-size="15.3" fill="#000">60</text>
<text transform="translate(870.78 988.87)" font-size="15.3" fill="#000">70</text>
<text transform="translate(870.78 932.88)" font-size="15.3" fill="#000">80</text>
<text transform="translate(870.78 876.89)" font-size="15.3" fill="#000">90</text>
<text transform="translate(862.27 820.9)" font-size="15.3" fill="#000">100</text>
<text x="957.11" y="1395.3" font-size="15.3" style="white-space:pre">0-50  <tspan font-style="italic">&#956;</tspan>m</text>
<text x="1037.4" y="1395.3" font-size="15.3" style="white-space:pre">100-300  <tspan font-style="italic">&#956;</tspan>m</text>
<text x="1131.02" y="1395.3" font-size="15.3" style="white-space:pre">300-600  <tspan font-style="italic">&#956;</tspan>m</text>
<text x="1224.26" y="1395.3" font-size="15.3" style="white-space:pre">600-800  <tspan font-style="italic">&#956;</tspan>m</text>
<text x="1313.39" y="1395.3" font-size="15.3" style="white-space:pre">800-1000  <tspan font-style="italic">&#956;</tspan>m</text>
<text transform="translate(853 1194.41) rotate(-90) scale(0.91 1)" font-size="18.9" fill="#1a1a1a">Relative particle count [%]</text>
<rect x="1290.7" y="827.6" width="151.1" height="53.3" fill="#fff" stroke="#111" stroke-width="1.4"/>
<rect x="1295.3" y="832.1" width="47.6" height="11.8" fill="#b3b3b3" stroke="#222" stroke-width="1"/>
<text transform="translate(1345.73 843.1) scale(0.96 1)" font-size="14.8" fill="#111">LISST HOLO2</text>
<rect x="1295.3" y="848.6" width="47.6" height="11.8" fill="#fff" stroke="#222" stroke-width="1"/>
<text transform="translate(1346.18 859.6) scale(0.96 1)" font-size="14.8" fill="#111">CPICS</text>
<rect x="1295.3" y="865.1" width="47.6" height="11.8" fill="url(#h2L)" stroke="#222" stroke-width="1"/>
<text transform="translate(1345.8 876.1) scale(0.96 1)" font-size="14.8" fill="#111">UVP5</text>
</g>
<defs><pattern id="h3" patternUnits="userSpaceOnUse" width="11.1" height="10" patternTransform="translate(1090.6 1607.5)"><path d="M-1 -0.9L12.1 10.9M10.1 -0.9L12.1 0.9M-1 9.1L1 10.9" stroke="#6e6e6e" stroke-width="1.1" fill="none"/></pattern>
<pattern id="h3L" patternUnits="userSpaceOnUse" width="7.1" height="7.1" patternTransform="translate(1295.3 1601.8)"><path d="M-1 8.1L8.1 -1M-1 1L1 -1M6.1 8.1L8.1 6.1" stroke="#a8a8a8" stroke-width="0.9" fill="none"/></pattern></defs>
<g stroke="#262626" stroke-opacity="0.15" stroke-width="1.3">
<line x1="987.03" y1="1601.8" x2="987.03" y2="2161.9"/>
<line x1="1080.37" y1="1601.8" x2="1080.37" y2="2161.9"/>
<line x1="1173.7" y1="1601.8" x2="1173.7" y2="2161.9"/>
<line x1="1267.03" y1="1601.8" x2="1267.03" y2="2161.9"/>
<line x1="1360.37" y1="1601.8" x2="1360.37" y2="2161.9"/>
<line x1="893.7" y1="2105.89" x2="1453.7" y2="2105.89"/>
<line x1="893.7" y1="2049.88" x2="1453.7" y2="2049.88"/>
<line x1="893.7" y1="1993.87" x2="1453.7" y2="1993.87"/>
<line x1="893.7" y1="1937.86" x2="1453.7" y2="1937.86"/>
<line x1="893.7" y1="1881.85" x2="1453.7" y2="1881.85"/>
<line x1="893.7" y1="1825.84" x2="1453.7" y2="1825.84"/>
<line x1="893.7" y1="1769.83" x2="1453.7" y2="1769.83"/>
<line x1="893.7" y1="1713.82" x2="1453.7" y2="1713.82"/>
<line x1="893.7" y1="1657.81" x2="1453.7" y2="1657.81"/>
</g>
<rect x="955.83" y="1975.95" width="20.8" height="185.95" fill="#b3b3b3" stroke="#3a3a3a" stroke-width="1.1"/>
<rect x="976.63" y="2146.22" width="20.8" height="15.68" fill="#fff" stroke="#666" stroke-width="1.1"/>
<rect x="1049.17" y="1809.6" width="20.8" height="352.3" fill="#b3b3b3" stroke="#3a3a3a" stroke-width="1.1"/>
<rect x="1069.97" y="1780.47" width="20.8" height="381.43" fill="#fff" stroke="#666" stroke-width="1.1"/>
<rect x="1142.5" y="2141.18" width="20.8" height="20.72" fill="#b3b3b3" stroke="#3a3a3a" stroke-width="1.1"/>
<rect x="1163.3" y="2020.19" width="20.8" height="141.71" fill="#fff" stroke="#666" stroke-width="1.1"/>
<rect x="1184.1" y="2148.46" width="20.8" height="13.44" fill="url(#h3)"/>
<path d="M1184.1 2161.9V2148.46H1204.9V2161.9" fill="none" stroke="#555" stroke-width="1.1"/>
<rect x="1235.83" y="2161.06" width="20.8" height="0.84" fill="#b3b3b3" stroke="#3a3a3a" stroke-width="1.1"/>
<rect x="1256.63" y="2147.34" width="20.8" height="14.56" fill="#fff" stroke="#666" stroke-width="1.1"/>
<rect x="1277.43" y="1819.68" width="20.8" height="342.22" fill="url(#h3)"/>
<path d="M1277.43 2161.9V1819.68H1298.23V2161.9" fill="none" stroke="#555" stroke-width="1.1"/>
<rect x="1349.97" y="2156.58" width="20.8" height="5.32" fill="#fff" stroke="#666" stroke-width="1.1"/>
<rect x="1370.77" y="1957.46" width="20.8" height="204.44" fill="url(#h3)"/>
<path d="M1370.77 2161.9V1957.46H1391.57V2161.9" fill="none" stroke="#555" stroke-width="1.1"/>
<g stroke="#1a1a1a" stroke-width="1.3">
<line x1="893.7" y1="2161.9" x2="899.7" y2="2161.9"/>
<line x1="1453.7" y1="2161.9" x2="1447.7" y2="2161.9"/>
<line x1="893.7" y1="2105.89" x2="899.7" y2="2105.89"/>
<line x1="1453.7" y1="2105.89" x2="1447.7" y2="2105.89"/>
<line x1="893.7" y1="2049.88" x2="899.7" y2="2049.88"/>
<line x1="1453.7" y1="2049.88" x2="1447.7" y2="2049.88"/>
<line x1="893.7" y1="1993.87" x2="899.7" y2="1993.87"/>
<line x1="1453.7" y1="1993.87" x2="1447.7" y2="1993.87"/>
<line x1="893.7" y1="1937.86" x2="899.7" y2="1937.86"/>
<line x1="1453.7" y1="1937.86" x2="1447.7" y2="1937.86"/>
<line x1="893.7" y1="1881.85" x2="899.7" y2="1881.85"/>
<line x1="1453.7" y1="1881.85" x2="1447.7" y2="1881.85"/>
<line x1="893.7" y1="1825.84" x2="899.7" y2="1825.84"/>
<line x1="1453.7" y1="1825.84" x2="1447.7" y2="1825.84"/>
<line x1="893.7" y1="1769.83" x2="899.7" y2="1769.83"/>
<line x1="1453.7" y1="1769.83" x2="1447.7" y2="1769.83"/>
<line x1="893.7" y1="1713.82" x2="899.7" y2="1713.82"/>
<line x1="1453.7" y1="1713.82" x2="1447.7" y2="1713.82"/>
<line x1="893.7" y1="1657.81" x2="899.7" y2="1657.81"/>
<line x1="1453.7" y1="1657.81" x2="1447.7" y2="1657.81"/>
<line x1="893.7" y1="1601.8" x2="899.7" y2="1601.8"/>
<line x1="1453.7" y1="1601.8" x2="1447.7" y2="1601.8"/>
<line x1="987.03" y1="2161.9" x2="987.03" y2="2155.9"/>
<line x1="987.03" y1="1601.8" x2="987.03" y2="1607.8"/>
<line x1="1080.37" y1="2161.9" x2="1080.37" y2="2155.9"/>
<line x1="1080.37" y1="1601.8" x2="1080.37" y2="1607.8"/>
<line x1="1173.7" y1="2161.9" x2="1173.7" y2="2155.9"/>
<line x1="1173.7" y1="1601.8" x2="1173.7" y2="1607.8"/>
<line x1="1267.03" y1="2161.9" x2="1267.03" y2="2155.9"/>
<line x1="1267.03" y1="1601.8" x2="1267.03" y2="1607.8"/>
<line x1="1360.37" y1="2161.9" x2="1360.37" y2="2155.9"/>
<line x1="1360.37" y1="1601.8" x2="1360.37" y2="1607.8"/>
</g>
<rect x="893.7" y="1601.8" width="560" height="560.1" fill="none" stroke="#1a1a1a" stroke-width="1.6"/>
<g font-family='"Liberation Sans", sans-serif' fill="#1a1a1a">
<text transform="translate(879.29 2167.8)" font-size="15.3" fill="#000">0</text>
<text transform="translate(870.78 2111.79)" font-size="15.3" fill="#000">10</text>
<text transform="translate(870.78 2055.78)" font-size="15.3" fill="#000">20</text>
<text transform="translate(870.78 1999.77)" font-size="15.3" fill="#000">30</text>
<text transform="translate(870.78 1943.76)" font-size="15.3" fill="#000">40</text>
<text transform="translate(870.78 1887.75)" font-size="15.3" fill="#000">50</text>
<text transform="translate(870.78 1831.74)" font-size="15.3" fill="#000">60</text>
<text transform="translate(870.78 1775.73)" font-size="15.3" fill="#000">70</text>
<text transform="translate(870.78 1719.72)" font-size="15.3" fill="#000">80</text>
<text transform="translate(870.78 1663.71)" font-size="15.3" fill="#000">90</text>
<text transform="translate(862.27 1607.7)" font-size="15.3" fill="#000">100</text>
<text x="957.11" y="2182.3" font-size="15.3" style="white-space:pre">0-50  <tspan font-style="italic">&#956;</tspan>m</text>
<text x="1037.4" y="2182.3" font-size="15.3" style="white-space:pre">100-300  <tspan font-style="italic">&#956;</tspan>m</text>
<text x="1131.02" y="2182.3" font-size="15.3" style="white-space:pre">300-600  <tspan font-style="italic">&#956;</tspan>m</text>
<text x="1224.26" y="2182.3" font-size="15.3" style="white-space:pre">600-800  <tspan font-style="italic">&#956;</tspan>m</text>
<text x="1313.39" y="2182.3" font-size="15.3" style="white-space:pre">800-1000  <tspan font-style="italic">&#956;</tspan>m</text>
<text transform="translate(853 1981.21) rotate(-90) scale(0.91 1)" font-size="18.9" fill="#1a1a1a">Relative particle count [%]</text>
<rect x="1290.7" y="1614.4" width="151.1" height="53.3" fill="#fff" stroke="#111" stroke-width="1.4"/>
<rect x="1295.3" y="1618.9" width="47.6" height="11.8" fill="#b3b3b3" stroke="#222" stroke-width="1"/>
<text transform="translate(1345.73 1629.9) scale(0.96 1)" font-size="14.8" fill="#111">LISST HOLO2</text>
<rect x="1295.3" y="1635.4" width="47.6" height="11.8" fill="#fff" stroke="#222" stroke-width="1"/>
<text transform="translate(1346.18 1646.4) scale(0.96 1)" font-size="14.8" fill="#111">CPICS</text>
<rect x="1295.3" y="1651.9" width="47.6" height="11.8" fill="url(#h3L)" stroke="#222" stroke-width="1"/>
<text transform="translate(1345.8 1662.9) scale(0.96 1)" font-size="14.8" fill="#111">UVP5</text>
</g>
</svg></body></html>
